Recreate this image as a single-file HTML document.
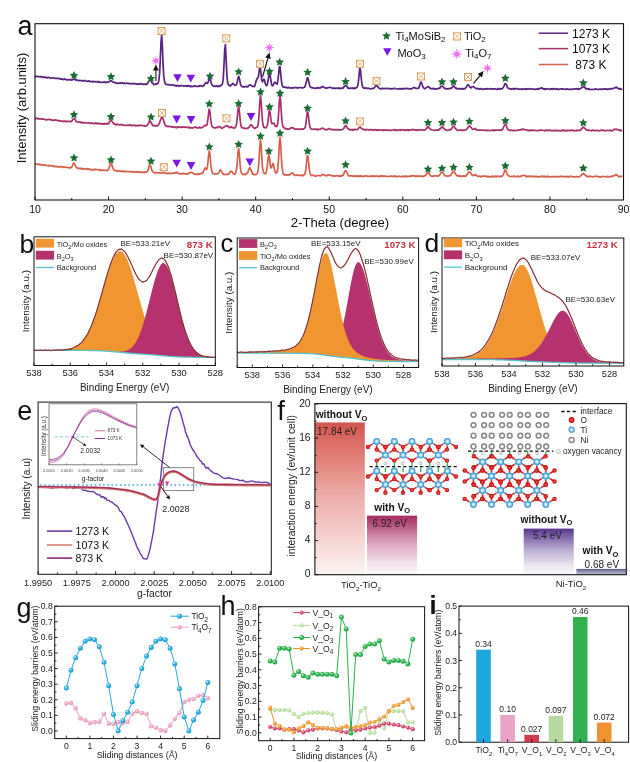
<!DOCTYPE html>
<html><head><meta charset="utf-8"><title>figure</title>
<style>html,body{margin:0;padding:0;background:#fff;} svg{display:block;filter:blur(0.35px);} text{font-family:'Liberation Sans', Arial, sans-serif;}</style>
</head><body>
<svg width="630" height="762" viewBox="0 0 630 762">
<rect width="630" height="762" fill="#fff"/>
<path d="M35.0,75.9 35.7,76.6 36.4,76.6 37.1,76.2 37.8,76.5 38.5,76.6 39.2,76.8 39.9,77.0 40.6,76.5 41.3,76.5 42.0,77.3 42.7,77.0 43.4,77.4 44.1,76.8 44.8,77.3 45.5,77.6 46.2,77.2 46.9,77.9 47.6,78.0 48.3,77.3 49.0,77.3 49.7,77.9 50.4,78.3 51.1,77.9 51.8,77.8 52.5,78.0 53.2,77.8 53.9,78.0 54.6,78.3 55.3,78.4 56.0,78.2 56.7,78.3 57.4,78.3 58.1,78.6 58.8,78.5 59.5,78.4 60.2,79.2 60.9,79.0 61.6,79.1 62.3,78.8 63.0,79.6 63.7,79.5 64.4,78.9 65.1,79.1 65.8,79.6 66.5,79.6 67.2,79.9 67.9,79.5 68.6,79.9 69.3,79.8 70.0,79.5 70.7,79.8 71.4,80.1 72.1,80.0 72.8,79.5 73.5,79.4 74.2,78.9 74.9,79.3 75.6,80.1 76.3,80.0 77.0,79.9 77.7,80.4 78.4,80.6 79.1,80.6 79.8,80.4 80.5,80.5 81.2,80.6 81.9,80.9 82.6,80.8 83.3,80.7 84.0,80.8 84.7,80.5 85.4,80.6 86.1,81.2 86.8,81.5 87.5,81.2 88.2,81.1 88.9,80.9 89.6,81.3 90.3,81.8 91.0,81.6 91.7,81.5 92.4,81.8 93.1,81.3 93.8,81.6 94.5,82.0 95.2,81.7 95.9,81.7 96.6,81.5 97.3,81.8 98.0,82.3 98.7,81.4 99.4,82.2 100.1,82.3 100.8,82.4 101.5,82.3 102.2,82.4 102.9,82.2 103.6,82.2 104.3,82.2 105.0,81.9 105.7,82.6 106.4,82.4 107.1,82.1 107.8,82.3 108.5,82.1 109.2,81.6 109.9,81.1 110.6,80.7 111.3,80.8 112.0,81.3 112.7,81.9 113.4,82.0 114.1,82.4 114.8,82.5 115.5,82.9 116.2,83.2 116.9,83.2 117.6,83.3 118.3,83.3 119.0,82.9 119.7,83.4 120.4,83.3 121.1,82.8 121.8,82.8 122.5,82.9 123.2,83.6 123.9,83.1 124.6,83.1 125.3,83.6 126.0,83.3 126.7,83.1 127.4,83.2 128.1,83.6 128.8,83.3 129.5,83.4 130.2,83.9 130.9,83.7 131.6,83.6 132.3,83.8 133.0,83.4 133.7,83.7 134.4,83.8 135.1,83.6 135.8,83.6 136.5,84.3 137.2,84.0 137.9,83.8 138.6,84.1 139.3,84.4 140.0,83.7 140.7,83.7 141.4,83.8 142.1,84.4 142.8,83.9 143.5,84.4 144.2,84.4 144.9,84.2 145.6,83.9 146.3,84.5 147.0,84.1 147.7,83.2 148.4,81.8 149.1,80.6 149.8,79.3 150.5,79.8 151.2,81.0 151.9,82.8 152.6,83.2 153.3,83.8 154.0,84.6 154.7,84.5 155.4,83.9 156.1,84.3 156.8,83.6 157.5,83.8 158.2,82.9 158.9,80.2 159.6,73.4 160.3,59.3 161.0,42.3 161.7,34.3 162.4,47.1 163.1,64.9 163.8,76.4 164.5,81.2 165.2,83.6 165.9,84.4 166.6,84.5 167.3,84.5 168.0,84.6 168.7,84.7 169.4,84.7 170.1,85.2 170.8,85.0 171.5,84.9 172.2,84.9 172.9,85.4 173.6,85.1 174.3,85.4 175.0,85.3 175.7,85.9 176.4,86.1 177.1,85.4 177.8,85.6 178.5,85.7 179.2,86.2 179.9,85.9 180.6,85.5 181.3,85.4 182.0,85.9 182.7,86.0 183.4,86.1 184.1,85.6 184.8,86.1 185.5,86.0 186.2,85.8 186.9,86.3 187.6,85.7 188.3,86.2 189.0,85.7 189.7,85.9 190.4,86.8 191.1,86.2 191.8,86.6 192.5,86.3 193.2,86.4 193.9,86.0 194.6,85.9 195.3,85.9 196.0,86.4 196.7,86.2 197.4,86.5 198.1,86.5 198.8,85.8 199.5,86.2 200.2,85.8 200.9,85.7 201.6,85.7 202.3,86.4 203.0,86.1 203.7,85.7 204.4,84.5 205.1,83.6 205.8,82.9 206.5,82.6 207.2,83.3 207.9,82.6 208.6,80.9 209.3,78.9 210.0,79.0 210.7,80.7 211.4,83.6 212.1,84.9 212.8,85.6 213.5,86.3 214.2,86.5 214.9,85.8 215.6,86.4 216.3,85.9 217.0,85.9 217.7,86.6 218.4,85.8 219.1,85.9 219.8,86.5 220.5,85.8 221.2,85.3 221.9,84.7 222.6,83.1 223.3,78.0 224.0,64.8 224.7,49.4 225.4,44.5 226.1,58.5 226.8,73.7 227.5,81.5 228.2,84.4 228.9,85.5 229.6,85.4 230.3,86.0 231.0,85.1 231.7,84.3 232.4,84.3 233.1,83.3 233.8,84.2 234.5,85.0 235.2,85.4 235.9,85.0 236.6,84.3 237.3,81.6 238.0,78.2 238.7,76.2 239.4,78.5 240.1,82.3 240.8,85.2 241.5,86.1 242.2,86.7 242.9,86.9 243.6,86.6 244.3,86.9 245.0,86.7 245.7,86.7 246.4,86.5 247.1,86.6 247.8,86.9 248.5,85.8 249.2,85.3 249.9,84.8 250.6,85.3 251.3,85.5 252.0,86.0 252.7,86.4 253.4,86.4 254.1,86.7 254.8,85.9 255.5,83.6 256.2,80.8 256.9,78.7 257.6,78.3 258.3,77.1 259.0,72.3 259.7,66.9 260.4,68.0 261.1,74.3 261.8,80.4 262.5,81.8 263.2,80.3 263.9,79.1 264.6,80.2 265.3,83.6 266.0,85.2 266.7,85.8 267.4,83.8 268.1,80.5 268.8,75.6 269.5,72.1 270.2,75.8 270.9,80.2 271.6,84.4 272.3,85.9 273.0,85.5 273.7,84.0 274.4,82.4 275.1,82.2 275.8,83.3 276.5,83.8 277.2,84.1 277.9,80.4 278.6,74.6 279.3,66.8 280.0,66.5 280.7,73.7 281.4,80.8 282.1,85.1 282.8,86.7 283.5,87.2 284.2,87.4 284.9,87.1 285.6,87.4 286.3,87.2 287.0,87.8 287.7,87.8 288.4,87.4 289.1,87.3 289.8,88.1 290.5,88.0 291.2,87.8 291.9,87.8 292.6,88.1 293.3,87.8 294.0,87.7 294.7,87.7 295.4,87.6 296.1,87.4 296.8,88.0 297.5,87.8 298.2,87.9 298.9,87.5 299.6,87.7 300.3,87.5 301.0,87.5 301.7,87.6 302.4,88.1 303.1,87.6 303.8,87.5 304.5,87.3 305.2,86.0 305.9,83.6 306.6,80.6 307.3,77.6 308.0,78.0 308.7,81.1 309.4,84.6 310.1,86.7 310.8,87.1 311.5,87.7 312.2,87.8 312.9,87.7 313.6,87.9 314.3,88.0 315.0,88.4 315.7,88.4 316.4,87.8 317.1,88.2 317.8,87.7 318.5,87.7 319.2,88.0 319.9,88.3 320.6,87.4 321.3,87.4 322.0,87.0 322.7,86.3 323.4,86.9 324.1,87.5 324.8,87.6 325.5,88.1 326.2,88.2 326.9,87.9 327.6,87.9 328.3,87.6 329.0,87.5 329.7,87.4 330.4,87.4 331.1,87.7 331.8,87.9 332.5,88.3 333.2,88.5 333.9,87.8 334.6,88.4 335.3,88.5 336.0,88.1 336.7,88.3 337.4,88.0 338.1,88.5 338.8,87.9 339.5,88.7 340.2,88.5 340.9,88.4 341.6,88.0 342.3,88.5 343.0,88.2 343.7,86.9 344.4,86.6 345.1,85.7 345.8,85.3 346.5,86.1 347.2,86.8 347.9,88.0 348.6,88.4 349.3,88.1 350.0,88.5 350.7,88.2 351.4,88.0 352.1,88.1 352.8,87.9 353.5,88.6 354.2,88.6 354.9,87.8 355.6,88.1 356.3,87.8 357.0,87.1 357.7,85.8 358.4,81.7 359.1,74.8 359.8,67.6 360.5,69.9 361.2,78.0 361.9,83.7 362.6,87.0 363.3,87.8 364.0,88.3 364.7,87.9 365.4,88.0 366.1,88.3 366.8,88.1 367.5,88.4 368.2,88.2 368.9,88.6 369.6,88.7 370.3,88.7 371.0,88.9 371.7,88.5 372.4,88.4 373.1,88.6 373.8,88.3 374.5,87.6 375.2,86.6 375.9,85.5 376.6,85.0 377.3,86.3 378.0,86.6 378.7,88.0 379.4,88.3 380.1,88.8 380.8,88.7 381.5,89.0 382.2,88.2 382.9,88.6 383.6,88.6 384.3,88.4 385.0,88.6 385.7,88.5 386.4,88.6 387.1,88.2 387.8,88.6 388.5,88.6 389.2,88.5 389.9,88.6 390.6,88.9 391.3,88.8 392.0,88.7 392.7,88.8 393.4,88.6 394.1,88.4 394.8,88.2 395.5,88.5 396.2,88.8 396.9,89.0 397.6,89.0 398.3,88.7 399.0,89.1 399.7,88.7 400.4,89.0 401.1,88.6 401.8,88.9 402.5,89.1 403.2,88.5 403.9,88.4 404.6,88.8 405.3,88.7 406.0,88.6 406.7,88.3 407.4,88.6 408.1,88.6 408.8,88.6 409.5,89.0 410.2,88.7 410.9,88.8 411.6,88.8 412.3,88.4 413.0,87.8 413.7,87.7 414.4,87.6 415.1,87.9 415.8,88.3 416.5,88.3 417.2,88.5 417.9,88.4 418.6,88.2 419.3,86.7 420.0,84.3 420.7,82.1 421.4,82.3 422.1,84.5 422.8,86.5 423.5,87.7 424.2,88.5 424.9,88.7 425.6,88.3 426.3,87.5 427.0,87.5 427.7,86.7 428.4,86.8 429.1,87.0 429.8,88.0 430.5,88.6 431.2,88.5 431.9,88.6 432.6,88.9 433.3,88.3 434.0,88.8 434.7,89.2 435.4,88.9 436.1,88.7 436.8,88.9 437.5,88.8 438.2,88.4 438.9,88.2 439.6,88.5 440.3,87.3 441.0,86.3 441.7,86.3 442.4,86.1 443.1,86.7 443.8,87.6 444.5,88.4 445.2,88.2 445.9,88.8 446.6,88.9 447.3,89.0 448.0,88.5 448.7,88.8 449.4,88.5 450.1,88.7 450.8,88.0 451.5,88.1 452.2,87.4 452.9,86.1 453.6,85.7 454.3,86.9 455.0,87.5 455.7,88.3 456.4,88.0 457.1,89.0 457.8,88.9 458.5,88.6 459.2,88.7 459.9,89.0 460.6,89.1 461.3,88.5 462.0,88.9 462.7,88.5 463.4,89.2 464.1,88.6 464.8,88.8 465.5,88.2 466.2,87.3 466.9,85.9 467.6,85.1 468.3,84.7 469.0,85.5 469.7,87.1 470.4,87.5 471.1,87.9 471.8,86.9 472.5,86.7 473.2,86.6 473.9,86.8 474.6,87.4 475.3,88.2 476.0,88.6 476.7,88.4 477.4,88.6 478.1,88.5 478.8,89.0 479.5,89.2 480.2,88.7 480.9,88.5 481.6,89.1 482.3,89.2 483.0,89.4 483.7,89.0 484.4,88.8 485.1,89.2 485.8,88.6 486.5,89.1 487.2,88.6 487.9,88.9 488.6,89.0 489.3,88.8 490.0,88.7 490.7,88.7 491.4,89.2 492.1,88.9 492.8,89.0 493.5,88.7 494.2,89.1 494.9,88.8 495.6,89.0 496.3,89.3 497.0,89.4 497.7,88.5 498.4,89.2 499.1,89.2 499.8,88.7 500.5,88.7 501.2,88.9 501.9,89.0 502.6,88.1 503.3,87.6 504.0,86.0 504.7,83.8 505.4,83.9 506.1,84.1 506.8,85.9 507.5,87.8 508.2,88.0 508.9,88.6 509.6,88.5 510.3,88.8 511.0,89.2 511.7,89.3 512.4,88.5 513.1,88.6 513.8,89.3 514.5,88.6 515.2,88.8 515.9,88.7 516.6,88.6 517.3,88.6 518.0,89.1 518.7,89.2 519.4,89.2 520.1,89.3 520.8,89.2 521.5,88.9 522.2,89.1 522.9,89.4 523.6,89.2 524.3,88.8 525.0,88.6 525.7,89.4 526.4,89.1 527.1,88.9 527.8,89.1 528.5,89.1 529.2,89.1 529.9,88.6 530.6,88.9 531.3,89.0 532.0,88.8 532.7,89.4 533.4,89.0 534.1,89.2 534.8,89.2 535.5,89.3 536.2,89.2 536.9,89.2 537.6,88.8 538.3,89.3 539.0,88.4 539.7,88.8 540.4,88.4 541.1,88.3 541.8,87.8 542.5,88.2 543.2,89.1 543.9,88.9 544.6,88.9 545.3,89.5 546.0,88.6 546.7,89.1 547.4,89.0 548.1,88.7 548.8,89.0 549.5,89.2 550.2,89.4 550.9,88.6 551.6,89.1 552.3,88.7 553.0,89.3 553.7,88.7 554.4,88.7 555.1,89.0 555.8,89.3 556.5,88.9 557.2,88.7 557.9,89.3 558.6,89.4 559.3,89.4 560.0,88.9 560.7,89.0 561.4,88.9 562.1,89.1 562.8,88.9 563.5,88.9 564.2,89.3 564.9,89.5 565.6,89.2 566.3,88.7 567.0,89.2 567.7,89.0 568.4,89.5 569.1,89.3 569.8,89.4 570.5,89.3 571.2,89.1 571.9,89.4 572.6,89.4 573.3,88.9 574.0,88.8 574.7,89.0 575.4,89.1 576.1,88.7 576.8,88.9 577.5,89.1 578.2,88.6 578.9,89.3 579.6,89.1 580.3,88.6 581.0,88.2 581.7,87.7 582.4,86.9 583.1,86.8 583.8,86.7 584.5,87.4 585.2,87.8 585.9,89.0 586.6,88.7 587.3,88.8 588.0,88.6 588.7,89.5 589.4,89.0 590.1,89.4 590.8,89.5 591.5,89.5 592.2,89.4 592.9,89.5 593.6,89.5 594.3,89.4 595.0,88.8 595.7,89.1 596.4,89.2 597.1,89.5 597.8,89.4 598.5,89.3 599.2,89.3 599.9,89.0 600.6,89.5 601.3,89.2 602.0,89.0 602.7,89.1 603.4,89.5 604.1,89.1 604.8,88.8 605.5,88.8 606.2,89.3 606.9,89.2 607.6,89.5 608.3,88.8 609.0,89.0 609.7,89.3 610.4,88.7 611.1,88.7 611.8,89.0 612.5,88.7 613.2,88.3 613.9,88.1 614.6,88.1 615.3,87.7 616.0,87.1 616.7,87.3 617.4,88.3 618.1,88.5 618.8,88.4 619.5,89.2 620.2,88.6 620.9,88.9 621.6,89.4 622.3,89.3" stroke="#5a237f" stroke-width="1.7" fill="none" stroke-linejoin="round" />
<path d="M35.0,118.7 35.7,118.8 36.4,118.0 37.1,118.1 37.8,118.9 38.5,118.9 39.2,118.9 39.9,118.6 40.6,119.0 41.3,119.1 42.0,119.1 42.7,118.8 43.4,119.1 44.1,119.2 44.8,119.5 45.5,119.8 46.2,119.9 46.9,119.6 47.6,119.6 48.3,119.5 49.0,119.3 49.7,119.4 50.4,119.8 51.1,119.8 51.8,119.9 52.5,120.4 53.2,120.2 53.9,120.3 54.6,120.0 55.3,119.9 56.0,120.2 56.7,120.1 57.4,120.5 58.1,121.0 58.8,120.8 59.5,120.4 60.2,121.1 60.9,121.1 61.6,121.1 62.3,121.3 63.0,121.2 63.7,121.3 64.4,121.0 65.1,121.6 65.8,121.6 66.5,121.0 67.2,121.5 67.9,121.6 68.6,121.4 69.3,121.5 70.0,121.4 70.7,121.8 71.4,121.1 72.1,120.8 72.8,119.4 73.5,118.9 74.2,118.7 74.9,119.2 75.6,120.4 76.3,121.6 77.0,122.0 77.7,122.0 78.4,121.9 79.1,122.0 79.8,122.5 80.5,122.0 81.2,122.8 81.9,122.3 82.6,122.9 83.3,122.4 84.0,123.0 84.7,122.9 85.4,122.7 86.1,122.8 86.8,123.0 87.5,123.0 88.2,122.8 88.9,122.7 89.6,123.0 90.3,123.5 91.0,123.2 91.7,122.8 92.4,123.5 93.1,123.5 93.8,123.7 94.5,123.1 95.2,123.6 95.9,123.0 96.6,123.6 97.3,123.3 98.0,123.3 98.7,123.9 99.4,123.3 100.1,123.7 100.8,124.0 101.5,123.5 102.2,123.5 102.9,124.2 103.6,123.8 104.3,124.1 105.0,123.5 105.7,123.8 106.4,123.7 107.1,124.1 107.8,123.4 108.5,123.8 109.2,122.2 109.9,121.5 110.6,119.8 111.3,119.9 112.0,121.5 112.7,122.3 113.4,123.3 114.1,124.3 114.8,124.2 115.5,124.0 116.2,125.0 116.9,124.3 117.6,124.2 118.3,124.5 119.0,124.8 119.7,125.0 120.4,124.5 121.1,124.7 121.8,124.5 122.5,124.9 123.2,125.2 123.9,125.2 124.6,125.4 125.3,125.3 126.0,125.4 126.7,125.3 127.4,125.2 128.1,125.0 128.8,125.4 129.5,125.1 130.2,124.9 130.9,125.3 131.6,125.7 132.3,125.1 133.0,125.5 133.7,125.4 134.4,125.5 135.1,125.2 135.8,126.0 136.5,125.4 137.2,125.7 137.9,125.6 138.6,125.2 139.3,125.7 140.0,125.4 140.7,125.3 141.4,125.3 142.1,125.5 142.8,125.4 143.5,125.9 144.2,125.8 144.9,126.2 145.6,126.2 146.3,126.1 147.0,125.2 147.7,124.7 148.4,123.3 149.1,122.0 149.8,120.8 150.5,121.3 151.2,122.8 151.9,124.0 152.6,125.2 153.3,125.8 154.0,125.5 154.7,125.6 155.4,125.9 156.1,125.7 156.8,126.1 157.5,125.5 158.2,124.9 158.9,124.1 159.6,122.6 160.3,120.5 161.0,118.6 161.7,117.1 162.4,117.1 163.1,119.1 163.8,121.0 164.5,123.7 165.2,125.2 165.9,125.9 166.6,126.1 167.3,126.4 168.0,126.6 168.7,126.2 169.4,126.6 170.1,126.8 170.8,126.5 171.5,126.5 172.2,127.1 172.9,126.8 173.6,127.0 174.3,127.4 175.0,127.2 175.7,127.1 176.4,127.8 177.1,127.3 177.8,126.9 178.5,127.4 179.2,126.8 179.9,127.0 180.6,127.5 181.3,127.4 182.0,126.8 182.7,127.2 183.4,127.2 184.1,127.3 184.8,127.1 185.5,127.4 186.2,127.0 186.9,127.2 187.6,127.3 188.3,127.9 189.0,127.2 189.7,127.9 190.4,127.6 191.1,128.0 191.8,127.8 192.5,127.7 193.2,127.9 193.9,127.5 194.6,127.2 195.3,127.2 196.0,127.2 196.7,127.9 197.4,127.7 198.1,128.0 198.8,127.8 199.5,127.2 200.2,127.7 200.9,127.8 201.6,127.7 202.3,127.4 203.0,126.9 203.7,126.5 204.4,126.1 205.1,125.2 205.8,125.6 206.5,125.4 207.2,124.1 207.9,119.3 208.6,112.8 209.3,109.0 210.0,112.3 210.7,119.0 211.4,124.2 212.1,126.2 212.8,127.1 213.5,127.6 214.2,128.0 214.9,127.8 215.6,128.0 216.3,127.3 217.0,127.4 217.7,127.7 218.4,126.6 219.1,126.7 219.8,126.7 220.5,127.1 221.2,128.1 221.9,128.3 222.6,128.0 223.3,127.4 224.0,127.2 224.7,126.6 225.4,126.4 226.1,125.9 226.8,125.6 227.5,126.1 228.2,126.4 228.9,127.2 229.6,127.7 230.3,127.4 231.0,126.7 231.7,127.3 232.4,127.7 233.1,127.5 233.8,128.2 234.5,127.7 235.2,127.6 235.9,126.3 236.6,123.9 237.3,117.6 238.0,109.6 238.7,106.1 239.4,111.7 240.1,119.0 240.8,124.7 241.5,127.3 242.2,127.4 242.9,128.0 243.6,128.1 244.3,128.1 245.0,128.4 245.7,128.7 246.4,128.5 247.1,128.2 247.8,128.5 248.5,127.6 249.2,127.2 249.9,125.9 250.6,124.9 251.3,124.9 252.0,125.3 252.7,126.9 253.4,127.5 254.1,128.1 254.8,128.5 255.5,128.1 256.2,127.4 256.9,127.4 257.6,126.5 258.3,123.3 259.0,115.3 259.7,103.9 260.4,95.2 261.1,100.8 261.8,112.3 262.5,121.3 263.2,125.9 263.9,127.4 264.6,127.2 265.3,128.0 266.0,127.8 266.7,126.6 267.4,125.0 268.1,120.2 268.8,113.3 269.5,110.2 270.2,113.0 270.9,119.6 271.6,123.2 272.3,123.7 273.0,123.2 273.7,123.0 274.4,123.9 275.1,126.2 275.8,126.4 276.5,126.5 277.2,125.9 277.9,122.5 278.6,113.9 279.3,102.2 280.0,95.4 280.7,102.2 281.4,113.7 282.1,122.2 282.8,126.4 283.5,127.3 284.2,127.8 284.9,128.7 285.6,128.3 286.3,129.0 287.0,129.1 287.7,128.8 288.4,129.1 289.1,129.1 289.8,129.0 290.5,128.1 291.2,127.7 291.9,127.7 292.6,127.9 293.3,128.2 294.0,128.3 294.7,129.1 295.4,129.5 296.1,129.1 296.8,129.2 297.5,129.1 298.2,129.2 298.9,129.5 299.6,129.0 300.3,129.3 301.0,129.1 301.7,129.2 302.4,129.4 303.1,128.6 303.8,129.1 304.5,128.2 305.2,127.1 305.9,123.8 306.6,117.6 307.3,111.8 308.0,112.7 308.7,118.1 309.4,124.3 310.1,127.2 310.8,128.6 311.5,129.2 312.2,129.4 312.9,129.3 313.6,129.1 314.3,129.1 315.0,129.3 315.7,129.2 316.4,129.2 317.1,129.9 317.8,129.1 318.5,129.7 319.2,129.3 319.9,129.3 320.6,129.1 321.3,128.5 322.0,128.5 322.7,128.1 323.4,128.5 324.1,128.8 324.8,129.6 325.5,129.8 326.2,129.4 326.9,129.5 327.6,129.6 328.3,128.9 329.0,128.6 329.7,128.8 330.4,129.0 331.1,129.6 331.8,129.5 332.5,129.5 333.2,129.9 333.9,129.4 334.6,129.9 335.3,129.8 336.0,129.6 336.7,130.0 337.4,129.5 338.1,130.0 338.8,130.1 339.5,129.7 340.2,129.8 340.9,130.0 341.6,129.8 342.3,129.6 343.0,129.3 343.7,128.5 344.4,127.1 345.1,126.2 345.8,125.3 346.5,126.5 347.2,127.8 347.9,128.5 348.6,129.2 349.3,129.2 350.0,130.1 350.7,129.6 351.4,129.7 352.1,130.1 352.8,129.5 353.5,130.2 354.2,129.4 354.9,129.3 355.6,129.6 356.3,129.5 357.0,129.7 357.7,129.3 358.4,128.6 359.1,127.6 359.8,127.2 360.5,127.1 361.2,128.2 361.9,128.5 362.6,129.0 363.3,129.7 364.0,129.4 364.7,129.6 365.4,130.2 366.1,129.5 366.8,129.6 367.5,129.6 368.2,129.7 368.9,129.9 369.6,129.7 370.3,129.8 371.0,129.7 371.7,129.7 372.4,130.1 373.1,129.8 373.8,129.9 374.5,130.2 375.2,129.6 375.9,129.7 376.6,130.3 377.3,129.9 378.0,130.3 378.7,129.7 379.4,130.0 380.1,130.3 380.8,129.9 381.5,130.3 382.2,130.1 382.9,129.9 383.6,130.5 384.3,129.9 385.0,130.0 385.7,130.2 386.4,129.9 387.1,130.4 387.8,130.1 388.5,130.1 389.2,130.1 389.9,130.5 390.6,130.5 391.3,130.4 392.0,130.0 392.7,130.0 393.4,130.1 394.1,129.7 394.8,129.7 395.5,130.5 396.2,129.8 396.9,130.5 397.6,130.3 398.3,130.5 399.0,129.7 399.7,129.9 400.4,130.4 401.1,129.7 401.8,129.8 402.5,130.0 403.2,129.8 403.9,129.8 404.6,130.3 405.3,129.8 406.0,130.5 406.7,130.3 407.4,129.7 408.1,130.5 408.8,129.9 409.5,130.1 410.2,130.2 410.9,129.8 411.6,130.0 412.3,129.5 413.0,129.4 413.7,130.0 414.4,129.9 415.1,129.8 415.8,130.1 416.5,130.4 417.2,129.8 417.9,130.1 418.6,129.8 419.3,129.8 420.0,129.8 420.7,129.9 421.4,129.7 422.1,129.8 422.8,130.0 423.5,130.1 424.2,130.2 424.9,130.0 425.6,129.4 426.3,128.5 427.0,128.0 427.7,126.7 428.4,126.7 429.1,128.0 429.8,128.7 430.5,129.0 431.2,129.6 431.9,129.8 432.6,130.0 433.3,130.0 434.0,130.0 434.7,130.4 435.4,130.4 436.1,130.2 436.8,130.1 437.5,129.8 438.2,130.2 438.9,130.1 439.6,128.9 440.3,128.6 441.0,127.8 441.7,127.2 442.4,126.6 443.1,127.8 443.8,128.3 444.5,129.0 445.2,129.8 445.9,130.1 446.6,130.1 447.3,130.3 448.0,130.3 448.7,130.0 449.4,129.6 450.1,130.0 450.8,129.6 451.5,128.9 452.2,127.7 452.9,126.3 453.6,126.2 454.3,126.6 455.0,128.1 455.7,128.9 456.4,129.2 457.1,130.3 457.8,130.5 458.5,130.5 459.2,130.1 459.9,130.0 460.6,129.9 461.3,130.5 462.0,130.4 462.7,130.0 463.4,130.5 464.1,130.2 464.8,130.0 465.5,129.8 466.2,129.7 466.9,128.9 467.6,128.1 468.3,126.6 469.0,126.3 469.7,125.8 470.4,127.1 471.1,127.5 471.8,128.5 472.5,129.2 473.2,129.2 473.9,129.0 474.6,129.1 475.3,128.4 476.0,129.4 476.7,129.8 477.4,130.2 478.1,130.1 478.8,130.2 479.5,130.1 480.2,130.2 480.9,130.1 481.6,130.0 482.3,130.3 483.0,130.0 483.7,130.3 484.4,130.4 485.1,130.2 485.8,130.0 486.5,130.4 487.2,130.7 487.9,130.1 488.6,130.4 489.3,130.5 490.0,130.7 490.7,130.5 491.4,130.2 492.1,130.1 492.8,130.6 493.5,130.2 494.2,129.9 494.9,130.7 495.6,130.1 496.3,130.2 497.0,130.2 497.7,130.1 498.4,130.5 499.1,130.1 499.8,130.2 500.5,130.1 501.2,130.4 501.9,129.4 502.6,129.4 503.3,127.9 504.0,126.2 504.7,124.9 505.4,124.1 506.1,124.9 506.8,127.1 507.5,129.0 508.2,129.7 508.9,130.0 509.6,130.4 510.3,130.6 511.0,130.0 511.7,130.1 512.4,130.7 513.1,130.7 513.8,130.1 514.5,130.5 515.2,130.7 515.9,130.4 516.6,130.5 517.3,130.4 518.0,130.1 518.7,130.0 519.4,129.8 520.1,130.2 520.8,129.5 521.5,129.7 522.2,129.2 522.9,129.1 523.6,129.7 524.3,129.4 525.0,129.8 525.7,129.9 526.4,130.0 527.1,130.1 527.8,130.4 528.5,130.7 529.2,130.0 529.9,130.8 530.6,130.6 531.3,130.0 532.0,130.6 532.7,130.3 533.4,130.4 534.1,130.1 534.8,130.4 535.5,130.5 536.2,130.7 536.9,130.5 537.6,130.6 538.3,130.7 539.0,130.2 539.7,130.0 540.4,130.4 541.1,130.1 541.8,130.1 542.5,130.3 543.2,130.5 543.9,130.6 544.6,130.6 545.3,130.9 546.0,130.1 546.7,130.5 547.4,130.1 548.1,130.6 548.8,130.4 549.5,130.1 550.2,130.3 550.9,130.6 551.6,130.4 552.3,130.9 553.0,130.3 553.7,130.3 554.4,130.9 555.1,130.6 555.8,130.1 556.5,130.7 557.2,130.4 557.9,130.9 558.6,130.6 559.3,130.7 560.0,130.8 560.7,130.5 561.4,130.9 562.1,130.0 562.8,130.3 563.5,130.8 564.2,130.0 564.9,130.6 565.6,130.9 566.3,130.7 567.0,130.8 567.7,130.1 568.4,130.5 569.1,130.6 569.8,130.4 570.5,130.4 571.2,130.7 571.9,130.2 572.6,130.1 573.3,130.5 574.0,130.9 574.7,130.8 575.4,130.6 576.1,130.3 576.8,130.8 577.5,130.0 578.2,130.2 578.9,130.6 579.6,130.6 580.3,129.9 581.0,129.8 581.7,128.4 582.4,128.1 583.1,127.1 583.8,127.4 584.5,128.1 585.2,128.7 585.9,129.6 586.6,130.1 587.3,130.1 588.0,130.5 588.7,130.0 589.4,130.5 590.1,130.5 590.8,130.4 591.5,130.8 592.2,130.1 592.9,130.4 593.6,130.4 594.3,130.4 595.0,130.9 595.7,130.6 596.4,130.5 597.1,130.4 597.8,130.4 598.5,130.9 599.2,130.8 599.9,130.6 600.6,130.2 601.3,130.6 602.0,130.2 602.7,130.4 603.4,130.1 604.1,130.7 604.8,130.9 605.5,130.6 606.2,130.6 606.9,130.3 607.6,130.4 608.3,130.5 609.0,130.4 609.7,130.3 610.4,130.2 611.1,130.7 611.8,130.8 612.5,130.6 613.2,130.2 613.9,129.4 614.6,129.3 615.3,129.4 616.0,129.4 616.7,129.2 617.4,129.5 618.1,130.0 618.8,129.9 619.5,130.5 620.2,130.3 620.9,130.8 621.6,130.4 622.3,130.6" stroke="#a8306c" stroke-width="1.7" fill="none" stroke-linejoin="round" />
<path d="M35.0,163.8 35.7,164.1 36.4,164.1 37.1,164.4 37.8,164.5 38.5,164.0 39.2,164.1 39.9,164.9 40.6,164.5 41.3,164.5 42.0,165.3 42.7,164.9 43.4,165.3 44.1,165.1 44.8,165.3 45.5,164.9 46.2,165.5 46.9,165.7 47.6,165.5 48.3,165.8 49.0,165.8 49.7,165.3 50.4,166.0 51.1,166.0 51.8,165.8 52.5,165.6 53.2,166.4 53.9,166.1 54.6,166.4 55.3,166.7 56.0,166.6 56.7,166.8 57.4,166.4 58.1,166.9 58.8,166.6 59.5,167.1 60.2,167.1 60.9,166.5 61.6,166.6 62.3,166.7 63.0,167.5 63.7,167.1 64.4,167.3 65.1,167.1 65.8,167.3 66.5,167.3 67.2,167.3 67.9,167.5 68.6,167.6 69.3,167.9 70.0,167.7 70.7,167.8 71.4,167.3 72.1,166.6 72.8,164.9 73.5,163.0 74.2,163.3 74.9,164.6 75.6,166.2 76.3,167.2 77.0,168.0 77.7,167.9 78.4,168.6 79.1,168.5 79.8,168.3 80.5,168.2 81.2,168.9 81.9,169.1 82.6,168.4 83.3,169.1 84.0,168.8 84.7,168.6 85.4,168.8 86.1,169.3 86.8,169.4 87.5,168.7 88.2,169.3 88.9,168.8 89.6,169.5 90.3,169.2 91.0,169.8 91.7,169.9 92.4,169.5 93.1,170.0 93.8,169.4 94.5,169.3 95.2,169.8 95.9,169.3 96.6,169.5 97.3,169.8 98.0,170.0 98.7,169.6 99.4,169.6 100.1,170.4 100.8,169.9 101.5,170.5 102.2,170.5 102.9,170.1 103.6,170.2 104.3,170.2 105.0,170.4 105.7,170.3 106.4,170.3 107.1,170.3 107.8,170.3 108.5,169.2 109.2,167.6 109.9,165.6 110.6,163.0 111.3,163.0 112.0,165.6 112.7,167.6 113.4,169.3 114.1,169.8 114.8,170.5 115.5,170.8 116.2,170.4 116.9,171.0 117.6,171.1 118.3,170.7 119.0,171.2 119.7,171.1 120.4,171.4 121.1,171.1 121.8,171.5 122.5,171.6 123.2,171.0 123.9,171.0 124.6,171.6 125.3,171.9 126.0,171.3 126.7,171.5 127.4,171.7 128.1,171.5 128.8,171.6 129.5,171.6 130.2,171.6 130.9,171.9 131.6,171.6 132.3,171.8 133.0,172.1 133.7,171.5 134.4,172.0 135.1,172.2 135.8,171.8 136.5,171.8 137.2,172.4 137.9,171.9 138.6,171.9 139.3,172.1 140.0,172.4 140.7,171.8 141.4,172.1 142.1,172.1 142.8,172.6 143.5,172.2 144.2,172.6 144.9,172.0 145.6,172.1 146.3,172.2 147.0,172.1 147.7,170.7 148.4,168.7 149.1,166.2 149.8,164.9 150.5,165.2 151.2,168.0 151.9,170.3 152.6,171.2 153.3,172.0 154.0,172.8 154.7,172.7 155.4,173.0 156.1,172.6 156.8,172.5 157.5,172.7 158.2,173.1 158.9,172.7 159.6,172.8 160.3,172.9 161.0,172.8 161.7,172.8 162.4,173.1 163.1,172.4 163.8,172.2 164.5,173.1 165.2,173.2 165.9,173.4 166.6,173.0 167.3,173.6 168.0,173.6 168.7,173.0 169.4,173.5 170.1,173.6 170.8,173.5 171.5,173.4 172.2,173.2 172.9,173.3 173.6,173.1 174.3,172.9 175.0,173.1 175.7,172.5 176.4,172.8 177.1,172.1 177.8,173.2 178.5,173.4 179.2,173.8 179.9,173.9 180.6,174.0 181.3,173.7 182.0,173.3 182.7,173.9 183.4,173.4 184.1,173.6 184.8,173.9 185.5,173.8 186.2,173.7 186.9,174.2 187.6,173.9 188.3,173.5 189.0,173.1 189.7,173.2 190.4,172.4 191.1,172.5 191.8,172.4 192.5,172.8 193.2,173.6 193.9,174.1 194.6,173.6 195.3,174.2 196.0,174.4 196.7,174.3 197.4,174.3 198.1,173.6 198.8,174.1 199.5,174.3 200.2,173.5 200.9,173.7 201.6,173.5 202.3,173.4 203.0,172.5 203.7,171.0 204.4,169.4 205.1,167.9 205.8,168.7 206.5,169.6 207.2,168.1 207.9,162.7 208.6,155.3 209.3,150.6 210.0,154.6 210.7,163.5 211.4,169.5 212.1,172.3 212.8,173.3 213.5,173.9 214.2,174.0 214.9,173.9 215.6,173.8 216.3,174.0 217.0,173.7 217.7,173.9 218.4,173.4 219.1,172.1 219.8,170.5 220.5,170.0 221.2,170.8 221.9,172.3 222.6,173.6 223.3,173.9 224.0,174.6 224.7,174.5 225.4,174.4 226.1,174.4 226.8,174.4 227.5,174.6 228.2,174.1 228.9,173.8 229.6,172.7 230.3,171.5 231.0,171.2 231.7,171.8 232.4,172.3 233.1,173.4 233.8,173.8 234.5,174.2 235.2,174.0 235.9,172.3 236.6,169.2 237.3,161.9 238.0,152.1 238.7,148.5 239.4,154.5 240.1,164.4 240.8,170.4 241.5,173.3 242.2,174.1 242.9,174.3 243.6,174.6 244.3,174.5 245.0,174.1 245.7,174.5 246.4,173.7 247.1,173.3 247.8,172.6 248.5,170.1 249.2,168.3 249.9,167.6 250.6,169.5 251.3,170.8 252.0,172.4 252.7,174.1 253.4,173.9 254.1,174.7 254.8,174.5 255.5,174.6 256.2,174.5 256.9,173.7 257.6,172.7 258.3,168.4 259.0,160.8 259.7,148.2 260.4,139.8 261.1,144.4 261.8,157.4 262.5,167.3 263.2,171.2 263.9,173.1 264.6,173.7 265.3,173.9 266.0,172.7 266.7,170.4 267.4,165.3 268.1,158.5 268.8,154.6 269.5,158.0 270.2,164.4 270.9,168.0 271.6,167.6 272.3,165.2 273.0,163.5 273.7,165.6 274.4,169.2 275.1,171.4 275.8,173.1 276.5,172.8 277.2,172.0 277.9,167.8 278.6,158.0 279.3,144.5 280.0,137.1 280.7,144.7 281.4,158.4 282.1,167.5 282.8,171.9 283.5,174.1 284.2,174.8 284.9,174.7 285.6,174.8 286.3,175.2 287.0,174.8 287.7,174.9 288.4,174.9 289.1,175.1 289.8,174.5 290.5,173.8 291.2,173.4 291.9,173.2 292.6,172.9 293.3,174.1 294.0,174.6 294.7,175.5 295.4,175.4 296.1,175.2 296.8,175.2 297.5,175.1 298.2,175.5 298.9,175.4 299.6,175.2 300.3,175.4 301.0,175.3 301.7,175.7 302.4,175.0 303.1,175.7 303.8,175.0 304.5,174.6 305.2,172.9 305.9,169.2 306.6,162.3 307.3,155.6 308.0,156.2 308.7,163.3 309.4,170.1 310.1,173.3 310.8,174.9 311.5,175.6 312.2,175.3 312.9,175.2 313.6,175.3 314.3,175.8 315.0,175.8 315.7,176.1 316.4,176.0 317.1,175.5 317.8,175.5 318.5,175.5 319.2,175.5 319.9,175.8 320.6,175.8 321.3,175.4 322.0,174.4 322.7,174.7 323.4,174.5 324.1,175.0 324.8,175.7 325.5,175.3 326.2,175.3 326.9,175.9 327.6,175.2 328.3,174.9 329.0,175.0 329.7,175.2 330.4,175.0 331.1,175.5 331.8,175.8 332.5,175.9 333.2,175.7 333.9,176.0 334.6,176.4 335.3,175.9 336.0,176.0 336.7,175.6 337.4,175.8 338.1,176.1 338.8,175.6 339.5,176.3 340.2,176.3 340.9,175.5 341.6,176.2 342.3,175.4 343.0,175.2 343.7,174.1 344.4,172.1 345.1,170.9 345.8,170.6 346.5,171.9 347.2,173.0 347.9,174.8 348.6,175.8 349.3,175.9 350.0,175.9 350.7,175.6 351.4,176.0 352.1,175.9 352.8,176.3 353.5,176.2 354.2,176.2 354.9,175.8 355.6,176.3 356.3,176.2 357.0,175.9 357.7,176.5 358.4,176.3 359.1,175.8 359.8,176.6 360.5,175.8 361.2,176.0 361.9,176.4 362.6,176.3 363.3,176.2 364.0,176.3 364.7,176.2 365.4,176.0 366.1,175.9 366.8,175.8 367.5,176.4 368.2,176.5 368.9,176.3 369.6,176.4 370.3,176.1 371.0,176.0 371.7,176.1 372.4,176.6 373.1,175.8 373.8,176.3 374.5,176.0 375.2,176.5 375.9,176.1 376.6,176.1 377.3,176.2 378.0,176.3 378.7,176.5 379.4,176.1 380.1,176.6 380.8,175.9 381.5,176.1 382.2,175.9 382.9,175.9 383.6,176.5 384.3,176.5 385.0,176.0 385.7,176.0 386.4,176.2 387.1,176.5 387.8,176.6 388.5,176.5 389.2,176.4 389.9,176.0 390.6,176.2 391.3,176.0 392.0,176.3 392.7,176.4 393.4,176.1 394.1,176.1 394.8,176.6 395.5,175.9 396.2,176.6 396.9,176.7 397.6,176.7 398.3,176.2 399.0,176.4 399.7,176.4 400.4,176.5 401.1,176.8 401.8,176.5 402.5,176.2 403.2,176.7 403.9,176.3 404.6,176.4 405.3,176.6 406.0,175.9 406.7,176.6 407.4,176.5 408.1,176.3 408.8,176.4 409.5,176.3 410.2,176.0 410.9,176.3 411.6,175.8 412.3,176.0 413.0,175.9 413.7,175.5 414.4,175.7 415.1,176.2 415.8,176.4 416.5,175.9 417.2,176.5 417.9,176.4 418.6,175.9 419.3,176.2 420.0,176.1 420.7,175.9 421.4,176.4 422.1,176.7 422.8,176.1 423.5,176.5 424.2,176.2 424.9,175.4 425.6,175.5 426.3,174.4 427.0,173.7 427.7,172.7 428.4,172.8 429.1,173.3 429.8,174.7 430.5,175.7 431.2,176.1 431.9,176.0 432.6,176.4 433.3,176.2 434.0,175.9 434.7,175.9 435.4,175.9 436.1,176.0 436.8,175.9 437.5,176.2 438.2,176.2 438.9,175.7 439.6,174.9 440.3,174.1 441.0,172.7 441.7,172.0 442.4,172.3 443.1,172.9 443.8,173.9 444.5,175.5 445.2,175.9 445.9,175.9 446.6,176.0 447.3,176.2 448.0,176.3 448.7,175.9 449.4,175.6 450.1,175.5 450.8,175.5 451.5,173.9 452.2,173.0 452.9,171.6 453.6,171.2 454.3,171.8 455.0,173.3 455.7,174.3 456.4,175.0 457.1,175.6 457.8,175.9 458.5,176.2 459.2,175.9 459.9,175.9 460.6,176.3 461.3,176.3 462.0,176.5 462.7,175.9 463.4,176.2 464.1,176.2 464.8,175.8 465.5,176.5 466.2,175.4 466.9,174.7 467.6,174.0 468.3,172.6 469.0,172.2 469.7,171.9 470.4,172.4 471.1,173.4 471.8,175.0 472.5,175.1 473.2,175.6 473.9,175.0 474.6,175.1 475.3,174.5 476.0,174.9 476.7,175.5 477.4,176.4 478.1,176.4 478.8,176.2 479.5,176.1 480.2,176.6 480.9,176.9 481.6,176.6 482.3,176.0 483.0,176.1 483.7,176.1 484.4,176.2 485.1,176.1 485.8,176.1 486.5,176.6 487.2,176.9 487.9,176.2 488.6,176.9 489.3,176.5 490.0,176.8 490.7,176.9 491.4,176.9 492.1,176.1 492.8,176.3 493.5,176.6 494.2,176.9 494.9,176.1 495.6,176.3 496.3,176.8 497.0,176.1 497.7,176.4 498.4,176.3 499.1,176.6 499.8,176.8 500.5,176.1 501.2,176.5 501.9,176.2 502.6,175.7 503.3,174.3 504.0,172.8 504.7,170.5 505.4,169.9 506.1,170.9 506.8,173.3 507.5,174.6 508.2,175.4 508.9,175.8 509.6,176.5 510.3,176.5 511.0,176.6 511.7,176.4 512.4,176.5 513.1,176.2 513.8,176.7 514.5,176.1 515.2,176.5 515.9,176.7 516.6,176.7 517.3,176.1 518.0,176.3 518.7,176.8 519.4,176.5 520.1,176.6 520.8,176.3 521.5,175.7 522.2,175.8 522.9,175.5 523.6,175.2 524.3,175.5 525.0,175.5 525.7,176.1 526.4,176.8 527.1,176.1 527.8,176.6 528.5,176.2 529.2,176.2 529.9,176.7 530.6,176.3 531.3,176.2 532.0,176.3 532.7,176.7 533.4,176.7 534.1,176.1 534.8,176.3 535.5,177.0 536.2,176.3 536.9,176.7 537.6,176.5 538.3,176.9 539.0,176.7 539.7,176.9 540.4,176.6 541.1,176.3 541.8,176.3 542.5,176.2 543.2,176.9 543.9,176.3 544.6,176.2 545.3,177.0 546.0,176.3 546.7,177.0 547.4,176.2 548.1,176.6 548.8,176.4 549.5,176.9 550.2,176.7 550.9,176.7 551.6,176.9 552.3,177.0 553.0,176.5 553.7,176.7 554.4,176.6 555.1,176.3 555.8,176.9 556.5,176.7 557.2,176.9 557.9,176.4 558.6,176.7 559.3,176.6 560.0,176.8 560.7,176.2 561.4,176.5 562.1,176.6 562.8,176.2 563.5,176.7 564.2,176.8 564.9,176.6 565.6,176.8 566.3,176.7 567.0,176.4 567.7,176.5 568.4,177.1 569.1,176.5 569.8,176.6 570.5,176.2 571.2,176.4 571.9,176.3 572.6,177.0 573.3,176.8 574.0,176.9 574.7,177.0 575.4,176.7 576.1,177.0 576.8,176.6 577.5,176.5 578.2,176.9 578.9,176.8 579.6,176.7 580.3,176.0 581.0,175.7 581.7,174.6 582.4,174.3 583.1,173.7 583.8,173.3 584.5,174.6 585.2,174.8 585.9,175.4 586.6,176.4 587.3,176.2 588.0,176.5 588.7,176.7 589.4,176.1 590.1,176.8 590.8,176.4 591.5,176.5 592.2,176.5 592.9,176.8 593.6,176.8 594.3,176.4 595.0,176.3 595.7,176.4 596.4,176.5 597.1,176.2 597.8,176.3 598.5,176.9 599.2,176.8 599.9,177.1 600.6,177.1 601.3,177.0 602.0,176.5 602.7,176.3 603.4,176.5 604.1,176.6 604.8,176.7 605.5,176.7 606.2,176.5 606.9,176.9 607.6,176.4 608.3,176.6 609.0,177.0 609.7,176.9 610.4,176.4 611.1,176.3 611.8,176.8 612.5,176.0 613.2,175.9 613.9,175.9 614.6,175.5 615.3,174.8 616.0,174.6 616.7,174.9 617.4,175.7 618.1,175.8 618.8,176.6 619.5,176.7 620.2,176.9 620.9,176.2 621.6,176.3 622.3,176.2" stroke="#d5604c" stroke-width="1.7" fill="none" stroke-linejoin="round" />
<rect x="35.00" y="23.70" width="588.50" height="176.30" fill="none" stroke="#111" stroke-width="1.1" />
<line x1="35.00" y1="200.00" x2="35.00" y2="196.50" stroke="#111" stroke-width="1" />
<text x="35.0" y="213.0" font-size="10.5" text-anchor="middle" fill="#111" >10</text>
<line x1="71.78" y1="200.00" x2="71.78" y2="198.00" stroke="#111" stroke-width="1" />
<line x1="108.56" y1="200.00" x2="108.56" y2="196.50" stroke="#111" stroke-width="1" />
<text x="108.6" y="213.0" font-size="10.5" text-anchor="middle" fill="#111" >20</text>
<line x1="145.34" y1="200.00" x2="145.34" y2="198.00" stroke="#111" stroke-width="1" />
<line x1="182.12" y1="200.00" x2="182.12" y2="196.50" stroke="#111" stroke-width="1" />
<text x="182.1" y="213.0" font-size="10.5" text-anchor="middle" fill="#111" >30</text>
<line x1="218.91" y1="200.00" x2="218.91" y2="198.00" stroke="#111" stroke-width="1" />
<line x1="255.69" y1="200.00" x2="255.69" y2="196.50" stroke="#111" stroke-width="1" />
<text x="255.7" y="213.0" font-size="10.5" text-anchor="middle" fill="#111" >40</text>
<line x1="292.47" y1="200.00" x2="292.47" y2="198.00" stroke="#111" stroke-width="1" />
<line x1="329.25" y1="200.00" x2="329.25" y2="196.50" stroke="#111" stroke-width="1" />
<text x="329.2" y="213.0" font-size="10.5" text-anchor="middle" fill="#111" >50</text>
<line x1="366.03" y1="200.00" x2="366.03" y2="198.00" stroke="#111" stroke-width="1" />
<line x1="402.81" y1="200.00" x2="402.81" y2="196.50" stroke="#111" stroke-width="1" />
<text x="402.8" y="213.0" font-size="10.5" text-anchor="middle" fill="#111" >60</text>
<line x1="439.59" y1="200.00" x2="439.59" y2="198.00" stroke="#111" stroke-width="1" />
<line x1="476.38" y1="200.00" x2="476.38" y2="196.50" stroke="#111" stroke-width="1" />
<text x="476.4" y="213.0" font-size="10.5" text-anchor="middle" fill="#111" >70</text>
<line x1="513.16" y1="200.00" x2="513.16" y2="198.00" stroke="#111" stroke-width="1" />
<line x1="549.94" y1="200.00" x2="549.94" y2="196.50" stroke="#111" stroke-width="1" />
<text x="549.9" y="213.0" font-size="10.5" text-anchor="middle" fill="#111" >80</text>
<line x1="586.72" y1="200.00" x2="586.72" y2="198.00" stroke="#111" stroke-width="1" />
<line x1="623.50" y1="200.00" x2="623.50" y2="196.50" stroke="#111" stroke-width="1" />
<text x="623.5" y="213.0" font-size="10.5" text-anchor="middle" fill="#111" >90</text>
<text x="340.0" y="226.5" font-size="13.1" text-anchor="middle" fill="#111" >2-Theta (degree)</text>
<text x="0.0" y="0.0" font-size="13.0" text-anchor="middle" fill="#111" transform="translate(25.8,108) rotate(-90)">Intensity (arb.units)</text>
<text x="17.5" y="35.2" font-size="27" text-anchor="start" fill="#111" >a</text>
<path d="M74.0,71.0 75.3,73.8 78.3,74.1 76.1,76.2 76.6,79.1 74.0,77.7 71.4,79.1 71.9,76.2 69.7,74.1 72.7,73.8Z" fill="#1d6b35" stroke="none" />
<path d="M111.0,72.2 112.3,75.0 115.3,75.3 113.1,77.4 113.6,80.3 111.0,78.9 108.4,80.3 108.9,77.4 106.7,75.3 109.7,75.0Z" fill="#1d6b35" stroke="none" />
<path d="M151.0,74.1 152.3,76.9 155.3,77.2 153.1,79.3 153.6,82.2 151.0,80.8 148.4,82.2 148.9,79.3 146.7,77.2 149.7,76.9Z" fill="#1d6b35" stroke="none" />
<path d="M210.0,71.7 211.3,74.5 214.3,74.8 212.1,76.9 212.6,79.8 210.0,78.4 207.4,79.8 207.9,76.9 205.7,74.8 208.7,74.5Z" fill="#1d6b35" stroke="none" />
<path d="M238.6,67.4 239.9,70.2 242.9,70.5 240.7,72.6 241.2,75.5 238.6,74.1 236.0,75.5 236.5,72.6 234.3,70.5 237.3,70.2Z" fill="#1d6b35" stroke="none" />
<path d="M269.5,66.9 270.8,69.7 273.8,70.0 271.6,72.1 272.1,75.0 269.5,73.6 266.9,75.0 267.4,72.1 265.2,70.0 268.2,69.7Z" fill="#1d6b35" stroke="none" />
<path d="M279.7,57.7 281.0,60.5 284.0,60.8 281.8,62.9 282.3,65.8 279.7,64.4 277.1,65.8 277.6,62.9 275.4,60.8 278.4,60.5Z" fill="#1d6b35" stroke="none" />
<path d="M307.6,67.9 308.9,70.7 311.9,71.0 309.7,73.1 310.2,76.0 307.6,74.6 305.0,76.0 305.5,73.1 303.3,71.0 306.3,70.7Z" fill="#1d6b35" stroke="none" />
<path d="M345.6,77.1 346.9,79.9 349.9,80.2 347.7,82.3 348.2,85.2 345.6,83.8 343.0,85.2 343.5,82.3 341.3,80.2 344.3,79.9Z" fill="#1d6b35" stroke="none" />
<path d="M442.0,77.5 443.3,80.3 446.3,80.6 444.1,82.7 444.6,85.6 442.0,84.2 439.4,85.6 439.9,82.7 437.7,80.6 440.7,80.3Z" fill="#1d6b35" stroke="none" />
<path d="M453.5,77.5 454.8,80.3 457.8,80.6 455.6,82.7 456.1,85.6 453.5,84.2 450.9,85.6 451.4,82.7 449.2,80.6 452.2,80.3Z" fill="#1d6b35" stroke="none" />
<path d="M505.3,73.8 506.6,76.6 509.6,76.9 507.4,79.0 507.9,81.9 505.3,80.5 502.7,81.9 503.2,79.0 501.0,76.9 504.0,76.6Z" fill="#1d6b35" stroke="none" />
<path d="M583.3,78.5 584.6,81.3 587.6,81.6 585.4,83.7 585.9,86.6 583.3,85.2 580.7,86.6 581.2,83.7 579.0,81.6 582.0,81.3Z" fill="#1d6b35" stroke="none" />
<path d="M173.2,74.2 181.8,74.2 177.5,82.0Z" fill="#7b17e6" stroke="none" />
<path d="M186.5,74.8 195.1,74.8 190.8,82.6Z" fill="#7b17e6" stroke="none" />
<rect x="158.10" y="27.50" width="7.00" height="7.00" fill="#fff" stroke="#d9a060" stroke-width="1.0" />
<line x1="158.10" y1="27.50" x2="165.10" y2="34.50" stroke="#d9a060" stroke-width="0.8" />
<line x1="158.10" y1="34.50" x2="165.10" y2="27.50" stroke="#d9a060" stroke-width="0.8" />
<rect x="222.80" y="34.90" width="7.00" height="7.00" fill="#fff" stroke="#d9a060" stroke-width="1.0" />
<line x1="222.80" y1="34.90" x2="229.80" y2="41.90" stroke="#d9a060" stroke-width="0.8" />
<line x1="222.80" y1="41.90" x2="229.80" y2="34.90" stroke="#d9a060" stroke-width="0.8" />
<rect x="256.50" y="60.30" width="7.00" height="7.00" fill="#fff" stroke="#d9a060" stroke-width="1.0" />
<line x1="256.50" y1="60.30" x2="263.50" y2="67.30" stroke="#d9a060" stroke-width="0.8" />
<line x1="256.50" y1="67.30" x2="263.50" y2="60.30" stroke="#d9a060" stroke-width="0.8" />
<rect x="356.50" y="60.30" width="7.00" height="7.00" fill="#fff" stroke="#d9a060" stroke-width="1.0" />
<line x1="356.50" y1="60.30" x2="363.50" y2="67.30" stroke="#d9a060" stroke-width="0.8" />
<line x1="356.50" y1="67.30" x2="363.50" y2="60.30" stroke="#d9a060" stroke-width="0.8" />
<rect x="373.00" y="77.60" width="7.00" height="7.00" fill="#fff" stroke="#d9a060" stroke-width="1.0" />
<line x1="373.00" y1="77.60" x2="380.00" y2="84.60" stroke="#d9a060" stroke-width="0.8" />
<line x1="373.00" y1="84.60" x2="380.00" y2="77.60" stroke="#d9a060" stroke-width="0.8" />
<rect x="417.50" y="73.00" width="7.00" height="7.00" fill="#fff" stroke="#d9a060" stroke-width="1.0" />
<line x1="417.50" y1="73.00" x2="424.50" y2="80.00" stroke="#d9a060" stroke-width="0.8" />
<line x1="417.50" y1="80.00" x2="424.50" y2="73.00" stroke="#d9a060" stroke-width="0.8" />
<rect x="464.50" y="73.50" width="7.00" height="7.00" fill="#fff" stroke="#d9a060" stroke-width="1.0" />
<line x1="464.50" y1="73.50" x2="471.50" y2="80.50" stroke="#d9a060" stroke-width="0.8" />
<line x1="464.50" y1="80.50" x2="471.50" y2="73.50" stroke="#d9a060" stroke-width="0.8" />
<line x1="155.90" y1="81.00" x2="155.90" y2="70.50" stroke="#111" stroke-width="1.1" />
<path d="M155.9,64.5 158.7,70.5 153.1,70.5Z" fill="#111" stroke="none" />
<circle cx="155.9" cy="60.8" r="2.3" fill="#f070f0"/>
<line x1="157.16" y1="60.80" x2="160.10" y2="60.80" stroke="#f070f0" stroke-width="1.0" />
<line x1="156.79" y1="61.69" x2="158.87" y2="63.77" stroke="#f070f0" stroke-width="1.0" />
<line x1="155.90" y1="62.06" x2="155.90" y2="65.00" stroke="#f070f0" stroke-width="1.0" />
<line x1="155.01" y1="61.69" x2="152.93" y2="63.77" stroke="#f070f0" stroke-width="1.0" />
<line x1="154.64" y1="60.80" x2="151.70" y2="60.80" stroke="#f070f0" stroke-width="1.0" />
<line x1="155.01" y1="59.91" x2="152.93" y2="57.83" stroke="#f070f0" stroke-width="1.0" />
<line x1="155.90" y1="59.54" x2="155.90" y2="56.60" stroke="#f070f0" stroke-width="1.0" />
<line x1="156.79" y1="59.91" x2="158.87" y2="57.83" stroke="#f070f0" stroke-width="1.0" />
<line x1="262.50" y1="77.00" x2="267.93" y2="58.26" stroke="#111" stroke-width="1.1" />
<path d="M269.6,52.5 270.6,59.0 265.2,57.5Z" fill="#111" stroke="none" />
<circle cx="269.5" cy="47.6" r="2.3" fill="#f070f0"/>
<line x1="270.76" y1="47.60" x2="273.70" y2="47.60" stroke="#f070f0" stroke-width="1.0" />
<line x1="270.39" y1="48.49" x2="272.47" y2="50.57" stroke="#f070f0" stroke-width="1.0" />
<line x1="269.50" y1="48.86" x2="269.50" y2="51.80" stroke="#f070f0" stroke-width="1.0" />
<line x1="268.61" y1="48.49" x2="266.53" y2="50.57" stroke="#f070f0" stroke-width="1.0" />
<line x1="268.24" y1="47.60" x2="265.30" y2="47.60" stroke="#f070f0" stroke-width="1.0" />
<line x1="268.61" y1="46.71" x2="266.53" y2="44.63" stroke="#f070f0" stroke-width="1.0" />
<line x1="269.50" y1="46.34" x2="269.50" y2="43.40" stroke="#f070f0" stroke-width="1.0" />
<line x1="270.39" y1="46.71" x2="272.47" y2="44.63" stroke="#f070f0" stroke-width="1.0" />
<line x1="473.50" y1="83.70" x2="479.79" y2="75.71" stroke="#111" stroke-width="1.1" />
<path d="M483.5,71.0 482.0,77.4 477.6,74.0Z" fill="#111" stroke="none" />
<circle cx="487.5" cy="68.3" r="2.3" fill="#f070f0"/>
<line x1="488.76" y1="68.30" x2="491.70" y2="68.30" stroke="#f070f0" stroke-width="1.0" />
<line x1="488.39" y1="69.19" x2="490.47" y2="71.27" stroke="#f070f0" stroke-width="1.0" />
<line x1="487.50" y1="69.56" x2="487.50" y2="72.50" stroke="#f070f0" stroke-width="1.0" />
<line x1="486.61" y1="69.19" x2="484.53" y2="71.27" stroke="#f070f0" stroke-width="1.0" />
<line x1="486.24" y1="68.30" x2="483.30" y2="68.30" stroke="#f070f0" stroke-width="1.0" />
<line x1="486.61" y1="67.41" x2="484.53" y2="65.33" stroke="#f070f0" stroke-width="1.0" />
<line x1="487.50" y1="67.04" x2="487.50" y2="64.10" stroke="#f070f0" stroke-width="1.0" />
<line x1="488.39" y1="67.41" x2="490.47" y2="65.33" stroke="#f070f0" stroke-width="1.0" />
<path d="M74.0,110.3 75.3,113.1 78.3,113.4 76.1,115.5 76.6,118.4 74.0,117.0 71.4,118.4 71.9,115.5 69.7,113.4 72.7,113.1Z" fill="#1d6b35" stroke="none" />
<path d="M111.0,112.2 112.3,115.0 115.3,115.3 113.1,117.4 113.6,120.3 111.0,118.9 108.4,120.3 108.9,117.4 106.7,115.3 109.7,115.0Z" fill="#1d6b35" stroke="none" />
<path d="M151.0,112.6 152.3,115.4 155.3,115.7 153.1,117.8 153.6,120.7 151.0,119.3 148.4,120.7 148.9,117.8 146.7,115.7 149.7,115.4Z" fill="#1d6b35" stroke="none" />
<path d="M209.3,99.5 210.6,102.3 213.6,102.6 211.4,104.7 211.9,107.6 209.3,106.2 206.7,107.6 207.2,104.7 205.0,102.6 208.0,102.3Z" fill="#1d6b35" stroke="none" />
<path d="M238.6,99.1 239.9,101.9 242.9,102.2 240.7,104.3 241.2,107.2 238.6,105.8 236.0,107.2 236.5,104.3 234.3,102.2 237.3,101.9Z" fill="#1d6b35" stroke="none" />
<path d="M260.5,87.5 261.8,90.3 264.8,90.6 262.6,92.7 263.1,95.6 260.5,94.2 257.9,95.6 258.4,92.7 256.2,90.6 259.2,90.3Z" fill="#1d6b35" stroke="none" />
<path d="M269.5,102.5 270.8,105.3 273.8,105.6 271.6,107.7 272.1,110.6 269.5,109.2 266.9,110.6 267.4,107.7 265.2,105.6 268.2,105.3Z" fill="#1d6b35" stroke="none" />
<path d="M280.0,88.8 281.3,91.6 284.3,91.9 282.1,94.0 282.6,96.9 280.0,95.5 277.4,96.9 277.9,94.0 275.7,91.9 278.7,91.6Z" fill="#1d6b35" stroke="none" />
<path d="M307.6,103.8 308.9,106.6 311.9,106.9 309.7,109.0 310.2,111.9 307.6,110.5 305.0,111.9 305.5,109.0 303.3,106.9 306.3,106.6Z" fill="#1d6b35" stroke="none" />
<path d="M345.6,116.5 346.9,119.3 349.9,119.6 347.7,121.7 348.2,124.6 345.6,123.2 343.0,124.6 343.5,121.7 341.3,119.6 344.3,119.3Z" fill="#1d6b35" stroke="none" />
<path d="M428.0,118.2 429.3,121.0 432.3,121.3 430.1,123.4 430.6,126.3 428.0,124.9 425.4,126.3 425.9,123.4 423.7,121.3 426.7,121.0Z" fill="#1d6b35" stroke="none" />
<path d="M442.0,118.2 443.3,121.0 446.3,121.3 444.1,123.4 444.6,126.3 442.0,124.9 439.4,126.3 439.9,123.4 437.7,121.3 440.7,121.0Z" fill="#1d6b35" stroke="none" />
<path d="M453.5,117.7 454.8,120.5 457.8,120.8 455.6,122.9 456.1,125.8 453.5,124.4 450.9,125.8 451.4,122.9 449.2,120.8 452.2,120.5Z" fill="#1d6b35" stroke="none" />
<path d="M469.4,117.0 470.7,119.8 473.7,120.1 471.5,122.2 472.0,125.1 469.4,123.7 466.8,125.1 467.3,122.2 465.1,120.1 468.1,119.8Z" fill="#1d6b35" stroke="none" />
<path d="M505.3,116.2 506.6,119.0 509.6,119.3 507.4,121.4 507.9,124.3 505.3,122.9 502.7,124.3 503.2,121.4 501.0,119.3 504.0,119.0Z" fill="#1d6b35" stroke="none" />
<path d="M583.3,118.4 584.6,121.2 587.6,121.5 585.4,123.6 585.9,126.5 583.3,125.1 580.7,126.5 581.2,123.6 579.0,121.5 582.0,121.2Z" fill="#1d6b35" stroke="none" />
<path d="M172.4,115.6 181.0,115.6 176.7,123.4Z" fill="#7b17e6" stroke="none" />
<path d="M186.7,116.1 195.3,116.1 191.0,123.9Z" fill="#7b17e6" stroke="none" />
<path d="M246.7,113.1 255.3,113.1 251.0,120.9Z" fill="#7b17e6" stroke="none" />
<rect x="158.50" y="109.40" width="7.00" height="7.00" fill="#fff" stroke="#d9a060" stroke-width="1.0" />
<line x1="158.50" y1="109.40" x2="165.50" y2="116.40" stroke="#d9a060" stroke-width="0.8" />
<line x1="158.50" y1="116.40" x2="165.50" y2="109.40" stroke="#d9a060" stroke-width="0.8" />
<rect x="223.00" y="114.80" width="7.00" height="7.00" fill="#fff" stroke="#d9a060" stroke-width="1.0" />
<line x1="223.00" y1="114.80" x2="230.00" y2="121.80" stroke="#d9a060" stroke-width="0.8" />
<line x1="223.00" y1="121.80" x2="230.00" y2="114.80" stroke="#d9a060" stroke-width="0.8" />
<rect x="356.50" y="117.90" width="7.00" height="7.00" fill="#fff" stroke="#d9a060" stroke-width="1.0" />
<line x1="356.50" y1="117.90" x2="363.50" y2="124.90" stroke="#d9a060" stroke-width="0.8" />
<line x1="356.50" y1="124.90" x2="363.50" y2="117.90" stroke="#d9a060" stroke-width="0.8" />
<path d="M74.0,153.5 75.3,156.3 78.3,156.6 76.1,158.7 76.6,161.6 74.0,160.2 71.4,161.6 71.9,158.7 69.7,156.6 72.7,156.3Z" fill="#1d6b35" stroke="none" />
<path d="M111.0,155.5 112.3,158.3 115.3,158.6 113.1,160.7 113.6,163.6 111.0,162.2 108.4,163.6 108.9,160.7 106.7,158.6 109.7,158.3Z" fill="#1d6b35" stroke="none" />
<path d="M151.0,156.7 152.3,159.5 155.3,159.8 153.1,161.9 153.6,164.8 151.0,163.4 148.4,164.8 148.9,161.9 146.7,159.8 149.7,159.5Z" fill="#1d6b35" stroke="none" />
<path d="M209.3,142.4 210.6,145.2 213.6,145.5 211.4,147.6 211.9,150.5 209.3,149.1 206.7,150.5 207.2,147.6 205.0,145.5 208.0,145.2Z" fill="#1d6b35" stroke="none" />
<path d="M238.6,140.0 239.9,142.8 242.9,143.1 240.7,145.2 241.2,148.1 238.6,146.7 236.0,148.1 236.5,145.2 234.3,143.1 237.3,142.8Z" fill="#1d6b35" stroke="none" />
<path d="M260.5,131.7 261.8,134.5 264.8,134.8 262.6,136.9 263.1,139.8 260.5,138.4 257.9,139.8 258.4,136.9 256.2,134.8 259.2,134.5Z" fill="#1d6b35" stroke="none" />
<path d="M268.8,146.7 270.1,149.5 273.1,149.8 270.9,151.9 271.4,154.8 268.8,153.4 266.2,154.8 266.7,151.9 264.5,149.8 267.5,149.5Z" fill="#1d6b35" stroke="none" />
<path d="M280.0,128.8 281.3,131.6 284.3,131.9 282.1,134.0 282.6,136.9 280.0,135.5 277.4,136.9 277.9,134.0 275.7,131.9 278.7,131.6Z" fill="#1d6b35" stroke="none" />
<path d="M307.6,146.7 308.9,149.5 311.9,149.8 309.7,151.9 310.2,154.8 307.6,153.4 305.0,154.8 305.5,151.9 303.3,149.8 306.3,149.5Z" fill="#1d6b35" stroke="none" />
<path d="M345.6,160.3 346.9,163.1 349.9,163.4 347.7,165.5 348.2,168.4 345.6,167.0 343.0,168.4 343.5,165.5 341.3,163.4 344.3,163.1Z" fill="#1d6b35" stroke="none" />
<path d="M428.0,164.7 429.3,167.5 432.3,167.8 430.1,169.9 430.6,172.8 428.0,171.4 425.4,172.8 425.9,169.9 423.7,167.8 426.7,167.5Z" fill="#1d6b35" stroke="none" />
<path d="M442.0,163.9 443.3,166.7 446.3,167.0 444.1,169.1 444.6,172.0 442.0,170.6 439.4,172.0 439.9,169.1 437.7,167.0 440.7,166.7Z" fill="#1d6b35" stroke="none" />
<path d="M453.5,162.9 454.8,165.7 457.8,166.0 455.6,168.1 456.1,171.0 453.5,169.6 450.9,171.0 451.4,168.1 449.2,166.0 452.2,165.7Z" fill="#1d6b35" stroke="none" />
<path d="M469.4,162.9 470.7,165.7 473.7,166.0 471.5,168.1 472.0,171.0 469.4,169.6 466.8,171.0 467.3,168.1 465.1,166.0 468.1,165.7Z" fill="#1d6b35" stroke="none" />
<path d="M505.3,161.5 506.6,164.3 509.6,164.6 507.4,166.7 507.9,169.6 505.3,168.2 502.7,169.6 503.2,166.7 501.0,164.6 504.0,164.3Z" fill="#1d6b35" stroke="none" />
<path d="M583.3,163.7 584.6,166.5 587.6,166.8 585.4,168.9 585.9,171.8 583.3,170.4 580.7,171.8 581.2,168.9 579.0,166.8 582.0,166.5Z" fill="#1d6b35" stroke="none" />
<path d="M172.4,159.7 181.0,159.7 176.7,167.5Z" fill="#7b17e6" stroke="none" />
<path d="M186.7,162.1 195.3,162.1 191.0,169.9Z" fill="#7b17e6" stroke="none" />
<path d="M245.5,158.5 254.1,158.5 249.8,166.3Z" fill="#7b17e6" stroke="none" />
<rect x="160.30" y="163.60" width="7.00" height="7.00" fill="#fff" stroke="#d9a060" stroke-width="1.0" />
<line x1="160.30" y1="163.60" x2="167.30" y2="170.60" stroke="#d9a060" stroke-width="0.8" />
<line x1="160.30" y1="170.60" x2="167.30" y2="163.60" stroke="#d9a060" stroke-width="0.8" />
<path d="M386.5,31.4 387.8,34.2 390.9,34.6 388.6,36.7 389.2,39.7 386.5,38.2 383.8,39.7 384.4,36.7 382.1,34.6 385.2,34.2Z" fill="#1d6b35" stroke="none" />
<text x="395.4" y="39.8" font-size="11" text-anchor="start" fill="#111" ><tspan>Ti</tspan><tspan dy="2.5" font-size="8">4</tspan><tspan dy="-2.5">MoSiB</tspan><tspan dy="2.5" font-size="8">2</tspan></text>
<rect x="453.30" y="32.80" width="7.20" height="7.20" fill="#fff" stroke="#d9a060" stroke-width="1.0" />
<line x1="453.30" y1="32.80" x2="460.50" y2="40.00" stroke="#d9a060" stroke-width="0.8" />
<line x1="453.30" y1="40.00" x2="460.50" y2="32.80" stroke="#d9a060" stroke-width="0.8" />
<text x="464.0" y="39.8" font-size="11" text-anchor="start" fill="#111" ><tspan>TiO</tspan><tspan dy="2.5" font-size="8">2</tspan></text>
<path d="M383.1,48.2 391.5,48.2 387.3,55.8Z" fill="#7b17e6" stroke="none" />
<text x="397.4" y="56.8" font-size="11" text-anchor="start" fill="#111" ><tspan>MoO</tspan><tspan dy="2.5" font-size="8">3</tspan></text>
<circle cx="456.8" cy="54.0" r="2.6" fill="#f070f0"/>
<line x1="458.24" y1="54.00" x2="461.60" y2="54.00" stroke="#f070f0" stroke-width="1.0" />
<line x1="457.82" y1="55.02" x2="460.19" y2="57.39" stroke="#f070f0" stroke-width="1.0" />
<line x1="456.80" y1="55.44" x2="456.80" y2="58.80" stroke="#f070f0" stroke-width="1.0" />
<line x1="455.78" y1="55.02" x2="453.41" y2="57.39" stroke="#f070f0" stroke-width="1.0" />
<line x1="455.36" y1="54.00" x2="452.00" y2="54.00" stroke="#f070f0" stroke-width="1.0" />
<line x1="455.78" y1="52.98" x2="453.41" y2="50.61" stroke="#f070f0" stroke-width="1.0" />
<line x1="456.80" y1="52.56" x2="456.80" y2="49.20" stroke="#f070f0" stroke-width="1.0" />
<line x1="457.82" y1="52.98" x2="460.19" y2="50.61" stroke="#f070f0" stroke-width="1.0" />
<text x="465.2" y="56.8" font-size="11" text-anchor="start" fill="#111" ><tspan>Ti</tspan><tspan dy="2.5" font-size="8">4</tspan><tspan dy="-2.5">O</tspan><tspan dy="2.5" font-size="8">7</tspan></text>
<line x1="538.70" y1="33.20" x2="568.10" y2="33.20" stroke="#5a237f" stroke-width="1.5" />
<text x="572.0" y="37.5" font-size="12" text-anchor="start" fill="#111" >1273 K</text>
<line x1="538.70" y1="48.60" x2="568.10" y2="48.60" stroke="#a8306c" stroke-width="1.5" />
<text x="572.0" y="52.9" font-size="12" text-anchor="start" fill="#111" >1073 K</text>
<line x1="538.70" y1="64.50" x2="568.10" y2="64.50" stroke="#d5604c" stroke-width="1.5" />
<text x="575.2" y="68.8" font-size="12" text-anchor="start" fill="#111" >873 K</text>
<path d="M34.0,350.3 35.0,350.3 36.0,350.3 37.0,350.3 38.0,350.3 39.0,350.3 40.0,350.3 41.0,350.3 42.0,350.3 43.0,350.3 44.0,350.3 45.0,350.3 46.0,350.3 47.0,350.3 48.0,350.3 49.0,350.3 50.0,350.3 51.0,350.3 52.0,350.3 53.0,350.3 54.0,350.2 55.0,350.2 56.0,350.2 57.0,350.2 58.0,350.2 59.0,350.1 60.0,350.1 61.0,350.0 62.0,350.0 63.0,349.9 64.0,349.8 65.0,349.7 66.0,349.6 67.0,349.5 68.0,349.3 69.0,349.1 70.0,348.9 71.0,348.6 72.0,348.3 73.0,348.0 74.0,347.6 75.0,347.1 76.0,346.6 77.0,346.0 78.0,345.3 79.0,344.6 80.0,343.7 81.0,342.8 82.0,341.8 83.0,340.6 84.0,339.3 85.0,337.9 86.0,336.4 87.0,334.7 88.0,332.9 89.0,331.0 90.0,328.9 91.0,326.6 92.0,324.2 93.0,321.6 94.0,318.9 95.0,316.1 96.0,313.1 97.0,310.0 98.0,306.9 99.0,303.6 100.0,300.2 101.0,296.7 102.0,293.3 103.0,289.8 104.0,286.3 105.0,282.8 106.0,279.4 107.0,276.0 108.0,272.8 109.0,269.7 110.0,266.8 111.0,264.0 112.0,261.5 113.0,259.1 114.0,257.1 115.0,255.3 116.0,253.8 117.0,252.7 118.0,251.8 119.0,251.3 120.0,251.1 121.0,251.3 122.0,251.8 123.0,252.6 124.0,253.8 125.0,255.3 126.0,257.0 127.0,259.1 128.0,261.5 129.0,264.0 130.0,266.8 131.0,269.8 132.0,273.0 133.0,276.3 134.0,279.7 135.0,283.3 136.0,286.8 137.0,290.5 138.0,294.1 139.0,297.7 140.0,301.3 141.0,304.8 142.0,308.3 143.0,311.6 144.0,314.9 145.0,318.0 146.0,321.1 147.0,323.9 148.0,326.7 149.0,329.3 150.0,331.7 151.0,334.0 152.0,336.1 153.0,338.1 154.0,340.0 155.0,341.7 156.0,343.3 157.0,344.7 158.0,346.0 159.0,347.2 160.0,348.3 161.0,349.3 162.0,350.2 163.0,351.0 164.0,351.8 165.0,352.4 166.0,353.0 167.0,353.5 168.0,354.0 169.0,354.4 170.0,354.8 171.0,355.1 172.0,355.4 173.0,355.6 174.0,355.9 175.0,356.0 176.0,356.2 177.0,356.4 178.0,356.5 179.0,356.6 180.0,356.7 181.0,356.8 182.0,356.9 183.0,356.9 184.0,357.0 185.0,357.0 186.0,357.1 187.0,357.1 188.0,357.1 189.0,357.2 190.0,357.2 191.0,357.2 192.0,357.2 193.0,357.2 194.0,357.3 195.0,357.3 196.0,357.3 197.0,357.3 198.0,357.3 199.0,357.3 200.0,357.3 201.0,357.3 202.0,357.3 203.0,357.3 204.0,357.3 205.0,357.3 206.0,357.3 207.0,357.3 208.0,357.3 209.0,357.3 210.0,357.3 211.0,357.3 212.0,357.3 213.0,357.3 214.0,357.3 215.0,357.3 215.3,357.3 215.3,357.3 215.0,357.3 214.0,357.3 213.0,357.3 212.0,357.3 211.0,357.3 210.0,357.3 209.0,357.3 208.0,357.3 207.0,357.3 206.0,357.3 205.0,357.3 204.0,357.3 203.0,357.3 202.0,357.3 201.0,357.3 200.0,357.3 199.0,357.3 198.0,357.3 197.0,357.3 196.0,357.3 195.0,357.3 194.0,357.3 193.0,357.3 192.0,357.2 191.0,357.2 190.0,357.2 189.0,357.2 188.0,357.2 187.0,357.2 186.0,357.2 185.0,357.1 184.0,357.1 183.0,357.1 182.0,357.0 181.0,357.0 180.0,357.0 179.0,356.9 178.0,356.9 177.0,356.8 176.0,356.8 175.0,356.7 174.0,356.6 173.0,356.6 172.0,356.5 171.0,356.4 170.0,356.4 169.0,356.3 168.0,356.2 167.0,356.1 166.0,356.0 165.0,355.9 164.0,355.8 163.0,355.8 162.0,355.7 161.0,355.6 160.0,355.5 159.0,355.4 158.0,355.3 157.0,355.2 156.0,355.1 155.0,355.0 154.0,355.0 153.0,354.9 152.0,354.8 151.0,354.7 150.0,354.7 149.0,354.6 148.0,354.5 147.0,354.4 146.0,354.4 145.0,354.3 144.0,354.2 143.0,354.2 142.0,354.1 141.0,354.0 140.0,354.0 139.0,353.9 138.0,353.8 137.0,353.8 136.0,353.7 135.0,353.6 134.0,353.5 133.0,353.5 132.0,353.4 131.0,353.3 130.0,353.2 129.0,353.1 128.0,353.0 127.0,353.0 126.0,352.9 125.0,352.8 124.0,352.7 123.0,352.6 122.0,352.5 121.0,352.4 120.0,352.3 119.0,352.2 118.0,352.1 117.0,352.0 116.0,351.9 115.0,351.8 114.0,351.8 113.0,351.7 112.0,351.6 111.0,351.5 110.0,351.4 109.0,351.3 108.0,351.3 107.0,351.2 106.0,351.1 105.0,351.1 104.0,351.0 103.0,350.9 102.0,350.9 101.0,350.8 100.0,350.8 99.0,350.7 98.0,350.7 97.0,350.7 96.0,350.6 95.0,350.6 94.0,350.6 93.0,350.5 92.0,350.5 91.0,350.5 90.0,350.5 89.0,350.4 88.0,350.4 87.0,350.4 86.0,350.4 85.0,350.4 84.0,350.4 83.0,350.4 82.0,350.4 81.0,350.3 80.0,350.3 79.0,350.3 78.0,350.3 77.0,350.3 76.0,350.3 75.0,350.3 74.0,350.3 73.0,350.3 72.0,350.3 71.0,350.3 70.0,350.3 69.0,350.3 68.0,350.3 67.0,350.3 66.0,350.3 65.0,350.3 64.0,350.3 63.0,350.3 62.0,350.3 61.0,350.3 60.0,350.3 59.0,350.3 58.0,350.3 57.0,350.3 56.0,350.3 55.0,350.3 54.0,350.3 53.0,350.3 52.0,350.3 51.0,350.3 50.0,350.3 49.0,350.3 48.0,350.3 47.0,350.3 46.0,350.3 45.0,350.3 44.0,350.3 43.0,350.3 42.0,350.3 41.0,350.3 40.0,350.3 39.0,350.3 38.0,350.3 37.0,350.3 36.0,350.3 35.0,350.3 34.0,350.3Z" fill="#f0952f" stroke="none" />
<path d="M34.0,350.3 35.0,350.3 36.0,350.3 37.0,350.3 38.0,350.3 39.0,350.3 40.0,350.3 41.0,350.3 42.0,350.3 43.0,350.3 44.0,350.3 45.0,350.3 46.0,350.3 47.0,350.3 48.0,350.3 49.0,350.3 50.0,350.3 51.0,350.3 52.0,350.3 53.0,350.3 54.0,350.3 55.0,350.3 56.0,350.3 57.0,350.3 58.0,350.3 59.0,350.3 60.0,350.3 61.0,350.3 62.0,350.3 63.0,350.3 64.0,350.3 65.0,350.3 66.0,350.3 67.0,350.3 68.0,350.3 69.0,350.3 70.0,350.3 71.0,350.3 72.0,350.3 73.0,350.3 74.0,350.3 75.0,350.3 76.0,350.3 77.0,350.3 78.0,350.3 79.0,350.3 80.0,350.3 81.0,350.3 82.0,350.4 83.0,350.4 84.0,350.4 85.0,350.4 86.0,350.4 87.0,350.4 88.0,350.4 89.0,350.4 90.0,350.5 91.0,350.5 92.0,350.5 93.0,350.5 94.0,350.6 95.0,350.6 96.0,350.6 97.0,350.7 98.0,350.7 99.0,350.7 100.0,350.8 101.0,350.8 102.0,350.9 103.0,350.9 104.0,351.0 105.0,351.1 106.0,351.1 107.0,351.2 108.0,351.2 109.0,351.3 110.0,351.4 111.0,351.4 112.0,351.5 113.0,351.6 114.0,351.6 115.0,351.7 116.0,351.7 117.0,351.8 118.0,351.8 119.0,351.8 120.0,351.8 121.0,351.7 122.0,351.6 123.0,351.5 124.0,351.4 125.0,351.1 126.0,350.9 127.0,350.5 128.0,350.0 129.0,349.5 130.0,348.9 131.0,348.1 132.0,347.2 133.0,346.1 134.0,344.9 135.0,343.5 136.0,341.9 137.0,340.1 138.0,338.1 139.0,335.9 140.0,333.5 141.0,330.8 142.0,327.9 143.0,324.8 144.0,321.5 145.0,318.0 146.0,314.3 147.0,310.5 148.0,306.5 149.0,302.5 150.0,298.5 151.0,294.4 152.0,290.4 153.0,286.5 154.0,282.7 155.0,279.2 156.0,275.9 157.0,272.8 158.0,270.2 159.0,267.9 160.0,266.0 161.0,264.6 162.0,263.6 163.0,263.1 164.0,263.2 165.0,263.7 166.0,264.8 167.0,266.3 168.0,268.2 169.0,270.6 170.0,273.4 171.0,276.5 172.0,279.9 173.0,283.6 174.0,287.5 175.0,291.5 176.0,295.6 177.0,299.8 178.0,304.0 179.0,308.1 180.0,312.2 181.0,316.2 182.0,320.0 183.0,323.6 184.0,327.1 185.0,330.3 186.0,333.3 187.0,336.1 188.0,338.7 189.0,341.0 190.0,343.2 191.0,345.1 192.0,346.8 193.0,348.3 194.0,349.7 195.0,350.8 196.0,351.9 197.0,352.8 198.0,353.5 199.0,354.2 200.0,354.7 201.0,355.2 202.0,355.6 203.0,355.9 204.0,356.2 205.0,356.4 206.0,356.6 207.0,356.7 208.0,356.9 209.0,356.9 210.0,357.0 211.0,357.1 212.0,357.1 213.0,357.2 214.0,357.2 215.0,357.2 215.3,357.2 215.3,357.3 215.0,357.3 214.0,357.3 213.0,357.3 212.0,357.3 211.0,357.3 210.0,357.3 209.0,357.3 208.0,357.3 207.0,357.3 206.0,357.3 205.0,357.3 204.0,357.3 203.0,357.3 202.0,357.3 201.0,357.3 200.0,357.3 199.0,357.3 198.0,357.3 197.0,357.3 196.0,357.3 195.0,357.3 194.0,357.3 193.0,357.3 192.0,357.2 191.0,357.2 190.0,357.2 189.0,357.2 188.0,357.2 187.0,357.2 186.0,357.2 185.0,357.1 184.0,357.1 183.0,357.1 182.0,357.0 181.0,357.0 180.0,357.0 179.0,356.9 178.0,356.9 177.0,356.8 176.0,356.8 175.0,356.7 174.0,356.6 173.0,356.6 172.0,356.5 171.0,356.4 170.0,356.4 169.0,356.3 168.0,356.2 167.0,356.1 166.0,356.0 165.0,355.9 164.0,355.8 163.0,355.8 162.0,355.7 161.0,355.6 160.0,355.5 159.0,355.4 158.0,355.3 157.0,355.2 156.0,355.1 155.0,355.0 154.0,355.0 153.0,354.9 152.0,354.8 151.0,354.7 150.0,354.7 149.0,354.6 148.0,354.5 147.0,354.4 146.0,354.4 145.0,354.3 144.0,354.2 143.0,354.2 142.0,354.1 141.0,354.0 140.0,354.0 139.0,353.9 138.0,353.8 137.0,353.8 136.0,353.7 135.0,353.6 134.0,353.5 133.0,353.5 132.0,353.4 131.0,353.3 130.0,353.2 129.0,353.1 128.0,353.0 127.0,353.0 126.0,352.9 125.0,352.8 124.0,352.7 123.0,352.6 122.0,352.5 121.0,352.4 120.0,352.3 119.0,352.2 118.0,352.1 117.0,352.0 116.0,351.9 115.0,351.8 114.0,351.8 113.0,351.7 112.0,351.6 111.0,351.5 110.0,351.4 109.0,351.3 108.0,351.3 107.0,351.2 106.0,351.1 105.0,351.1 104.0,351.0 103.0,350.9 102.0,350.9 101.0,350.8 100.0,350.8 99.0,350.7 98.0,350.7 97.0,350.7 96.0,350.6 95.0,350.6 94.0,350.6 93.0,350.5 92.0,350.5 91.0,350.5 90.0,350.5 89.0,350.4 88.0,350.4 87.0,350.4 86.0,350.4 85.0,350.4 84.0,350.4 83.0,350.4 82.0,350.4 81.0,350.3 80.0,350.3 79.0,350.3 78.0,350.3 77.0,350.3 76.0,350.3 75.0,350.3 74.0,350.3 73.0,350.3 72.0,350.3 71.0,350.3 70.0,350.3 69.0,350.3 68.0,350.3 67.0,350.3 66.0,350.3 65.0,350.3 64.0,350.3 63.0,350.3 62.0,350.3 61.0,350.3 60.0,350.3 59.0,350.3 58.0,350.3 57.0,350.3 56.0,350.3 55.0,350.3 54.0,350.3 53.0,350.3 52.0,350.3 51.0,350.3 50.0,350.3 49.0,350.3 48.0,350.3 47.0,350.3 46.0,350.3 45.0,350.3 44.0,350.3 43.0,350.3 42.0,350.3 41.0,350.3 40.0,350.3 39.0,350.3 38.0,350.3 37.0,350.3 36.0,350.3 35.0,350.3 34.0,350.3Z" fill="#b5326e" stroke="none" />
<path d="M34.0,350.3 35.0,350.3 36.0,350.3 37.0,350.3 38.0,350.3 39.0,350.3 40.0,350.3 41.0,350.3 42.0,350.3 43.0,350.3 44.0,350.3 45.0,350.3 46.0,350.3 47.0,350.3 48.0,350.3 49.0,350.3 50.0,350.3 51.0,350.3 52.0,350.3 53.0,350.3 54.0,350.3 55.0,350.3 56.0,350.3 57.0,350.3 58.0,350.3 59.0,350.3 60.0,350.3 61.0,350.3 62.0,350.3 63.0,350.3 64.0,350.3 65.0,350.3 66.0,350.3 67.0,350.3 68.0,350.3 69.0,350.3 70.0,350.3 71.0,350.3 72.0,350.3 73.0,350.3 74.0,350.3 75.0,350.3 76.0,350.3 77.0,350.3 78.0,350.3 79.0,350.3 80.0,350.3 81.0,350.3 82.0,350.4 83.0,350.4 84.0,350.4 85.0,350.4 86.0,350.4 87.0,350.4 88.0,350.4 89.0,350.4 90.0,350.5 91.0,350.5 92.0,350.5 93.0,350.5 94.0,350.6 95.0,350.6 96.0,350.6 97.0,350.7 98.0,350.7 99.0,350.7 100.0,350.8 101.0,350.8 102.0,350.9 103.0,350.9 104.0,351.0 105.0,351.1 106.0,351.1 107.0,351.2 108.0,351.3 109.0,351.3 110.0,351.4 111.0,351.5 112.0,351.6 113.0,351.7 114.0,351.8 115.0,351.8 116.0,351.9 117.0,352.0 118.0,352.1 119.0,352.2 120.0,352.3 121.0,352.4 122.0,352.5 123.0,352.6 124.0,352.7 125.0,352.8 126.0,352.9 127.0,353.0 128.0,353.0 129.0,353.1 130.0,353.2 131.0,353.3 132.0,353.4 133.0,353.5 134.0,353.5 135.0,353.6 136.0,353.7 137.0,353.8 138.0,353.8 139.0,353.9 140.0,354.0 141.0,354.0 142.0,354.1 143.0,354.2 144.0,354.2 145.0,354.3 146.0,354.4 147.0,354.4 148.0,354.5 149.0,354.6 150.0,354.7 151.0,354.7 152.0,354.8 153.0,354.9 154.0,355.0 155.0,355.0 156.0,355.1 157.0,355.2 158.0,355.3 159.0,355.4 160.0,355.5 161.0,355.6 162.0,355.7 163.0,355.8 164.0,355.8 165.0,355.9 166.0,356.0 167.0,356.1 168.0,356.2 169.0,356.3 170.0,356.4 171.0,356.4 172.0,356.5 173.0,356.6 174.0,356.6 175.0,356.7 176.0,356.8 177.0,356.8 178.0,356.9 179.0,356.9 180.0,357.0 181.0,357.0 182.0,357.0 183.0,357.1 184.0,357.1 185.0,357.1 186.0,357.2 187.0,357.2 188.0,357.2 189.0,357.2 190.0,357.2 191.0,357.2 192.0,357.2 193.0,357.3 194.0,357.3 195.0,357.3 196.0,357.3 197.0,357.3 198.0,357.3 199.0,357.3 200.0,357.3 201.0,357.3 202.0,357.3 203.0,357.3 204.0,357.3 205.0,357.3 206.0,357.3 207.0,357.3 208.0,357.3 209.0,357.3 210.0,357.3 211.0,357.3 212.0,357.3 213.0,357.3 214.0,357.3 215.0,357.3 215.3,357.3" stroke="#56c3cc" stroke-width="1.3" fill="none" stroke-linejoin="round" />
<path d="M34.0,350.3 35.0,350.3 36.0,350.3 37.0,350.3 38.0,350.3 39.0,350.3 40.0,350.3 41.0,350.3 42.0,350.3 43.0,350.3 44.0,350.3 45.0,350.3 46.0,350.3 47.0,350.3 48.0,350.3 49.0,350.3 50.0,350.3 51.0,350.3 52.0,350.3 53.0,350.3 54.0,350.2 55.0,350.2 56.0,350.2 57.0,350.2 58.0,350.2 59.0,350.1 60.0,350.1 61.0,350.0 62.0,350.0 63.0,349.9 64.0,349.8 65.0,349.7 66.0,349.6 67.0,349.5 68.0,349.3 69.0,349.1 70.0,348.9 71.0,348.6 72.0,348.3 73.0,348.0 74.0,347.6 75.0,347.1 76.0,346.6 77.0,346.0 78.0,345.3 79.0,344.6 80.0,343.7 81.0,342.8 82.0,341.8 83.0,340.6 84.0,339.3 85.0,337.9 86.0,336.4 87.0,334.7 88.0,332.9 89.0,330.9 90.0,328.8 91.0,326.5 92.0,324.1 93.0,321.5 94.0,318.8 95.0,315.9 96.0,312.9 97.0,309.8 98.0,306.6 99.0,303.2 100.0,299.8 101.0,296.3 102.0,292.8 103.0,289.2 104.0,285.6 105.0,282.1 106.0,278.6 107.0,275.2 108.0,271.9 109.0,268.7 110.0,265.7 111.0,262.8 112.0,260.2 113.0,257.8 114.0,255.7 115.0,253.8 116.0,252.2 117.0,251.0 118.0,250.0 119.0,249.4 120.0,249.1 121.0,249.1 122.0,249.4 123.0,250.1 124.0,251.0 125.0,252.2 126.0,253.6 127.0,255.3 128.0,257.2 129.0,259.2 130.0,261.3 131.0,263.5 132.0,265.8 133.0,268.0 134.0,270.2 135.0,272.3 136.0,274.3 137.0,276.1 138.0,277.7 139.0,279.1 140.0,280.3 141.0,281.1 142.0,281.7 143.0,281.9 144.0,281.8 145.0,281.5 146.0,280.8 147.0,279.8 148.0,278.5 149.0,277.1 150.0,275.4 151.0,273.6 152.0,271.7 153.0,269.7 154.0,267.7 155.0,265.8 156.0,264.0 157.0,262.3 158.0,260.9 159.0,259.7 160.0,258.8 161.0,258.3 162.0,258.2 163.0,258.4 164.0,259.1 165.0,260.2 166.0,261.7 167.0,263.7 168.0,266.0 169.0,268.7 170.0,271.8 171.0,275.2 172.0,278.8 173.0,282.7 174.0,286.7 175.0,290.8 176.0,295.1 177.0,299.4 178.0,303.6 179.0,307.8 180.0,312.0 181.0,316.0 182.0,319.8 183.0,323.5 184.0,327.0 185.0,330.2 186.0,333.3 187.0,336.1 188.0,338.7 189.0,341.0 190.0,343.1 191.0,345.1 192.0,346.8 193.0,348.3 194.0,349.7 195.0,350.8 196.0,351.9 197.0,352.8 198.0,353.5 199.0,354.2 200.0,354.7 201.0,355.2 202.0,355.6 203.0,355.9 204.0,356.2 205.0,356.4 206.0,356.6 207.0,356.7 208.0,356.9 209.0,356.9 210.0,357.0 211.0,357.1 212.0,357.1 213.0,357.2 214.0,357.2 215.0,357.2 215.3,357.2" stroke="#cf3a3a" stroke-width="1.1" fill="none" stroke-linejoin="round" />
<path d="M34.0,350.2 35.0,350.4 36.0,350.8 37.0,350.3 38.0,350.3 39.0,350.4 40.0,349.9 41.0,350.3 42.0,350.5 43.0,350.6 44.0,349.8 45.0,350.1 46.0,349.8 47.0,350.7 48.0,350.5 49.0,349.7 50.0,350.9 51.0,350.8 52.0,350.4 53.0,350.4 54.0,349.8 55.0,349.6 56.0,350.2 57.0,349.7 58.0,349.8 59.0,349.8 60.0,349.5 61.0,350.0 62.0,349.9 63.0,350.3 64.0,349.8 65.0,349.9 66.0,349.6 67.0,349.6 68.0,349.2 69.0,348.8 70.0,349.5 71.0,349.2 72.0,348.7 73.0,348.2 74.0,347.3 75.0,346.8 76.0,346.3 77.0,345.5 78.0,345.7 79.0,344.5 80.0,344.2 81.0,342.7 82.0,342.3 83.0,341.0 84.0,338.7 85.0,337.6 86.0,336.9 87.0,334.7 88.0,333.4 89.0,330.8 90.0,328.3 91.0,326.7 92.0,324.4 93.0,321.2 94.0,318.3 95.0,315.7 96.0,313.5 97.0,310.1 98.0,306.1 99.0,302.9 100.0,299.3 101.0,295.8 102.0,293.1 103.0,288.8 104.0,285.7 105.0,282.0 106.0,278.2 107.0,275.5 108.0,271.4 109.0,268.9 110.0,265.2 111.0,262.8 112.0,259.9 113.0,257.5 114.0,256.2 115.0,254.2 116.0,252.0 117.0,251.4 118.0,249.7 119.0,249.3 120.0,249.5 121.0,249.3 122.0,249.0 123.0,250.7 124.0,250.7 125.0,251.9 126.0,254.0 127.0,255.1 128.0,256.9 129.0,258.7 130.0,260.8 131.0,263.6 132.0,265.4 133.0,268.1 134.0,270.0 135.0,272.3 136.0,274.8 137.0,276.1 138.0,277.8 139.0,279.6 140.0,279.9 141.0,280.7 142.0,282.2 143.0,282.3 144.0,281.5 145.0,281.1 146.0,281.0 147.0,280.3 148.0,278.2 149.0,277.6 150.0,275.9 151.0,273.7 152.0,271.6 153.0,269.2 154.0,267.1 155.0,266.3 156.0,263.6 157.0,262.5 158.0,260.6 159.0,260.1 160.0,258.9 161.0,258.1 162.0,257.8 163.0,258.7 164.0,258.6 165.0,259.9 166.0,261.8 167.0,264.1 168.0,266.2 169.0,268.5 170.0,272.3 171.0,274.8 172.0,278.2 173.0,282.4 174.0,286.6 175.0,290.3 176.0,294.7 177.0,299.2 178.0,303.7 179.0,307.4 180.0,311.8 181.0,316.4 182.0,320.4 183.0,323.7 184.0,327.2 185.0,330.3 186.0,332.8 187.0,335.5 188.0,338.1 189.0,341.5 190.0,343.4 191.0,345.6 192.0,346.2 193.0,348.5 194.0,349.6 195.0,351.1 196.0,351.6 197.0,353.4 198.0,353.0 199.0,354.2 200.0,355.0 201.0,355.7 202.0,355.9 203.0,356.2 204.0,356.5 205.0,356.9 206.0,356.4 207.0,357.0 208.0,357.3 209.0,357.4 210.0,356.9 211.0,357.4 212.0,357.6 213.0,357.3 214.0,357.4 215.0,357.1 215.3,357.3" stroke="#333" stroke-width="0.6" fill="none" stroke-linejoin="round" />
<rect x="34.00" y="236.80" width="181.30" height="128.70" fill="none" stroke="#111" stroke-width="1.0" />
<line x1="215.30" y1="365.50" x2="215.30" y2="362.50" stroke="#111" stroke-width="0.9" />
<text x="215.3" y="376.0" font-size="9.3" text-anchor="middle" fill="#222" >528</text>
<line x1="197.17" y1="365.50" x2="197.17" y2="363.70" stroke="#111" stroke-width="0.9" />
<line x1="179.04" y1="365.50" x2="179.04" y2="362.50" stroke="#111" stroke-width="0.9" />
<text x="179.0" y="376.0" font-size="9.3" text-anchor="middle" fill="#222" >530</text>
<line x1="160.91" y1="365.50" x2="160.91" y2="363.70" stroke="#111" stroke-width="0.9" />
<line x1="142.78" y1="365.50" x2="142.78" y2="362.50" stroke="#111" stroke-width="0.9" />
<text x="142.8" y="376.0" font-size="9.3" text-anchor="middle" fill="#222" >532</text>
<line x1="124.65" y1="365.50" x2="124.65" y2="363.70" stroke="#111" stroke-width="0.9" />
<line x1="106.52" y1="365.50" x2="106.52" y2="362.50" stroke="#111" stroke-width="0.9" />
<text x="106.5" y="376.0" font-size="9.3" text-anchor="middle" fill="#222" >534</text>
<line x1="88.39" y1="365.50" x2="88.39" y2="363.70" stroke="#111" stroke-width="0.9" />
<line x1="70.26" y1="365.50" x2="70.26" y2="362.50" stroke="#111" stroke-width="0.9" />
<text x="70.3" y="376.0" font-size="9.3" text-anchor="middle" fill="#222" >536</text>
<line x1="52.13" y1="365.50" x2="52.13" y2="363.70" stroke="#111" stroke-width="0.9" />
<line x1="34.00" y1="365.50" x2="34.00" y2="362.50" stroke="#111" stroke-width="0.9" />
<text x="34.0" y="376.0" font-size="9.3" text-anchor="middle" fill="#222" >538</text>
<text x="124.7" y="391.0" font-size="10" text-anchor="middle" fill="#222" >Binding Energy (eV)</text>
<text x="0.0" y="0.0" font-size="9.8" text-anchor="middle" fill="#222" transform="translate(28.5,301.1) rotate(-90)">Intensity (a.u.)</text>
<text x="19.5" y="252.5" font-size="26.5" text-anchor="start" fill="#111" >b</text>
<text x="120.5" y="245.9" font-size="8.0" text-anchor="start" fill="#222" >BE=533.21eV</text>
<text x="163.6" y="258.4" font-size="8.0" text-anchor="start" fill="#222" >BE=530.87eV</text>
<text x="212.7" y="248.0" font-size="9.7" text-anchor="end" font-weight="bold" fill="#c8323c" >873 K</text>
<rect x="35.80" y="238.80" width="18.30" height="8.80" fill="#f0952f" stroke="none" stroke-width="1" />
<text x="56.7" y="246.6" font-size="7.4" text-anchor="start" fill="#222" ><tspan>TiO</tspan><tspan dy="2.5" font-size="5.6">2</tspan><tspan dy="-2.5">/Mo oxides</tspan></text>
<rect x="35.80" y="250.80" width="18.30" height="8.80" fill="#b5326e" stroke="none" stroke-width="1" />
<text x="56.7" y="258.6" font-size="7.4" text-anchor="start" fill="#222" ><tspan>B</tspan><tspan dy="2.5" font-size="5.6">2</tspan><tspan dy="-2.5">O</tspan><tspan dy="2.5" font-size="5.6">3</tspan></text>
<line x1="36.00" y1="267.50" x2="54.00" y2="267.50" stroke="#56c3cc" stroke-width="1.3" />
<text x="56.7" y="270.0" font-size="7.4" text-anchor="start" fill="#222" >Background</text>
<path d="M237.2,353.0 238.2,353.0 239.2,353.0 240.2,353.0 241.2,353.0 242.2,353.0 243.2,353.0 244.2,353.0 245.2,353.0 246.2,353.0 247.2,353.0 248.2,353.0 249.2,353.0 250.2,353.0 251.2,353.0 252.2,353.0 253.2,353.0 254.2,353.0 255.2,353.0 256.2,353.0 257.2,353.0 258.2,353.0 259.2,353.0 260.2,353.0 261.2,353.0 262.2,353.0 263.2,353.0 264.2,353.0 265.2,353.0 266.2,353.0 267.2,353.0 268.2,353.0 269.2,353.0 270.2,353.0 271.2,353.0 272.2,353.0 273.2,353.0 274.2,353.0 275.2,353.0 276.2,353.0 277.2,353.0 278.2,353.0 279.2,353.0 280.2,353.0 281.2,353.0 282.2,353.0 283.2,353.0 284.2,353.0 285.2,352.9 286.2,352.9 287.2,352.9 288.2,352.9 289.2,352.9 290.2,352.9 291.2,352.9 292.2,352.9 293.2,352.9 294.2,352.9 295.2,352.9 296.2,352.9 297.2,352.9 298.2,352.9 299.2,352.9 300.2,352.9 301.2,352.9 302.2,352.9 303.2,352.9 304.2,353.0 305.2,353.0 306.2,353.0 307.2,353.0 308.2,353.0 309.2,353.1 310.2,353.1 311.2,353.1 312.2,353.2 313.2,353.2 314.2,353.3 315.2,353.3 316.2,353.4 317.2,353.4 318.2,353.5 319.2,353.5 320.2,353.6 321.2,353.6 322.2,353.7 323.2,353.7 324.2,353.7 325.2,353.6 326.2,353.5 327.2,353.4 328.2,353.2 329.2,352.9 330.2,352.4 331.2,351.9 332.2,351.1 333.2,350.2 334.2,349.0 335.2,347.6 336.2,345.9 337.2,343.9 338.2,341.6 339.2,338.8 340.2,335.7 341.2,332.2 342.2,328.3 343.2,324.0 344.2,319.3 345.2,314.3 346.2,309.1 347.2,303.7 348.2,298.1 349.2,292.6 350.2,287.2 351.2,282.0 352.2,277.1 353.2,272.7 354.2,269.0 355.2,266.0 356.2,263.7 357.2,262.4 358.2,262.1 359.2,262.5 360.2,263.5 361.2,265.1 362.2,267.2 363.2,269.8 364.2,272.8 365.2,276.2 366.2,279.9 367.2,283.9 368.2,288.1 369.2,292.4 370.2,296.9 371.2,301.3 372.2,305.8 373.2,310.2 374.2,314.5 375.2,318.6 376.2,322.6 377.2,326.4 378.2,329.9 379.2,333.3 380.2,336.4 381.2,339.2 382.2,341.8 383.2,344.2 384.2,346.3 385.2,348.3 386.2,350.0 387.2,351.5 388.2,352.8 389.2,354.0 390.2,355.0 391.2,355.9 392.2,356.6 393.2,357.3 394.2,357.8 395.2,358.3 396.2,358.7 397.2,359.0 398.2,359.3 399.2,359.6 400.2,359.8 401.2,359.9 402.2,360.1 403.2,360.2 404.2,360.3 405.2,360.4 406.2,360.4 407.2,360.5 408.2,360.6 409.2,360.6 410.2,360.7 411.2,360.7 412.2,360.7 413.2,360.8 414.2,360.8 415.2,360.8 416.2,360.8 417.2,360.9 418.2,360.9 418.6,360.9 418.6,361.5 418.2,361.5 417.2,361.5 416.2,361.5 415.2,361.5 414.2,361.5 413.2,361.5 412.2,361.5 411.2,361.5 410.2,361.5 409.2,361.5 408.2,361.5 407.2,361.5 406.2,361.5 405.2,361.5 404.2,361.5 403.2,361.5 402.2,361.5 401.2,361.5 400.2,361.5 399.2,361.5 398.2,361.4 397.2,361.4 396.2,361.4 395.2,361.4 394.2,361.4 393.2,361.4 392.2,361.4 391.2,361.4 390.2,361.4 389.2,361.4 388.2,361.4 387.2,361.4 386.2,361.3 385.2,361.3 384.2,361.3 383.2,361.3 382.2,361.2 381.2,361.2 380.2,361.2 379.2,361.1 378.2,361.1 377.2,361.1 376.2,361.0 375.2,360.9 374.2,360.9 373.2,360.8 372.2,360.7 371.2,360.6 370.2,360.6 369.2,360.5 368.2,360.4 367.2,360.3 366.2,360.1 365.2,360.0 364.2,359.9 363.2,359.8 362.2,359.7 361.2,359.5 360.2,359.4 359.2,359.2 358.2,359.1 357.2,359.0 356.2,358.8 355.2,358.7 354.2,358.5 353.2,358.4 352.2,358.3 351.2,358.2 350.2,358.0 349.2,357.9 348.2,357.8 347.2,357.7 346.2,357.6 345.2,357.5 344.2,357.4 343.2,357.3 342.2,357.2 341.2,357.1 340.2,357.1 339.2,357.0 338.2,356.9 337.2,356.8 336.2,356.7 335.2,356.5 334.2,356.4 333.2,356.3 332.2,356.2 331.2,356.1 330.2,355.9 329.2,355.8 328.2,355.7 327.2,355.5 326.2,355.4 325.2,355.2 324.2,355.1 323.2,354.9 322.2,354.8 321.2,354.7 320.2,354.6 319.2,354.4 318.2,354.3 317.2,354.2 316.2,354.1 315.2,354.0 314.2,353.9 313.2,353.9 312.2,353.8 311.2,353.7 310.2,353.7 309.2,353.6 308.2,353.6 307.2,353.5 306.2,353.5 305.2,353.4 304.2,353.4 303.2,353.4 302.2,353.4 301.2,353.3 300.2,353.3 299.2,353.3 298.2,353.3 297.2,353.3 296.2,353.3 295.2,353.3 294.2,353.3 293.2,353.3 292.2,353.2 291.2,353.2 290.2,353.2 289.2,353.2 288.2,353.2 287.2,353.2 286.2,353.2 285.2,353.2 284.2,353.2 283.2,353.2 282.2,353.2 281.2,353.2 280.2,353.2 279.2,353.2 278.2,353.2 277.2,353.2 276.2,353.2 275.2,353.2 274.2,353.2 273.2,353.2 272.2,353.2 271.2,353.2 270.2,353.2 269.2,353.2 268.2,353.1 267.2,353.1 266.2,353.1 265.2,353.1 264.2,353.1 263.2,353.1 262.2,353.1 261.2,353.1 260.2,353.1 259.2,353.1 258.2,353.1 257.2,353.1 256.2,353.1 255.2,353.1 254.2,353.1 253.2,353.1 252.2,353.1 251.2,353.1 250.2,353.1 249.2,353.1 248.2,353.1 247.2,353.1 246.2,353.1 245.2,353.1 244.2,353.1 243.2,353.1 242.2,353.1 241.2,353.1 240.2,353.1 239.2,353.1 238.2,353.1 237.2,353.1Z" fill="#b5326e" stroke="none" />
<path d="M237.2,352.4 238.2,352.4 239.2,352.4 240.2,352.4 241.2,352.4 242.2,352.4 243.2,352.3 244.2,352.3 245.2,352.3 246.2,352.3 247.2,352.3 248.2,352.3 249.2,352.2 250.2,352.2 251.2,352.2 252.2,352.2 253.2,352.1 254.2,352.1 255.2,352.1 256.2,352.1 257.2,352.0 258.2,352.0 259.2,352.0 260.2,351.9 261.2,351.9 262.2,351.9 263.2,351.8 264.2,351.8 265.2,351.8 266.2,351.7 267.2,351.7 268.2,351.6 269.2,351.6 270.2,351.5 271.2,351.5 272.2,351.4 273.2,351.3 274.2,351.3 275.2,351.2 276.2,351.1 277.2,351.1 278.2,351.0 279.2,350.9 280.2,350.8 281.2,350.7 282.2,350.6 283.2,350.5 284.2,350.3 285.2,350.2 286.2,350.0 287.2,349.8 288.2,349.6 289.2,349.4 290.2,349.1 291.2,348.8 292.2,348.4 293.2,347.9 294.2,347.4 295.2,346.8 296.2,346.1 297.2,345.2 298.2,344.2 299.2,343.1 300.2,341.7 301.2,340.2 302.2,338.4 303.2,336.4 304.2,334.1 305.2,331.5 306.2,328.6 307.2,325.4 308.2,321.9 309.2,318.1 310.2,314.0 311.2,309.6 312.2,305.0 313.2,300.1 314.2,295.1 315.2,290.0 316.2,284.8 317.2,279.7 318.2,274.7 319.2,270.0 320.2,265.6 321.2,261.7 322.2,258.4 323.2,255.7 324.2,253.9 325.2,253.0 326.2,252.9 327.2,253.8 328.2,255.6 329.2,258.1 330.2,261.5 331.2,265.4 332.2,269.9 333.2,274.7 334.2,279.8 335.2,285.1 336.2,290.5 337.2,295.8 338.2,301.1 339.2,306.2 340.2,311.1 341.2,315.7 342.2,320.1 343.2,324.2 344.2,328.0 345.2,331.4 346.2,334.5 347.2,337.4 348.2,339.9 349.2,342.2 350.2,344.2 351.2,346.0 352.2,347.5 353.2,348.9 354.2,350.1 355.2,351.1 356.2,352.1 357.2,352.9 358.2,353.6 359.2,354.2 360.2,354.7 361.2,355.2 362.2,355.7 363.2,356.1 364.2,356.4 365.2,356.8 366.2,357.1 367.2,357.3 368.2,357.6 369.2,357.8 370.2,358.0 371.2,358.2 372.2,358.4 373.2,358.6 374.2,358.7 375.2,358.9 376.2,359.0 377.2,359.1 378.2,359.3 379.2,359.4 380.2,359.5 381.2,359.6 382.2,359.6 383.2,359.7 384.2,359.8 385.2,359.9 386.2,359.9 387.2,360.0 388.2,360.0 389.2,360.1 390.2,360.2 391.2,360.2 392.2,360.2 393.2,360.3 394.2,360.3 395.2,360.4 396.2,360.4 397.2,360.4 398.2,360.5 399.2,360.5 400.2,360.5 401.2,360.5 402.2,360.6 403.2,360.6 404.2,360.6 405.2,360.6 406.2,360.7 407.2,360.7 408.2,360.7 409.2,360.7 410.2,360.7 411.2,360.8 412.2,360.8 413.2,360.8 414.2,360.8 415.2,360.8 416.2,360.9 417.2,360.9 418.2,360.9 418.6,360.9 418.6,361.5 418.2,361.5 417.2,361.5 416.2,361.5 415.2,361.5 414.2,361.5 413.2,361.5 412.2,361.5 411.2,361.5 410.2,361.5 409.2,361.5 408.2,361.5 407.2,361.5 406.2,361.5 405.2,361.5 404.2,361.5 403.2,361.5 402.2,361.5 401.2,361.5 400.2,361.5 399.2,361.5 398.2,361.4 397.2,361.4 396.2,361.4 395.2,361.4 394.2,361.4 393.2,361.4 392.2,361.4 391.2,361.4 390.2,361.4 389.2,361.4 388.2,361.4 387.2,361.4 386.2,361.3 385.2,361.3 384.2,361.3 383.2,361.3 382.2,361.2 381.2,361.2 380.2,361.2 379.2,361.1 378.2,361.1 377.2,361.1 376.2,361.0 375.2,360.9 374.2,360.9 373.2,360.8 372.2,360.7 371.2,360.6 370.2,360.6 369.2,360.5 368.2,360.4 367.2,360.3 366.2,360.1 365.2,360.0 364.2,359.9 363.2,359.8 362.2,359.7 361.2,359.5 360.2,359.4 359.2,359.2 358.2,359.1 357.2,359.0 356.2,358.8 355.2,358.7 354.2,358.5 353.2,358.4 352.2,358.3 351.2,358.2 350.2,358.0 349.2,357.9 348.2,357.8 347.2,357.7 346.2,357.6 345.2,357.5 344.2,357.4 343.2,357.3 342.2,357.2 341.2,357.1 340.2,357.1 339.2,357.0 338.2,356.9 337.2,356.8 336.2,356.7 335.2,356.5 334.2,356.4 333.2,356.3 332.2,356.2 331.2,356.1 330.2,355.9 329.2,355.8 328.2,355.7 327.2,355.5 326.2,355.4 325.2,355.2 324.2,355.1 323.2,354.9 322.2,354.8 321.2,354.7 320.2,354.6 319.2,354.4 318.2,354.3 317.2,354.2 316.2,354.1 315.2,354.0 314.2,353.9 313.2,353.9 312.2,353.8 311.2,353.7 310.2,353.7 309.2,353.6 308.2,353.6 307.2,353.5 306.2,353.5 305.2,353.4 304.2,353.4 303.2,353.4 302.2,353.4 301.2,353.3 300.2,353.3 299.2,353.3 298.2,353.3 297.2,353.3 296.2,353.3 295.2,353.3 294.2,353.3 293.2,353.3 292.2,353.2 291.2,353.2 290.2,353.2 289.2,353.2 288.2,353.2 287.2,353.2 286.2,353.2 285.2,353.2 284.2,353.2 283.2,353.2 282.2,353.2 281.2,353.2 280.2,353.2 279.2,353.2 278.2,353.2 277.2,353.2 276.2,353.2 275.2,353.2 274.2,353.2 273.2,353.2 272.2,353.2 271.2,353.2 270.2,353.2 269.2,353.2 268.2,353.1 267.2,353.1 266.2,353.1 265.2,353.1 264.2,353.1 263.2,353.1 262.2,353.1 261.2,353.1 260.2,353.1 259.2,353.1 258.2,353.1 257.2,353.1 256.2,353.1 255.2,353.1 254.2,353.1 253.2,353.1 252.2,353.1 251.2,353.1 250.2,353.1 249.2,353.1 248.2,353.1 247.2,353.1 246.2,353.1 245.2,353.1 244.2,353.1 243.2,353.1 242.2,353.1 241.2,353.1 240.2,353.1 239.2,353.1 238.2,353.1 237.2,353.1Z" fill="#f0952f" stroke="none" />
<path d="M237.2,353.1 238.2,353.1 239.2,353.1 240.2,353.1 241.2,353.1 242.2,353.1 243.2,353.1 244.2,353.1 245.2,353.1 246.2,353.1 247.2,353.1 248.2,353.1 249.2,353.1 250.2,353.1 251.2,353.1 252.2,353.1 253.2,353.1 254.2,353.1 255.2,353.1 256.2,353.1 257.2,353.1 258.2,353.1 259.2,353.1 260.2,353.1 261.2,353.1 262.2,353.1 263.2,353.1 264.2,353.1 265.2,353.1 266.2,353.1 267.2,353.1 268.2,353.1 269.2,353.2 270.2,353.2 271.2,353.2 272.2,353.2 273.2,353.2 274.2,353.2 275.2,353.2 276.2,353.2 277.2,353.2 278.2,353.2 279.2,353.2 280.2,353.2 281.2,353.2 282.2,353.2 283.2,353.2 284.2,353.2 285.2,353.2 286.2,353.2 287.2,353.2 288.2,353.2 289.2,353.2 290.2,353.2 291.2,353.2 292.2,353.2 293.2,353.3 294.2,353.3 295.2,353.3 296.2,353.3 297.2,353.3 298.2,353.3 299.2,353.3 300.2,353.3 301.2,353.3 302.2,353.4 303.2,353.4 304.2,353.4 305.2,353.4 306.2,353.5 307.2,353.5 308.2,353.6 309.2,353.6 310.2,353.7 311.2,353.7 312.2,353.8 313.2,353.9 314.2,353.9 315.2,354.0 316.2,354.1 317.2,354.2 318.2,354.3 319.2,354.4 320.2,354.6 321.2,354.7 322.2,354.8 323.2,354.9 324.2,355.1 325.2,355.2 326.2,355.4 327.2,355.5 328.2,355.7 329.2,355.8 330.2,355.9 331.2,356.1 332.2,356.2 333.2,356.3 334.2,356.4 335.2,356.5 336.2,356.7 337.2,356.8 338.2,356.9 339.2,357.0 340.2,357.1 341.2,357.1 342.2,357.2 343.2,357.3 344.2,357.4 345.2,357.5 346.2,357.6 347.2,357.7 348.2,357.8 349.2,357.9 350.2,358.0 351.2,358.2 352.2,358.3 353.2,358.4 354.2,358.5 355.2,358.7 356.2,358.8 357.2,359.0 358.2,359.1 359.2,359.2 360.2,359.4 361.2,359.5 362.2,359.7 363.2,359.8 364.2,359.9 365.2,360.0 366.2,360.1 367.2,360.3 368.2,360.4 369.2,360.5 370.2,360.6 371.2,360.6 372.2,360.7 373.2,360.8 374.2,360.9 375.2,360.9 376.2,361.0 377.2,361.1 378.2,361.1 379.2,361.1 380.2,361.2 381.2,361.2 382.2,361.2 383.2,361.3 384.2,361.3 385.2,361.3 386.2,361.3 387.2,361.4 388.2,361.4 389.2,361.4 390.2,361.4 391.2,361.4 392.2,361.4 393.2,361.4 394.2,361.4 395.2,361.4 396.2,361.4 397.2,361.4 398.2,361.4 399.2,361.5 400.2,361.5 401.2,361.5 402.2,361.5 403.2,361.5 404.2,361.5 405.2,361.5 406.2,361.5 407.2,361.5 408.2,361.5 409.2,361.5 410.2,361.5 411.2,361.5 412.2,361.5 413.2,361.5 414.2,361.5 415.2,361.5 416.2,361.5 417.2,361.5 418.2,361.5 418.6,361.5" stroke="#56c3cc" stroke-width="1.3" fill="none" stroke-linejoin="round" />
<path d="M237.2,352.3 238.2,352.3 239.2,352.3 240.2,352.3 241.2,352.3 242.2,352.3 243.2,352.2 244.2,352.2 245.2,352.2 246.2,352.2 247.2,352.2 248.2,352.1 249.2,352.1 250.2,352.1 251.2,352.1 252.2,352.0 253.2,352.0 254.2,352.0 255.2,352.0 256.2,351.9 257.2,351.9 258.2,351.9 259.2,351.8 260.2,351.8 261.2,351.8 262.2,351.7 263.2,351.7 264.2,351.6 265.2,351.6 266.2,351.5 267.2,351.5 268.2,351.4 269.2,351.4 270.2,351.3 271.2,351.3 272.2,351.2 273.2,351.1 274.2,351.1 275.2,351.0 276.2,350.9 277.2,350.8 278.2,350.8 279.2,350.7 280.2,350.6 281.2,350.4 282.2,350.3 283.2,350.2 284.2,350.0 285.2,349.9 286.2,349.7 287.2,349.5 288.2,349.3 289.2,349.0 290.2,348.7 291.2,348.3 292.2,347.9 293.2,347.5 294.2,346.9 295.2,346.2 296.2,345.5 297.2,344.6 298.2,343.6 299.2,342.4 300.2,341.0 301.2,339.4 302.2,337.5 303.2,335.4 304.2,333.1 305.2,330.4 306.2,327.5 307.2,324.2 308.2,320.6 309.2,316.7 310.2,312.5 311.2,307.9 312.2,303.2 313.2,298.2 314.2,293.0 315.2,287.8 316.2,282.5 317.2,277.2 318.2,272.0 319.2,267.1 320.2,262.5 321.2,258.3 322.2,254.6 323.2,251.6 324.2,249.3 325.2,247.8 326.2,247.0 327.2,247.0 328.2,247.7 329.2,249.0 330.2,250.8 331.2,252.9 332.2,255.2 333.2,257.6 334.2,259.9 335.2,262.0 336.2,263.9 337.2,265.4 338.2,266.6 339.2,267.3 340.2,267.7 341.2,267.7 342.2,267.3 343.2,266.5 344.2,265.5 345.2,264.1 346.2,262.6 347.2,260.9 348.2,259.0 349.2,257.1 350.2,255.2 351.2,253.4 352.2,251.7 353.2,250.3 354.2,249.3 355.2,248.7 356.2,248.7 357.2,249.3 358.2,250.6 359.2,252.5 360.2,254.7 361.2,257.3 362.2,260.3 363.2,263.5 364.2,267.2 365.2,271.1 366.2,275.2 367.2,279.5 368.2,284.0 369.2,288.7 370.2,293.3 371.2,298.0 372.2,302.7 373.2,307.2 374.2,311.7 375.2,316.0 376.2,320.1 377.2,324.0 378.2,327.7 379.2,331.1 380.2,334.3 381.2,337.2 382.2,339.9 383.2,342.4 384.2,344.6 385.2,346.6 386.2,348.4 387.2,350.0 388.2,351.4 389.2,352.6 390.2,353.7 391.2,354.6 392.2,355.4 393.2,356.1 394.2,356.7 395.2,357.2 396.2,357.6 397.2,358.0 398.2,358.3 399.2,358.6 400.2,358.8 401.2,359.0 402.2,359.2 403.2,359.3 404.2,359.4 405.2,359.5 406.2,359.6 407.2,359.7 408.2,359.8 409.2,359.9 410.2,359.9 411.2,360.0 412.2,360.0 413.2,360.1 414.2,360.1 415.2,360.2 416.2,360.2 417.2,360.2 418.2,360.3 418.6,360.3" stroke="#cf3a3a" stroke-width="1.1" fill="none" stroke-linejoin="round" />
<path d="M237.2,352.3 238.2,352.5 239.2,352.5 240.2,351.9 241.2,351.7 242.2,352.1 243.2,352.0 244.2,352.6 245.2,352.4 246.2,352.3 247.2,352.2 248.2,352.3 249.2,351.7 250.2,352.0 251.2,351.7 252.2,352.5 253.2,351.5 254.2,352.4 255.2,351.4 256.2,352.2 257.2,351.7 258.2,351.7 259.2,352.2 260.2,351.2 261.2,351.2 262.2,352.2 263.2,351.7 264.2,351.1 265.2,352.2 266.2,352.1 267.2,351.0 268.2,351.4 269.2,351.0 270.2,351.1 271.2,351.4 272.2,350.8 273.2,351.4 274.2,350.5 275.2,350.6 276.2,351.3 277.2,350.7 278.2,350.7 279.2,350.8 280.2,350.5 281.2,350.3 282.2,349.8 283.2,350.5 284.2,350.6 285.2,350.4 286.2,349.9 287.2,349.3 288.2,349.1 289.2,349.2 290.2,348.9 291.2,347.9 292.2,347.6 293.2,347.3 294.2,346.9 295.2,346.6 296.2,345.5 297.2,344.0 298.2,343.9 299.2,342.3 300.2,341.0 301.2,339.0 302.2,337.4 303.2,335.3 304.2,333.4 305.2,329.9 306.2,327.5 307.2,323.8 308.2,320.8 309.2,316.1 310.2,312.2 311.2,307.8 312.2,303.4 313.2,297.7 314.2,293.0 315.2,287.4 316.2,282.2 317.2,277.1 318.2,272.6 319.2,267.1 320.2,263.0 321.2,257.9 322.2,255.1 323.2,251.5 324.2,248.9 325.2,248.1 326.2,247.5 327.2,246.4 328.2,247.4 329.2,249.3 330.2,250.6 331.2,252.6 332.2,254.6 333.2,257.0 334.2,260.0 335.2,262.6 336.2,264.5 337.2,265.4 338.2,266.0 339.2,267.1 340.2,268.0 341.2,268.1 342.2,267.4 343.2,266.2 344.2,265.5 345.2,264.1 346.2,262.7 347.2,260.6 348.2,259.5 349.2,257.6 350.2,254.8 351.2,253.1 352.2,252.1 353.2,250.0 354.2,249.8 355.2,248.7 356.2,248.9 357.2,249.6 358.2,250.3 359.2,252.3 360.2,254.4 361.2,257.5 362.2,260.5 363.2,263.1 364.2,267.6 365.2,271.0 366.2,274.9 367.2,279.5 368.2,284.6 369.2,288.7 370.2,293.5 371.2,298.5 372.2,303.2 373.2,307.5 374.2,311.6 375.2,316.1 376.2,320.5 377.2,324.3 378.2,327.7 379.2,330.9 380.2,334.1 381.2,337.5 382.2,340.0 383.2,341.8 384.2,344.9 385.2,347.1 386.2,348.8 387.2,350.5 388.2,351.9 389.2,352.6 390.2,354.0 391.2,354.4 392.2,354.9 393.2,355.9 394.2,356.4 395.2,357.7 396.2,357.8 397.2,358.0 398.2,358.4 399.2,358.1 400.2,358.8 401.2,359.2 402.2,359.0 403.2,359.0 404.2,359.3 405.2,359.3 406.2,359.9 407.2,359.3 408.2,359.3 409.2,359.6 410.2,360.2 411.2,360.3 412.2,360.2 413.2,360.6 414.2,360.0 415.2,359.6 416.2,360.2 417.2,360.2 418.2,359.9 418.6,360.5" stroke="#333" stroke-width="0.6" fill="none" stroke-linejoin="round" />
<rect x="237.20" y="238.00" width="181.40" height="129.50" fill="none" stroke="#111" stroke-width="1.0" />
<line x1="418.64" y1="367.50" x2="418.64" y2="365.70" stroke="#111" stroke-width="0.9" />
<line x1="403.52" y1="367.50" x2="403.52" y2="364.50" stroke="#111" stroke-width="0.9" />
<text x="403.5" y="378.0" font-size="9.3" text-anchor="middle" fill="#222" >528</text>
<line x1="388.40" y1="367.50" x2="388.40" y2="365.70" stroke="#111" stroke-width="0.9" />
<line x1="373.28" y1="367.50" x2="373.28" y2="364.50" stroke="#111" stroke-width="0.9" />
<text x="373.3" y="378.0" font-size="9.3" text-anchor="middle" fill="#222" >530</text>
<line x1="358.16" y1="367.50" x2="358.16" y2="365.70" stroke="#111" stroke-width="0.9" />
<line x1="343.04" y1="367.50" x2="343.04" y2="364.50" stroke="#111" stroke-width="0.9" />
<text x="343.0" y="378.0" font-size="9.3" text-anchor="middle" fill="#222" >532</text>
<line x1="327.92" y1="367.50" x2="327.92" y2="365.70" stroke="#111" stroke-width="0.9" />
<line x1="312.80" y1="367.50" x2="312.80" y2="364.50" stroke="#111" stroke-width="0.9" />
<text x="312.8" y="378.0" font-size="9.3" text-anchor="middle" fill="#222" >534</text>
<line x1="297.68" y1="367.50" x2="297.68" y2="365.70" stroke="#111" stroke-width="0.9" />
<line x1="282.56" y1="367.50" x2="282.56" y2="364.50" stroke="#111" stroke-width="0.9" />
<text x="282.6" y="378.0" font-size="9.3" text-anchor="middle" fill="#222" >536</text>
<line x1="267.44" y1="367.50" x2="267.44" y2="365.70" stroke="#111" stroke-width="0.9" />
<line x1="252.32" y1="367.50" x2="252.32" y2="364.50" stroke="#111" stroke-width="0.9" />
<text x="252.3" y="378.0" font-size="9.3" text-anchor="middle" fill="#222" >538</text>
<line x1="237.20" y1="367.50" x2="237.20" y2="365.70" stroke="#111" stroke-width="0.9" />
<text x="327.9" y="393.0" font-size="10" text-anchor="middle" fill="#222" >Binding Energy (eV)</text>
<text x="0.0" y="0.0" font-size="9.8" text-anchor="middle" fill="#222" transform="translate(231.7,302.8) rotate(-90)">Intensity (a.u.)</text>
<text x="220.5" y="251.8" font-size="25.5" text-anchor="start" fill="#111" >c</text>
<text x="311.0" y="245.9" font-size="8.0" text-anchor="start" fill="#222" >BE=533.15eV</text>
<text x="364.2" y="263.9" font-size="8.0" text-anchor="start" fill="#222" >BE=530.99eV</text>
<text x="415.5" y="248.0" font-size="9.7" text-anchor="end" font-weight="bold" fill="#c8323c" >1073 K</text>
<rect x="239.00" y="239.10" width="18.30" height="8.80" fill="#b5326e" stroke="none" stroke-width="1" />
<text x="259.9" y="246.9" font-size="7.4" text-anchor="start" fill="#222" ><tspan>B</tspan><tspan dy="2.5" font-size="5.6">2</tspan><tspan dy="-2.5">O</tspan><tspan dy="2.5" font-size="5.6">3</tspan></text>
<rect x="239.00" y="251.10" width="18.30" height="8.80" fill="#f0952f" stroke="none" stroke-width="1" />
<text x="259.9" y="258.9" font-size="7.4" text-anchor="start" fill="#222" ><tspan>TiO</tspan><tspan dy="2.5" font-size="5.6">2</tspan><tspan dy="-2.5">/Mo oxides</tspan></text>
<line x1="239.20" y1="267.80" x2="257.20" y2="267.80" stroke="#56c3cc" stroke-width="1.3" />
<text x="259.9" y="270.3" font-size="7.4" text-anchor="start" fill="#222" >Background</text>
<path d="M442.0,358.9 443.0,358.8 444.0,358.8 445.0,358.8 446.0,358.8 447.0,358.8 448.0,358.7 449.0,358.7 450.0,358.7 451.0,358.7 452.0,358.6 453.0,358.6 454.0,358.6 455.0,358.5 456.0,358.5 457.0,358.4 458.0,358.4 459.0,358.3 460.0,358.3 461.0,358.2 462.0,358.1 463.0,358.0 464.0,357.9 465.0,357.7 466.0,357.6 467.0,357.4 468.0,357.2 469.0,357.0 470.0,356.8 471.0,356.5 472.0,356.2 473.0,355.8 474.0,355.4 475.0,355.0 476.0,354.5 477.0,353.9 478.0,353.3 479.0,352.6 480.0,351.8 481.0,351.0 482.0,350.1 483.0,349.0 484.0,347.9 485.0,346.7 486.0,345.4 487.0,343.9 488.0,342.4 489.0,340.7 490.0,338.9 491.0,337.0 492.0,335.0 493.0,332.8 494.0,330.5 495.0,328.1 496.0,325.6 497.0,323.0 498.0,320.3 499.0,317.4 500.0,314.5 501.0,311.6 502.0,308.6 503.0,305.5 504.0,302.4 505.0,299.3 506.0,296.2 507.0,293.1 508.0,290.1 509.0,287.2 510.0,284.3 511.0,281.6 512.0,278.9 513.0,276.5 514.0,274.2 515.0,272.2 516.0,270.3 517.0,268.7 518.0,267.4 519.0,266.3 520.0,265.6 521.0,265.1 522.0,264.9 523.0,265.1 524.0,265.6 525.0,266.5 526.0,267.9 527.0,269.6 528.0,271.6 529.0,273.9 530.0,276.6 531.0,279.4 532.0,282.5 533.0,285.8 534.0,289.2 535.0,292.8 536.0,296.4 537.0,300.1 538.0,303.7 539.0,307.4 540.0,311.0 541.0,314.6 542.0,318.1 543.0,321.4 544.0,324.7 545.0,327.8 546.0,330.7 547.0,333.5 548.0,336.2 549.0,338.7 550.0,341.0 551.0,343.1 552.0,345.1 553.0,346.9 554.0,348.6 555.0,350.1 556.0,351.5 557.0,352.8 558.0,353.9 559.0,354.9 560.0,355.8 561.0,356.6 562.0,357.3 563.0,358.0 564.0,358.5 565.0,359.0 566.0,359.5 567.0,359.9 568.0,360.2 569.0,360.5 570.0,360.8 571.0,361.0 572.0,361.2 573.0,361.3 574.0,361.5 575.0,361.6 576.0,361.7 577.0,361.8 578.0,361.9 579.0,362.0 580.0,362.1 581.0,362.1 582.0,362.2 583.0,362.2 584.0,362.3 585.0,362.3 586.0,362.4 587.0,362.4 588.0,362.4 589.0,362.5 590.0,362.5 591.0,362.5 592.0,362.5 593.0,362.6 594.0,362.6 595.0,362.6 596.0,362.6 597.0,362.6 598.0,362.6 599.0,362.7 600.0,362.7 601.0,362.7 602.0,362.7 603.0,362.7 604.0,362.7 605.0,362.7 606.0,362.7 607.0,362.8 608.0,362.8 609.0,362.8 610.0,362.8 611.0,362.8 612.0,362.8 613.0,362.8 614.0,362.8 615.0,362.8 616.0,362.8 617.0,362.8 618.0,362.9 619.0,362.9 620.0,362.9 621.0,362.9 622.0,362.9 623.0,362.9 623.8,362.9 623.8,363.2 623.0,363.2 622.0,363.2 621.0,363.2 620.0,363.2 619.0,363.2 618.0,363.2 617.0,363.2 616.0,363.2 615.0,363.2 614.0,363.2 613.0,363.2 612.0,363.2 611.0,363.2 610.0,363.2 609.0,363.2 608.0,363.2 607.0,363.2 606.0,363.2 605.0,363.2 604.0,363.2 603.0,363.2 602.0,363.2 601.0,363.2 600.0,363.2 599.0,363.2 598.0,363.2 597.0,363.2 596.0,363.2 595.0,363.2 594.0,363.2 593.0,363.2 592.0,363.2 591.0,363.2 590.0,363.2 589.0,363.2 588.0,363.2 587.0,363.1 586.0,363.1 585.0,363.1 584.0,363.1 583.0,363.1 582.0,363.1 581.0,363.1 580.0,363.1 579.0,363.1 578.0,363.0 577.0,363.0 576.0,363.0 575.0,363.0 574.0,363.0 573.0,362.9 572.0,362.9 571.0,362.9 570.0,362.9 569.0,362.8 568.0,362.8 567.0,362.8 566.0,362.7 565.0,362.7 564.0,362.7 563.0,362.6 562.0,362.6 561.0,362.6 560.0,362.5 559.0,362.5 558.0,362.5 557.0,362.4 556.0,362.4 555.0,362.4 554.0,362.3 553.0,362.3 552.0,362.3 551.0,362.2 550.0,362.2 549.0,362.2 548.0,362.1 547.0,362.1 546.0,362.1 545.0,362.0 544.0,362.0 543.0,362.0 542.0,361.9 541.0,361.9 540.0,361.8 539.0,361.8 538.0,361.8 537.0,361.7 536.0,361.7 535.0,361.6 534.0,361.6 533.0,361.5 532.0,361.5 531.0,361.4 530.0,361.4 529.0,361.3 528.0,361.3 527.0,361.2 526.0,361.1 525.0,361.1 524.0,361.0 523.0,361.0 522.0,360.9 521.0,360.8 520.0,360.8 519.0,360.7 518.0,360.7 517.0,360.6 516.0,360.5 515.0,360.5 514.0,360.4 513.0,360.4 512.0,360.3 511.0,360.3 510.0,360.2 509.0,360.2 508.0,360.1 507.0,360.1 506.0,360.1 505.0,360.0 504.0,360.0 503.0,359.9 502.0,359.9 501.0,359.9 500.0,359.9 499.0,359.8 498.0,359.8 497.0,359.8 496.0,359.8 495.0,359.7 494.0,359.7 493.0,359.7 492.0,359.7 491.0,359.7 490.0,359.7 489.0,359.6 488.0,359.6 487.0,359.6 486.0,359.6 485.0,359.6 484.0,359.6 483.0,359.6 482.0,359.6 481.0,359.6 480.0,359.6 479.0,359.6 478.0,359.6 477.0,359.6 476.0,359.5 475.0,359.5 474.0,359.5 473.0,359.5 472.0,359.5 471.0,359.5 470.0,359.5 469.0,359.5 468.0,359.5 467.0,359.5 466.0,359.5 465.0,359.5 464.0,359.5 463.0,359.5 462.0,359.5 461.0,359.5 460.0,359.5 459.0,359.5 458.0,359.5 457.0,359.5 456.0,359.5 455.0,359.5 454.0,359.5 453.0,359.5 452.0,359.5 451.0,359.5 450.0,359.5 449.0,359.5 448.0,359.5 447.0,359.5 446.0,359.5 445.0,359.5 444.0,359.5 443.0,359.5 442.0,359.5Z" fill="#f0952f" stroke="none" />
<path d="M442.0,359.0 443.0,359.0 444.0,359.0 445.0,359.0 446.0,359.0 447.0,359.0 448.0,359.0 449.0,359.0 450.0,359.0 451.0,359.0 452.0,359.0 453.0,359.0 454.0,359.0 455.0,358.9 456.0,358.9 457.0,358.9 458.0,358.9 459.0,358.9 460.0,358.9 461.0,358.9 462.0,358.9 463.0,358.9 464.0,358.8 465.0,358.8 466.0,358.8 467.0,358.8 468.0,358.8 469.0,358.8 470.0,358.8 471.0,358.8 472.0,358.7 473.0,358.7 474.0,358.7 475.0,358.7 476.0,358.7 477.0,358.7 478.0,358.7 479.0,358.6 480.0,358.6 481.0,358.6 482.0,358.6 483.0,358.6 484.0,358.5 485.0,358.5 486.0,358.5 487.0,358.5 488.0,358.5 489.0,358.5 490.0,358.4 491.0,358.4 492.0,358.4 493.0,358.4 494.0,358.4 495.0,358.3 496.0,358.3 497.0,358.3 498.0,358.3 499.0,358.3 500.0,358.3 501.0,358.2 502.0,358.2 503.0,358.2 504.0,358.2 505.0,358.1 506.0,358.1 507.0,358.1 508.0,358.1 509.0,358.0 510.0,358.0 511.0,358.0 512.0,357.9 513.0,357.9 514.0,357.8 515.0,357.7 516.0,357.7 517.0,357.6 518.0,357.5 519.0,357.4 520.0,357.2 521.0,357.1 522.0,356.9 523.0,356.7 524.0,356.5 525.0,356.2 526.0,355.9 527.0,355.6 528.0,355.2 529.0,354.7 530.0,354.2 531.0,353.7 532.0,353.1 533.0,352.4 534.0,351.6 535.0,350.8 536.0,349.8 537.0,348.8 538.0,347.7 539.0,346.5 540.0,345.3 541.0,343.9 542.0,342.4 543.0,340.9 544.0,339.2 545.0,337.5 546.0,335.7 547.0,333.8 548.0,331.9 549.0,330.0 550.0,328.0 551.0,326.0 552.0,324.0 553.0,322.0 554.0,320.1 555.0,318.3 556.0,316.6 557.0,315.1 558.0,313.7 559.0,312.6 560.0,311.7 561.0,311.1 562.0,310.7 563.0,310.7 564.0,310.9 565.0,311.5 566.0,312.4 567.0,313.5 568.0,314.9 569.0,316.6 570.0,318.5 571.0,320.5 572.0,322.7 573.0,325.0 574.0,327.3 575.0,329.7 576.0,332.1 577.0,334.5 578.0,336.8 579.0,339.1 580.0,341.3 581.0,343.4 582.0,345.4 583.0,347.2 584.0,349.0 585.0,350.6 586.0,352.1 587.0,353.4 588.0,354.6 589.0,355.7 590.0,356.7 591.0,357.5 592.0,358.3 593.0,359.0 594.0,359.5 595.0,360.0 596.0,360.5 597.0,360.8 598.0,361.2 599.0,361.4 600.0,361.7 601.0,361.8 602.0,362.0 603.0,362.1 604.0,362.3 605.0,362.3 606.0,362.4 607.0,362.5 608.0,362.5 609.0,362.6 610.0,362.6 611.0,362.7 612.0,362.7 613.0,362.7 614.0,362.7 615.0,362.8 616.0,362.8 617.0,362.8 618.0,362.8 619.0,362.8 620.0,362.8 621.0,362.9 622.0,362.9 623.0,362.9 623.8,362.9 623.8,363.2 623.0,363.2 622.0,363.2 621.0,363.2 620.0,363.2 619.0,363.2 618.0,363.2 617.0,363.2 616.0,363.2 615.0,363.2 614.0,363.2 613.0,363.2 612.0,363.2 611.0,363.2 610.0,363.2 609.0,363.2 608.0,363.2 607.0,363.2 606.0,363.2 605.0,363.2 604.0,363.2 603.0,363.2 602.0,363.2 601.0,363.2 600.0,363.2 599.0,363.2 598.0,363.2 597.0,363.2 596.0,363.2 595.0,363.2 594.0,363.2 593.0,363.2 592.0,363.2 591.0,363.2 590.0,363.2 589.0,363.2 588.0,363.2 587.0,363.1 586.0,363.1 585.0,363.1 584.0,363.1 583.0,363.1 582.0,363.1 581.0,363.1 580.0,363.1 579.0,363.1 578.0,363.0 577.0,363.0 576.0,363.0 575.0,363.0 574.0,363.0 573.0,362.9 572.0,362.9 571.0,362.9 570.0,362.9 569.0,362.8 568.0,362.8 567.0,362.8 566.0,362.7 565.0,362.7 564.0,362.7 563.0,362.6 562.0,362.6 561.0,362.6 560.0,362.5 559.0,362.5 558.0,362.5 557.0,362.4 556.0,362.4 555.0,362.4 554.0,362.3 553.0,362.3 552.0,362.3 551.0,362.2 550.0,362.2 549.0,362.2 548.0,362.1 547.0,362.1 546.0,362.1 545.0,362.0 544.0,362.0 543.0,362.0 542.0,361.9 541.0,361.9 540.0,361.8 539.0,361.8 538.0,361.8 537.0,361.7 536.0,361.7 535.0,361.6 534.0,361.6 533.0,361.5 532.0,361.5 531.0,361.4 530.0,361.4 529.0,361.3 528.0,361.3 527.0,361.2 526.0,361.1 525.0,361.1 524.0,361.0 523.0,361.0 522.0,360.9 521.0,360.8 520.0,360.8 519.0,360.7 518.0,360.7 517.0,360.6 516.0,360.5 515.0,360.5 514.0,360.4 513.0,360.4 512.0,360.3 511.0,360.3 510.0,360.2 509.0,360.2 508.0,360.1 507.0,360.1 506.0,360.1 505.0,360.0 504.0,360.0 503.0,359.9 502.0,359.9 501.0,359.9 500.0,359.9 499.0,359.8 498.0,359.8 497.0,359.8 496.0,359.8 495.0,359.7 494.0,359.7 493.0,359.7 492.0,359.7 491.0,359.7 490.0,359.7 489.0,359.6 488.0,359.6 487.0,359.6 486.0,359.6 485.0,359.6 484.0,359.6 483.0,359.6 482.0,359.6 481.0,359.6 480.0,359.6 479.0,359.6 478.0,359.6 477.0,359.6 476.0,359.5 475.0,359.5 474.0,359.5 473.0,359.5 472.0,359.5 471.0,359.5 470.0,359.5 469.0,359.5 468.0,359.5 467.0,359.5 466.0,359.5 465.0,359.5 464.0,359.5 463.0,359.5 462.0,359.5 461.0,359.5 460.0,359.5 459.0,359.5 458.0,359.5 457.0,359.5 456.0,359.5 455.0,359.5 454.0,359.5 453.0,359.5 452.0,359.5 451.0,359.5 450.0,359.5 449.0,359.5 448.0,359.5 447.0,359.5 446.0,359.5 445.0,359.5 444.0,359.5 443.0,359.5 442.0,359.5Z" fill="#b5326e" stroke="none" />
<path d="M442.0,359.5 443.0,359.5 444.0,359.5 445.0,359.5 446.0,359.5 447.0,359.5 448.0,359.5 449.0,359.5 450.0,359.5 451.0,359.5 452.0,359.5 453.0,359.5 454.0,359.5 455.0,359.5 456.0,359.5 457.0,359.5 458.0,359.5 459.0,359.5 460.0,359.5 461.0,359.5 462.0,359.5 463.0,359.5 464.0,359.5 465.0,359.5 466.0,359.5 467.0,359.5 468.0,359.5 469.0,359.5 470.0,359.5 471.0,359.5 472.0,359.5 473.0,359.5 474.0,359.5 475.0,359.5 476.0,359.5 477.0,359.6 478.0,359.6 479.0,359.6 480.0,359.6 481.0,359.6 482.0,359.6 483.0,359.6 484.0,359.6 485.0,359.6 486.0,359.6 487.0,359.6 488.0,359.6 489.0,359.6 490.0,359.7 491.0,359.7 492.0,359.7 493.0,359.7 494.0,359.7 495.0,359.7 496.0,359.8 497.0,359.8 498.0,359.8 499.0,359.8 500.0,359.9 501.0,359.9 502.0,359.9 503.0,359.9 504.0,360.0 505.0,360.0 506.0,360.1 507.0,360.1 508.0,360.1 509.0,360.2 510.0,360.2 511.0,360.3 512.0,360.3 513.0,360.4 514.0,360.4 515.0,360.5 516.0,360.5 517.0,360.6 518.0,360.7 519.0,360.7 520.0,360.8 521.0,360.8 522.0,360.9 523.0,361.0 524.0,361.0 525.0,361.1 526.0,361.1 527.0,361.2 528.0,361.3 529.0,361.3 530.0,361.4 531.0,361.4 532.0,361.5 533.0,361.5 534.0,361.6 535.0,361.6 536.0,361.7 537.0,361.7 538.0,361.8 539.0,361.8 540.0,361.8 541.0,361.9 542.0,361.9 543.0,362.0 544.0,362.0 545.0,362.0 546.0,362.1 547.0,362.1 548.0,362.1 549.0,362.2 550.0,362.2 551.0,362.2 552.0,362.3 553.0,362.3 554.0,362.3 555.0,362.4 556.0,362.4 557.0,362.4 558.0,362.5 559.0,362.5 560.0,362.5 561.0,362.6 562.0,362.6 563.0,362.6 564.0,362.7 565.0,362.7 566.0,362.7 567.0,362.8 568.0,362.8 569.0,362.8 570.0,362.9 571.0,362.9 572.0,362.9 573.0,362.9 574.0,363.0 575.0,363.0 576.0,363.0 577.0,363.0 578.0,363.0 579.0,363.1 580.0,363.1 581.0,363.1 582.0,363.1 583.0,363.1 584.0,363.1 585.0,363.1 586.0,363.1 587.0,363.1 588.0,363.2 589.0,363.2 590.0,363.2 591.0,363.2 592.0,363.2 593.0,363.2 594.0,363.2 595.0,363.2 596.0,363.2 597.0,363.2 598.0,363.2 599.0,363.2 600.0,363.2 601.0,363.2 602.0,363.2 603.0,363.2 604.0,363.2 605.0,363.2 606.0,363.2 607.0,363.2 608.0,363.2 609.0,363.2 610.0,363.2 611.0,363.2 612.0,363.2 613.0,363.2 614.0,363.2 615.0,363.2 616.0,363.2 617.0,363.2 618.0,363.2 619.0,363.2 620.0,363.2 621.0,363.2 622.0,363.2 623.0,363.2 623.8,363.2" stroke="#56c3cc" stroke-width="1.3" fill="none" stroke-linejoin="round" />
<path d="M442.0,358.4 443.0,358.4 444.0,358.4 445.0,358.3 446.0,358.3 447.0,358.3 448.0,358.2 449.0,358.2 450.0,358.2 451.0,358.1 452.0,358.1 453.0,358.1 454.0,358.0 455.0,358.0 456.0,357.9 457.0,357.8 458.0,357.8 459.0,357.7 460.0,357.6 461.0,357.5 462.0,357.4 463.0,357.3 464.0,357.2 465.0,357.0 466.0,356.8 467.0,356.7 468.0,356.4 469.0,356.2 470.0,355.9 471.0,355.6 472.0,355.3 473.0,354.9 474.0,354.5 475.0,354.0 476.0,353.5 477.0,352.9 478.0,352.2 479.0,351.5 480.0,350.7 481.0,349.8 482.0,348.8 483.0,347.8 484.0,346.6 485.0,345.3 486.0,343.9 487.0,342.4 488.0,340.8 489.0,339.1 490.0,337.2 491.0,335.2 492.0,333.1 493.0,330.9 494.0,328.5 495.0,326.0 496.0,323.4 497.0,320.7 498.0,317.9 499.0,315.0 500.0,312.0 501.0,308.9 502.0,305.8 503.0,302.6 504.0,299.4 505.0,296.1 506.0,292.9 507.0,289.7 508.0,286.5 509.0,283.4 510.0,280.4 511.0,277.5 512.0,274.7 513.0,272.1 514.0,269.7 515.0,267.4 516.0,265.3 517.0,263.5 518.0,262.0 519.0,260.6 520.0,259.6 521.0,258.8 522.0,258.3 523.0,258.1 524.0,258.3 525.0,258.8 526.0,259.7 527.0,260.9 528.0,262.3 529.0,264.0 530.0,265.9 531.0,267.9 532.0,270.1 533.0,272.3 534.0,274.5 535.0,276.6 536.0,278.7 537.0,280.7 538.0,282.5 539.0,284.2 540.0,285.6 541.0,286.9 542.0,288.0 543.0,289.0 544.0,289.7 545.0,290.4 546.0,291.0 547.0,291.5 548.0,291.9 549.0,292.3 550.0,292.8 551.0,293.2 552.0,293.7 553.0,294.2 554.0,294.7 555.0,295.2 556.0,295.8 557.0,296.4 558.0,297.1 559.0,297.8 560.0,298.6 561.0,299.6 562.0,300.6 563.0,301.7 564.0,303.1 565.0,304.5 566.0,306.2 567.0,308.0 568.0,310.0 569.0,312.2 570.0,314.5 571.0,316.8 572.0,319.3 573.0,321.8 574.0,324.4 575.0,327.0 576.0,329.6 577.0,332.1 578.0,334.6 579.0,337.0 580.0,339.3 581.0,341.5 582.0,343.6 583.0,345.6 584.0,347.4 585.0,349.1 586.0,350.6 587.0,352.1 588.0,353.3 589.0,354.5 590.0,355.5 591.0,356.4 592.0,357.3 593.0,358.0 594.0,358.6 595.0,359.1 596.0,359.6 597.0,360.0 598.0,360.4 599.0,360.7 600.0,360.9 601.0,361.2 602.0,361.3 603.0,361.5 604.0,361.6 605.0,361.8 606.0,361.9 607.0,362.0 608.0,362.0 609.0,362.1 610.0,362.2 611.0,362.2 612.0,362.2 613.0,362.3 614.0,362.3 615.0,362.4 616.0,362.4 617.0,362.4 618.0,362.4 619.0,362.5 620.0,362.5 621.0,362.5 622.0,362.5 623.0,362.6 623.8,362.6" stroke="#cf3a3a" stroke-width="1.1" fill="none" stroke-linejoin="round" />
<path d="M442.0,358.1 443.0,358.6 444.0,358.6 445.0,358.7 446.0,357.9 447.0,357.9 448.0,357.8 449.0,357.9 450.0,358.5 451.0,357.7 452.0,358.1 453.0,357.7 454.0,357.8 455.0,357.9 456.0,358.3 457.0,358.0 458.0,357.2 459.0,357.4 460.0,357.2 461.0,358.0 462.0,357.8 463.0,357.7 464.0,357.6 465.0,357.3 466.0,357.4 467.0,357.0 468.0,356.2 469.0,356.6 470.0,355.9 471.0,355.9 472.0,355.4 473.0,354.8 474.0,354.3 475.0,353.9 476.0,353.3 477.0,352.4 478.0,352.6 479.0,351.9 480.0,351.3 481.0,350.0 482.0,348.9 483.0,348.1 484.0,346.1 485.0,345.5 486.0,343.9 487.0,342.0 488.0,340.5 489.0,339.1 490.0,336.9 491.0,335.2 492.0,333.2 493.0,330.8 494.0,328.1 495.0,326.0 496.0,323.1 497.0,320.4 498.0,317.5 499.0,314.8 500.0,311.5 501.0,309.1 502.0,306.3 503.0,302.4 504.0,299.6 505.0,296.6 506.0,292.3 507.0,289.3 508.0,286.9 509.0,283.8 510.0,280.6 511.0,277.1 512.0,274.6 513.0,272.5 514.0,270.1 515.0,267.8 516.0,265.0 517.0,264.0 518.0,261.8 519.0,260.9 520.0,259.2 521.0,259.4 522.0,258.4 523.0,258.4 524.0,257.9 525.0,259.0 526.0,259.8 527.0,261.0 528.0,262.1 529.0,264.3 530.0,265.7 531.0,267.7 532.0,269.7 533.0,272.5 534.0,274.0 535.0,276.3 536.0,278.2 537.0,280.9 538.0,282.6 539.0,284.2 540.0,285.1 541.0,286.9 542.0,287.8 543.0,288.5 544.0,289.1 545.0,291.0 546.0,290.5 547.0,291.2 548.0,291.6 549.0,292.5 550.0,292.3 551.0,293.2 552.0,293.5 553.0,294.6 554.0,294.1 555.0,295.0 556.0,295.8 557.0,297.0 558.0,297.1 559.0,297.8 560.0,298.8 561.0,299.3 562.0,300.0 563.0,301.7 564.0,303.6 565.0,304.8 566.0,305.9 567.0,308.3 568.0,310.5 569.0,311.9 570.0,314.6 571.0,316.7 572.0,319.0 573.0,321.6 574.0,324.1 575.0,326.8 576.0,329.0 577.0,332.0 578.0,334.1 579.0,337.3 580.0,339.4 581.0,340.9 582.0,343.9 583.0,345.2 584.0,347.4 585.0,349.2 586.0,350.4 587.0,351.8 588.0,353.3 589.0,354.1 590.0,356.0 591.0,356.0 592.0,357.6 593.0,357.6 594.0,358.4 595.0,359.0 596.0,359.1 597.0,359.6 598.0,360.2 599.0,360.6 600.0,361.4 601.0,361.7 602.0,360.8 603.0,361.5 604.0,361.2 605.0,362.1 606.0,361.6 607.0,362.4 608.0,362.1 609.0,361.6 610.0,361.6 611.0,361.9 612.0,362.7 613.0,361.9 614.0,362.3 615.0,362.2 616.0,362.2 617.0,362.8 618.0,362.1 619.0,362.7 620.0,362.7 621.0,363.0 622.0,362.6 623.0,363.1 623.8,362.5" stroke="#333" stroke-width="0.6" fill="none" stroke-linejoin="round" />
<rect x="442.00" y="238.00" width="181.80" height="128.00" fill="none" stroke="#111" stroke-width="1.0" />
<line x1="609.50" y1="366.00" x2="609.50" y2="363.00" stroke="#111" stroke-width="0.9" />
<text x="609.5" y="376.5" font-size="9.3" text-anchor="middle" fill="#222" >528</text>
<line x1="592.75" y1="366.00" x2="592.75" y2="364.20" stroke="#111" stroke-width="0.9" />
<line x1="576.00" y1="366.00" x2="576.00" y2="363.00" stroke="#111" stroke-width="0.9" />
<text x="576.0" y="376.5" font-size="9.3" text-anchor="middle" fill="#222" >530</text>
<line x1="559.25" y1="366.00" x2="559.25" y2="364.20" stroke="#111" stroke-width="0.9" />
<line x1="542.50" y1="366.00" x2="542.50" y2="363.00" stroke="#111" stroke-width="0.9" />
<text x="542.5" y="376.5" font-size="9.3" text-anchor="middle" fill="#222" >532</text>
<line x1="525.75" y1="366.00" x2="525.75" y2="364.20" stroke="#111" stroke-width="0.9" />
<line x1="509.00" y1="366.00" x2="509.00" y2="363.00" stroke="#111" stroke-width="0.9" />
<text x="509.0" y="376.5" font-size="9.3" text-anchor="middle" fill="#222" >534</text>
<line x1="492.25" y1="366.00" x2="492.25" y2="364.20" stroke="#111" stroke-width="0.9" />
<line x1="475.50" y1="366.00" x2="475.50" y2="363.00" stroke="#111" stroke-width="0.9" />
<text x="475.5" y="376.5" font-size="9.3" text-anchor="middle" fill="#222" >536</text>
<line x1="458.75" y1="366.00" x2="458.75" y2="364.20" stroke="#111" stroke-width="0.9" />
<line x1="442.00" y1="366.00" x2="442.00" y2="363.00" stroke="#111" stroke-width="0.9" />
<text x="442.0" y="376.5" font-size="9.3" text-anchor="middle" fill="#222" >538</text>
<text x="532.9" y="391.5" font-size="10" text-anchor="middle" fill="#222" >Binding Energy (eV)</text>
<text x="0.0" y="0.0" font-size="9.8" text-anchor="middle" fill="#222" transform="translate(436.5,302.0) rotate(-90)">Intensity (a.u.)</text>
<text x="424.5" y="251.8" font-size="26.5" text-anchor="start" fill="#111" >d</text>
<text x="530.7" y="259.6" font-size="8.0" text-anchor="start" fill="#222" >BE=533.07eV</text>
<text x="565.4" y="301.8" font-size="8.0" text-anchor="start" fill="#222" >BE=530.63eV</text>
<text x="617.8" y="248.0" font-size="9.7" text-anchor="end" font-weight="bold" fill="#c8323c" >1273 K</text>
<rect x="443.80" y="238.40" width="18.30" height="8.80" fill="#f0952f" stroke="none" stroke-width="1" />
<text x="464.7" y="246.2" font-size="8.0" text-anchor="start" fill="#222" ><tspan>TiO</tspan><tspan dy="2.5" font-size="5.6">2</tspan><tspan dy="-2.5">/Mo oxides</tspan></text>
<rect x="443.80" y="250.40" width="18.30" height="8.80" fill="#b5326e" stroke="none" stroke-width="1" />
<text x="464.7" y="258.2" font-size="8.0" text-anchor="start" fill="#222" ><tspan>B</tspan><tspan dy="2.5" font-size="5.6">2</tspan><tspan dy="-2.5">O</tspan><tspan dy="2.5" font-size="5.6">3</tspan></text>
<line x1="444.00" y1="267.10" x2="462.00" y2="267.10" stroke="#56c3cc" stroke-width="1.3" />
<text x="464.7" y="269.6" font-size="8.0" text-anchor="start" fill="#222" >Background</text>
<line x1="40.1" y1="485.0" x2="270.3" y2="485.0" stroke="#3aa8df" stroke-width="1.6" stroke-dasharray="1.6 2.6"/>
<path d="M38.5,486.2 40.1,487.4 42.2,487.3 44.8,487.1 47.5,486.6 50.0,487.9 52.3,488.1 54.7,487.5 57.0,487.6 59.5,487.1 62.0,486.7 64.7,487.6 67.6,488.1 70.4,487.0 73.3,488.6 76.0,487.6 78.5,487.9 80.9,487.8 83.3,490.4 85.6,490.3 88.0,491.3 90.5,491.6 93.1,491.5 95.7,493.3 98.0,494.8 100.0,494.9 101.5,497.4 102.6,496.6 103.5,496.6 104.5,498.6 105.7,497.8 107.2,500.4 108.9,500.4 110.7,501.7 112.5,502.5 114.3,504.3 116.1,505.3 117.9,506.9 119.7,510.8 121.4,511.9 122.9,514.6 124.2,516.2 125.4,519.1 126.5,521.3 127.5,523.5 128.6,526.0 129.7,528.5 130.9,531.5 132.0,533.9 133.2,537.2 134.3,540.3 135.4,542.5 136.6,546.0 137.8,548.7 138.9,550.7 140.0,552.8 141.1,554.7 142.2,556.4 143.2,558.4 144.2,558.8 145.1,558.9 145.9,559.0 146.6,559.1 147.2,558.5 147.9,556.5 148.6,554.3 149.4,551.4 150.3,548.0 151.1,543.4 152.0,539.2 152.9,534.4 153.8,529.2 154.6,522.9 155.5,516.8 156.3,511.0 157.1,506.1 157.8,500.7 158.4,496.4 158.9,491.8 159.4,487.2 160.0,482.5 160.6,478.2 161.1,473.1 161.7,467.4 162.2,462.5 162.9,457.3 163.6,452.3 164.4,447.0 165.3,441.2 166.2,436.7 167.0,431.9 167.8,426.9 168.7,422.6 169.5,418.0 170.4,414.1 171.2,411.1 172.0,409.9 172.8,408.2 173.6,407.6 174.3,408.1 175.0,407.9 175.6,407.3 176.2,407.4 176.8,406.6 177.4,407.1 178.0,407.8 178.7,409.0 179.3,410.2 180.0,411.8 180.8,414.1 181.5,416.9 182.3,419.5 183.0,422.2 183.8,425.0 184.7,427.9 185.5,432.0 186.3,433.7 187.2,436.7 188.1,437.7 189.0,440.5 190.0,444.2 191.1,446.5 192.3,448.9 193.5,450.5 194.7,452.3 196.0,454.7 197.3,457.2 198.5,458.0 199.8,460.3 201.2,461.4 202.5,464.1 203.8,463.8 205.1,466.5 206.4,468.2 207.9,467.3 209.5,469.7 211.3,471.1 213.3,472.8 215.4,473.5 217.6,474.0 220.0,475.5 222.6,477.7 225.4,478.6 228.4,477.8 231.4,478.5 234.3,479.1 237.1,479.4 240.0,480.6 242.8,480.2 245.7,482.0 248.6,481.7 251.8,480.9 255.2,482.1 258.6,481.9 261.7,482.6 264.3,482.3 266.3,482.4 267.9,482.7 269.1,483.4 270.1,484.3 270.8,484.1" stroke="#6a3aa2" stroke-width="1.4" fill="none" stroke-linejoin="round" />
<path d="M38.5,487.0 41.9,487.0 46.7,487.1 52.4,487.1 58.4,487.2 64.5,487.2 70.0,487.3 75.3,487.4 80.7,487.5 86.0,487.6 91.2,487.7 95.9,487.9 100.0,488.0 103.4,488.1 106.2,488.3 108.5,488.4 110.7,488.6 112.8,488.8 115.0,489.0 117.3,489.2 119.6,489.5 121.8,489.7 124.1,490.0 126.3,490.4 128.6,490.8 131.0,491.3 133.6,491.9 136.2,492.5 138.6,493.2 140.9,493.9 142.9,494.5 144.5,495.1 145.9,495.7 147.0,496.4 148.1,497.0 149.0,497.5 150.0,498.0 151.0,498.4 151.9,498.9 152.8,499.3 153.6,499.6 154.3,499.8 155.0,499.8 155.6,499.7 156.1,499.6 156.5,499.4 156.8,499.0 157.2,498.3 157.6,497.5 158.0,496.3 158.4,494.8 158.8,493.1 159.2,491.4 159.6,489.6 160.0,488.0 160.5,486.5 161.0,485.0 161.5,483.4 162.0,482.0 162.5,480.7 163.0,479.5 163.5,478.5 164.0,477.6 164.4,476.8 164.9,476.1 165.4,475.4 166.0,474.8 166.6,474.2 167.2,473.7 167.9,473.2 168.6,472.8 169.3,472.5 170.0,472.2 170.7,472.0 171.4,471.8 172.2,471.7 172.9,471.6 173.6,471.6 174.3,471.6 174.9,471.7 175.5,471.8 176.1,472.0 176.7,472.2 177.3,472.5 178.0,472.8 178.7,473.2 179.4,473.6 180.2,474.0 181.0,474.5 181.9,475.1 182.9,475.7 184.1,476.4 185.4,477.2 186.7,478.1 188.2,479.0 189.8,479.8 191.4,480.5 193.1,481.1 194.8,481.7 196.6,482.2 198.5,482.7 200.6,483.1 202.9,483.5 205.0,483.8 206.9,484.1 209.0,484.3 211.6,484.5 215.1,484.7 220.0,484.8 227.1,484.9 236.3,485.0 246.5,485.1 256.4,485.1 264.9,485.2 270.8,485.2" stroke="#d88070" stroke-width="2.6" fill="none" stroke-linejoin="round" />
<path d="M38.5,486.6 41.9,486.6 46.7,486.7 52.4,486.7 58.4,486.8 64.5,486.8 70.0,486.9 75.3,487.0 80.7,487.1 86.0,487.2 91.2,487.3 95.9,487.5 100.0,487.6 103.4,487.7 106.2,487.9 108.5,488.0 110.7,488.2 112.8,488.4 115.0,488.6 117.3,488.8 119.6,489.1 121.8,489.3 124.1,489.6 126.3,490.0 128.6,490.4 131.0,490.9 133.6,491.5 136.2,492.1 138.6,492.8 140.9,493.5 142.9,494.1 144.5,494.7 145.9,495.3 147.0,496.0 148.1,496.6 149.0,497.1 150.0,497.6 151.0,498.0 151.9,498.5 152.8,498.9 153.6,499.2 154.3,499.4 155.0,499.4 155.6,499.3 156.1,499.2 156.5,499.0 156.8,498.6 157.2,497.9 157.6,497.1 158.0,495.9 158.4,494.4 158.8,492.7 159.2,491.0 159.6,489.2 160.0,487.6 160.5,486.1 161.0,484.6 161.5,483.1 162.0,481.6 162.5,480.3 163.0,479.1 163.5,478.1 164.0,477.2 164.4,476.4 164.9,475.7 165.4,475.0 166.0,474.4 166.6,473.8 167.2,473.3 167.9,472.8 168.6,472.4 169.3,472.1 170.0,471.8 170.7,471.6 171.4,471.4 172.2,471.3 172.9,471.2 173.6,471.2 174.3,471.2 174.9,471.3 175.5,471.4 176.1,471.6 176.7,471.8 177.3,472.1 178.0,472.4 178.7,472.8 179.4,473.2 180.2,473.6 181.0,474.1 181.9,474.7 182.9,475.3 184.1,476.0 185.4,476.8 186.7,477.7 188.2,478.6 189.8,479.4 191.4,480.1 193.1,480.7 194.8,481.3 196.6,481.8 198.5,482.3 200.6,482.7 202.9,483.1 205.0,483.4 206.9,483.7 209.0,483.9 211.6,484.1 215.1,484.3 220.0,484.4 227.1,484.5 236.3,484.6 246.5,484.7 256.4,484.7 264.9,484.8 270.8,484.8" stroke="#a62a62" stroke-width="1.3" fill="none" stroke-linejoin="round" />
<path d="M157.2,483.2 161.6,483.2 159.4,487.0Z" fill="#e0309a" stroke="none" />
<path d="M164.9,481.6 169.3,481.6 167.1,485.4Z" fill="#e0309a" stroke="none" />
<rect x="163.40" y="467.70" width="30.30" height="22.90" fill="none" stroke="#777" stroke-width="0.9" />
<line x1="169.50" y1="467.40" x2="143.15" y2="446.77" stroke="#111" stroke-width="0.9" />
<path d="M140.0,444.3 144.4,445.2 141.9,448.3Z" fill="#111" stroke="none" />
<line x1="161.00" y1="487.00" x2="167.66" y2="496.25" stroke="#111" stroke-width="0.9" />
<path d="M170.0,499.5 166.0,497.4 169.3,495.1Z" fill="#111" stroke="none" />
<text x="162.3" y="512.0" font-size="8.9" text-anchor="start" fill="#222" >2.0028</text>
<rect x="38.10" y="402.10" width="233.20" height="172.20" fill="none" stroke="#111" stroke-width="1.0" />
<line x1="38.10" y1="574.30" x2="38.10" y2="571.10" stroke="#111" stroke-width="0.9" />
<text x="38.1" y="585.8" font-size="9.2" text-anchor="middle" fill="#222" >1.9950</text>
<line x1="57.45" y1="574.30" x2="57.45" y2="572.50" stroke="#111" stroke-width="0.9" />
<line x1="76.80" y1="574.30" x2="76.80" y2="571.10" stroke="#111" stroke-width="0.9" />
<text x="76.8" y="585.8" font-size="9.2" text-anchor="middle" fill="#222" >1.9975</text>
<line x1="96.15" y1="574.30" x2="96.15" y2="572.50" stroke="#111" stroke-width="0.9" />
<line x1="115.50" y1="574.30" x2="115.50" y2="571.10" stroke="#111" stroke-width="0.9" />
<text x="115.5" y="585.8" font-size="9.2" text-anchor="middle" fill="#222" >2.0000</text>
<line x1="134.85" y1="574.30" x2="134.85" y2="572.50" stroke="#111" stroke-width="0.9" />
<line x1="154.20" y1="574.30" x2="154.20" y2="571.10" stroke="#111" stroke-width="0.9" />
<text x="154.2" y="585.8" font-size="9.2" text-anchor="middle" fill="#222" >2.0025</text>
<line x1="173.55" y1="574.30" x2="173.55" y2="572.50" stroke="#111" stroke-width="0.9" />
<line x1="192.90" y1="574.30" x2="192.90" y2="571.10" stroke="#111" stroke-width="0.9" />
<text x="192.9" y="585.8" font-size="9.2" text-anchor="middle" fill="#222" >2.0050</text>
<line x1="212.25" y1="574.30" x2="212.25" y2="572.50" stroke="#111" stroke-width="0.9" />
<line x1="231.60" y1="574.30" x2="231.60" y2="571.10" stroke="#111" stroke-width="0.9" />
<text x="231.6" y="585.8" font-size="9.2" text-anchor="middle" fill="#222" >2.0075</text>
<line x1="250.95" y1="574.30" x2="250.95" y2="572.50" stroke="#111" stroke-width="0.9" />
<line x1="270.30" y1="574.30" x2="270.30" y2="571.10" stroke="#111" stroke-width="0.9" />
<text x="270.3" y="585.8" font-size="9.2" text-anchor="middle" fill="#222" >2.0100</text>
<text x="154.5" y="597.0" font-size="10.3" text-anchor="middle" fill="#222" >g-factor</text>
<text x="0.0" y="0.0" font-size="10.2" text-anchor="middle" fill="#222" transform="translate(30.4,488.6) rotate(-90)">Intensity (a.u)</text>
<text x="17.3" y="420.0" font-size="27" text-anchor="start" fill="#111" >e</text>
<line x1="46.90" y1="531.10" x2="72.30" y2="531.10" stroke="#6a3aa2" stroke-width="1.6" />
<text x="75.5" y="535.0" font-size="10.6" text-anchor="start" fill="#111" >1273 K</text>
<line x1="46.90" y1="545.00" x2="72.30" y2="545.00" stroke="#d88070" stroke-width="1.6" />
<text x="75.5" y="548.9" font-size="10.6" text-anchor="start" fill="#111" >1073 K</text>
<line x1="46.90" y1="558.10" x2="72.30" y2="558.10" stroke="#8a2a6a" stroke-width="1.6" />
<text x="75.5" y="562.0" font-size="10.6" text-anchor="start" fill="#111" >873 K</text>
<rect x="49.00" y="403.80" width="87.80" height="61.00" fill="#fff" stroke="#666" stroke-width="0.8" />
<path d="M49.2,462.7 49.9,462.6 51.0,462.5 52.2,462.4 53.5,462.2 54.8,461.9 56.0,461.5 57.1,461.0 58.2,460.4 59.2,459.6 60.3,458.7 61.3,457.7 62.3,456.6 63.2,455.4 64.1,454.1 65.0,452.7 65.8,451.2 66.6,449.7 67.5,448.1 68.4,446.4 69.2,444.7 70.0,442.9 70.9,441.0 71.8,439.0 72.8,436.9 73.9,434.6 75.1,432.0 76.4,429.3 77.7,426.7 78.9,424.1 80.1,421.9 81.2,419.9 82.3,418.1 83.4,416.5 84.4,414.9 85.5,413.6 86.6,412.3 87.8,411.3 88.9,410.5 90.1,409.9 91.3,409.4 92.6,409.0 93.9,408.8 95.2,408.8 96.6,408.9 98.0,409.1 99.5,409.5 101.1,410.1 102.8,410.8 104.7,411.6 106.8,412.7 109.0,413.9 111.2,415.2 113.5,416.5 115.7,417.7 117.9,418.8 120.2,420.0 122.5,421.1 124.7,422.2 126.8,423.2 128.7,424.0 130.4,424.7 132.0,425.2 133.5,425.7 134.7,426.0 135.8,426.3 136.6,426.5" stroke="#d585bd" stroke-width="0.8" fill="none" stroke-linejoin="round" />
<path d="M49.2,461.2 49.9,461.1 51.0,461.0 52.2,460.9 53.5,460.7 54.8,460.4 56.0,460.0 57.1,459.5 58.2,458.9 59.2,458.2 60.3,457.4 61.3,456.5 62.3,455.5 63.2,454.4 64.1,453.2 65.0,451.9 65.8,450.5 66.6,449.0 67.5,447.5 68.4,445.9 69.2,444.3 70.0,442.6 70.9,440.8 71.8,438.9 72.8,436.9 73.9,434.7 75.1,432.2 76.4,429.7 77.7,427.2 78.9,424.8 80.1,422.7 81.2,420.8 82.3,419.1 83.4,417.6 84.4,416.2 85.5,414.9 86.6,413.8 87.8,412.8 88.9,412.0 90.1,411.3 91.3,410.8 92.6,410.4 93.9,410.2 95.2,410.1 96.6,410.2 98.0,410.5 99.5,410.8 101.1,411.4 102.8,412.0 104.7,412.8 106.8,413.9 109.0,415.1 111.2,416.3 113.5,417.6 115.7,418.7 117.9,419.8 120.2,420.9 122.5,422.0 124.7,423.1 126.8,424.0 128.7,424.8 130.4,425.4 132.0,426.0 133.5,426.4 134.7,426.7 135.8,427.0 136.6,427.2" stroke="#b03a88" stroke-width="0.8" fill="none" stroke-linejoin="round" />
<path d="M49.2,459.7 49.9,459.6 51.0,459.5 52.2,459.4 53.5,459.2 54.8,458.9 56.0,458.5 57.1,458.0 58.2,457.4 59.2,456.7 60.3,456.0 61.3,455.3 62.3,454.4 63.2,453.4 64.1,452.3 65.0,451.0 65.8,449.7 66.6,448.4 67.5,446.9 68.4,445.4 69.2,443.9 70.0,442.3 70.9,440.6 71.8,438.8 72.8,436.9 73.9,434.8 75.1,432.5 76.4,430.1 77.7,427.7 78.9,425.5 80.1,423.5 81.2,421.8 82.3,420.2 83.4,418.7 84.4,417.4 85.5,416.3 86.6,415.3 87.8,414.3 88.9,413.5 90.1,412.8 91.3,412.2 92.6,411.8 93.9,411.6 95.2,411.5 96.6,411.6 98.0,411.8 99.5,412.1 101.1,412.6 102.8,413.2 104.7,414.1 106.8,415.1 109.0,416.2 111.2,417.4 113.5,418.6 115.7,419.7 117.9,420.8 120.2,421.9 122.5,422.9 124.7,423.9 126.8,424.8 128.7,425.6 130.4,426.2 132.0,426.7 133.5,427.1 134.7,427.4 135.8,427.7 136.6,427.9" stroke="#7a3a9a" stroke-width="0.8" fill="none" stroke-linejoin="round" />
<line x1="55" y1="436.9" x2="90" y2="436.9" stroke="#59b8d8" stroke-width="0.9" stroke-dasharray="2.2 1.2 0.6 1.2"/>
<circle cx="72.8" cy="436.9" r="1.2" fill="#d02a8a"/>
<line x1="72.80" y1="436.90" x2="83.81" y2="444.32" stroke="#111" stroke-width="0.7" />
<path d="M86.3,446.0 83.0,445.6 84.7,443.1Z" fill="#111" stroke="none" />
<text x="80.3" y="453.4" font-size="6.6" text-anchor="start" fill="#222" >2.0032</text>
<line x1="94.70" y1="430.80" x2="105.20" y2="430.80" stroke="#c870a8" stroke-width="1.0" />
<text x="107.6" y="432.4" font-size="4.6" text-anchor="start" fill="#333" >873 K</text>
<line x1="94.70" y1="438.50" x2="105.20" y2="438.50" stroke="#7a3a9a" stroke-width="1.0" />
<text x="107.6" y="440.1" font-size="4.6" text-anchor="start" fill="#333" >1073 K</text>
<line x1="49.00" y1="464.80" x2="49.00" y2="463.30" stroke="#333" stroke-width="0.5" />
<text x="49.0" y="472.3" font-size="3.9" text-anchor="middle" fill="#444" >2.0025</text>
<line x1="66.56" y1="464.80" x2="66.56" y2="463.30" stroke="#333" stroke-width="0.5" />
<text x="66.6" y="472.3" font-size="3.9" text-anchor="middle" fill="#444" >2.0030</text>
<line x1="84.12" y1="464.80" x2="84.12" y2="463.30" stroke="#333" stroke-width="0.5" />
<text x="84.1" y="472.3" font-size="3.9" text-anchor="middle" fill="#444" >2.0035</text>
<line x1="101.68" y1="464.80" x2="101.68" y2="463.30" stroke="#333" stroke-width="0.5" />
<text x="101.7" y="472.3" font-size="3.9" text-anchor="middle" fill="#444" >2.0040</text>
<line x1="119.24" y1="464.80" x2="119.24" y2="463.30" stroke="#333" stroke-width="0.5" />
<text x="119.2" y="472.3" font-size="3.9" text-anchor="middle" fill="#444" >2.0045</text>
<line x1="136.80" y1="464.80" x2="136.80" y2="463.30" stroke="#333" stroke-width="0.5" />
<text x="136.8" y="472.3" font-size="3.9" text-anchor="middle" fill="#444" >2.0050</text>
<text x="93.0" y="481.0" font-size="6.7" text-anchor="middle" fill="#222" >g-factor</text>
<text x="0.0" y="0.0" font-size="6.3" text-anchor="middle" fill="#333" transform="translate(46.0,436) rotate(-90)">Intensity (a.u.)</text>
<defs>
<linearGradient id="gb1" x1="0" y1="0" x2="0" y2="1"><stop offset="0" stop-color="#d5554f"/><stop offset="0.45" stop-color="#eba7a2"/><stop offset="1" stop-color="#fdf5f5"/></linearGradient>
<linearGradient id="gb2" x1="0" y1="0" x2="0" y2="1"><stop offset="0" stop-color="#a52a66"/><stop offset="0.15" stop-color="#b8527e"/><stop offset="0.45" stop-color="#d9a2bc"/><stop offset="0.8" stop-color="#f2e2ea"/><stop offset="1" stop-color="#fcf8fa"/></linearGradient>
<linearGradient id="gb3" x1="0" y1="0" x2="0" y2="1"><stop offset="0" stop-color="#58308e"/><stop offset="0.12" stop-color="#7458a2"/><stop offset="0.45" stop-color="#b8acd0"/><stop offset="0.8" stop-color="#eae6f0"/><stop offset="1" stop-color="#fafafc"/></linearGradient>
<radialGradient id="gTi" cx="0.5" cy="0.5" r="0.5"><stop offset="0" stop-color="#ffffff"/><stop offset="0.3" stop-color="#c8f0ff"/><stop offset="0.6" stop-color="#72c0e8"/><stop offset="1" stop-color="#3a86bf"/></radialGradient>
<radialGradient id="gO" cx="0.5" cy="0.5" r="0.5"><stop offset="0" stop-color="#f06060"/><stop offset="0.6" stop-color="#d82020"/><stop offset="1" stop-color="#b81010"/></radialGradient>
</defs>
<rect x="314.90" y="422.44" width="49.90" height="152.26" fill="url(#gb1)" stroke="none" stroke-width="1" />
<rect x="367.00" y="515.64" width="50.10" height="59.06" fill="url(#gb2)" stroke="none" stroke-width="1" />
<rect x="523.70" y="528.61" width="50.00" height="46.09" fill="url(#gb3)" stroke="none" stroke-width="1" />
<linearGradient id="gb4" x1="0" y1="0" x2="0" y2="1"><stop offset="0" stop-color="#55558a"/><stop offset="0.35" stop-color="#8686a8"/><stop offset="1" stop-color="#c4c4d8"/></linearGradient>
<rect x="576.40" y="568.90" width="49.50" height="5.80" fill="url(#gb4)" stroke="none" stroke-width="1" />
<text x="315.7" y="417.9" font-size="10.2" text-anchor="start" font-weight="bold" fill="#111" >without V<tspan dy="2.6" font-size="7.5">O</tspan></text>
<text x="317.0" y="435.0" font-size="10.0" text-anchor="start" fill="#222" >17.84 eV</text>
<text x="374.3" y="510.5" font-size="10.2" text-anchor="start" font-weight="bold" fill="#111" >with V<tspan dy="2.6" font-size="7.5">O</tspan></text>
<text x="372.4" y="526.7" font-size="10.0" text-anchor="start" fill="#222" >6.92 eV</text>
<text x="520.6" y="522.7" font-size="10.2" text-anchor="start" font-weight="bold" fill="#111" >without V<tspan dy="2.6" font-size="7.5">O</tspan></text>
<text x="533.0" y="539.2" font-size="10.0" text-anchor="start" fill="#222" >5.4 eV</text>
<text x="582.5" y="554.0" font-size="10.2" text-anchor="start" font-weight="bold" fill="#111" >with V<tspan dy="2.6" font-size="7.5">O</tspan></text>
<text x="584.6" y="568.1" font-size="10.0" text-anchor="start" fill="#222" >0.68 eV</text>
<text x="341.0" y="588.2" font-size="9.5" text-anchor="start" fill="#222" ><tspan>TiO</tspan><tspan dy="3.0" font-size="6.2">2</tspan><tspan dy="-3.0">-TiO</tspan><tspan dy="3.0" font-size="6.2">2</tspan></text>
<text x="555.7" y="586.8" font-size="9.5" text-anchor="start" fill="#222" ><tspan>Ni-TiO</tspan><tspan dy="3.0" font-size="6.2">2</tspan></text>
<rect x="314.90" y="403.60" width="311.40" height="171.10" fill="none" stroke="#111" stroke-width="1.1" />
<line x1="314.90" y1="574.70" x2="318.10" y2="574.70" stroke="#111" stroke-width="0.9" />
<text x="310.6" y="577.3" font-size="10.3" text-anchor="end" fill="#222" >0</text>
<line x1="314.90" y1="557.63" x2="316.70" y2="557.63" stroke="#111" stroke-width="0.9" />
<line x1="314.90" y1="540.56" x2="318.10" y2="540.56" stroke="#111" stroke-width="0.9" />
<text x="310.6" y="543.2" font-size="10.3" text-anchor="end" fill="#222" >4</text>
<line x1="314.90" y1="523.49" x2="316.70" y2="523.49" stroke="#111" stroke-width="0.9" />
<line x1="314.90" y1="506.42" x2="318.10" y2="506.42" stroke="#111" stroke-width="0.9" />
<text x="310.6" y="509.0" font-size="10.3" text-anchor="end" fill="#222" >8</text>
<line x1="314.90" y1="489.35" x2="316.70" y2="489.35" stroke="#111" stroke-width="0.9" />
<line x1="314.90" y1="472.28" x2="318.10" y2="472.28" stroke="#111" stroke-width="0.9" />
<text x="310.6" y="474.9" font-size="10.3" text-anchor="end" fill="#222" >12</text>
<line x1="314.90" y1="455.21" x2="316.70" y2="455.21" stroke="#111" stroke-width="0.9" />
<line x1="314.90" y1="438.14" x2="318.10" y2="438.14" stroke="#111" stroke-width="0.9" />
<text x="310.6" y="440.7" font-size="10.3" text-anchor="end" fill="#222" >16</text>
<line x1="314.90" y1="421.07" x2="316.70" y2="421.07" stroke="#111" stroke-width="0.9" />
<line x1="314.90" y1="404.00" x2="318.10" y2="404.00" stroke="#111" stroke-width="0.9" />
<text x="310.6" y="406.6" font-size="10.3" text-anchor="end" fill="#222" >20</text>
<text x="0.0" y="0.0" font-size="10.4" text-anchor="middle" fill="#222" transform="translate(294.5,485.8) rotate(-90)">interaction energy (ev/unit cell)</text>
<text x="277.3" y="419.8" font-size="27.5" text-anchor="start" fill="#111" >f</text>
<line x1="376.70" y1="441.40" x2="376.70" y2="445.50" stroke="#5aa5d5" stroke-width="1.7" />
<line x1="376.70" y1="445.50" x2="376.70" y2="449.60" stroke="#d42a2a" stroke-width="1.7" />
<line x1="376.70" y1="441.40" x2="381.05" y2="444.15" stroke="#5aa5d5" stroke-width="1.7" />
<line x1="381.05" y1="444.15" x2="385.40" y2="446.90" stroke="#d42a2a" stroke-width="1.7" />
<line x1="376.70" y1="441.40" x2="372.35" y2="444.15" stroke="#5aa5d5" stroke-width="1.7" />
<line x1="372.35" y1="444.15" x2="368.00" y2="446.90" stroke="#d42a2a" stroke-width="1.7" />
<line x1="394.35" y1="441.40" x2="394.35" y2="445.50" stroke="#5aa5d5" stroke-width="1.7" />
<line x1="394.35" y1="445.50" x2="394.35" y2="449.60" stroke="#d42a2a" stroke-width="1.7" />
<line x1="394.35" y1="441.40" x2="398.70" y2="444.15" stroke="#5aa5d5" stroke-width="1.7" />
<line x1="398.70" y1="444.15" x2="403.05" y2="446.90" stroke="#d42a2a" stroke-width="1.7" />
<line x1="394.35" y1="441.40" x2="390.00" y2="444.15" stroke="#5aa5d5" stroke-width="1.7" />
<line x1="390.00" y1="444.15" x2="385.65" y2="446.90" stroke="#d42a2a" stroke-width="1.7" />
<line x1="412.00" y1="441.40" x2="412.00" y2="445.50" stroke="#5aa5d5" stroke-width="1.7" />
<line x1="412.00" y1="445.50" x2="412.00" y2="449.60" stroke="#d42a2a" stroke-width="1.7" />
<line x1="412.00" y1="441.40" x2="416.35" y2="444.15" stroke="#5aa5d5" stroke-width="1.7" />
<line x1="416.35" y1="444.15" x2="420.70" y2="446.90" stroke="#d42a2a" stroke-width="1.7" />
<line x1="412.00" y1="441.40" x2="407.65" y2="444.15" stroke="#5aa5d5" stroke-width="1.7" />
<line x1="407.65" y1="444.15" x2="403.30" y2="446.90" stroke="#d42a2a" stroke-width="1.7" />
<line x1="429.65" y1="441.40" x2="429.65" y2="445.50" stroke="#5aa5d5" stroke-width="1.7" />
<line x1="429.65" y1="445.50" x2="429.65" y2="449.60" stroke="#d42a2a" stroke-width="1.7" />
<line x1="429.65" y1="441.40" x2="434.00" y2="444.15" stroke="#5aa5d5" stroke-width="1.7" />
<line x1="434.00" y1="444.15" x2="438.35" y2="446.90" stroke="#d42a2a" stroke-width="1.7" />
<line x1="429.65" y1="441.40" x2="425.30" y2="444.15" stroke="#5aa5d5" stroke-width="1.7" />
<line x1="425.30" y1="444.15" x2="420.95" y2="446.90" stroke="#d42a2a" stroke-width="1.7" />
<line x1="447.30" y1="441.40" x2="447.30" y2="445.50" stroke="#5aa5d5" stroke-width="1.7" />
<line x1="447.30" y1="445.50" x2="447.30" y2="449.60" stroke="#d42a2a" stroke-width="1.7" />
<line x1="447.30" y1="441.40" x2="451.65" y2="444.15" stroke="#5aa5d5" stroke-width="1.7" />
<line x1="451.65" y1="444.15" x2="456.00" y2="446.90" stroke="#d42a2a" stroke-width="1.7" />
<line x1="447.30" y1="441.40" x2="442.95" y2="444.15" stroke="#5aa5d5" stroke-width="1.7" />
<line x1="442.95" y1="444.15" x2="438.60" y2="446.90" stroke="#d42a2a" stroke-width="1.7" />
<line x1="385.40" y1="455.10" x2="389.75" y2="457.85" stroke="#5aa5d5" stroke-width="1.7" />
<line x1="389.75" y1="457.85" x2="394.10" y2="460.60" stroke="#d42a2a" stroke-width="1.7" />
<line x1="385.40" y1="455.10" x2="381.05" y2="457.85" stroke="#5aa5d5" stroke-width="1.7" />
<line x1="381.05" y1="457.85" x2="376.70" y2="460.60" stroke="#d42a2a" stroke-width="1.7" />
<line x1="385.40" y1="455.10" x2="385.40" y2="451.00" stroke="#5aa5d5" stroke-width="1.7" />
<line x1="385.40" y1="451.00" x2="385.40" y2="446.90" stroke="#d42a2a" stroke-width="1.7" />
<line x1="385.40" y1="455.10" x2="389.75" y2="452.35" stroke="#5aa5d5" stroke-width="1.7" />
<line x1="389.75" y1="452.35" x2="394.10" y2="449.60" stroke="#d42a2a" stroke-width="1.7" />
<line x1="385.40" y1="455.10" x2="381.05" y2="452.35" stroke="#5aa5d5" stroke-width="1.7" />
<line x1="381.05" y1="452.35" x2="376.70" y2="449.60" stroke="#d42a2a" stroke-width="1.7" />
<line x1="403.05" y1="455.10" x2="407.40" y2="457.85" stroke="#5aa5d5" stroke-width="1.7" />
<line x1="407.40" y1="457.85" x2="411.75" y2="460.60" stroke="#d42a2a" stroke-width="1.7" />
<line x1="403.05" y1="455.10" x2="398.70" y2="457.85" stroke="#5aa5d5" stroke-width="1.7" />
<line x1="398.70" y1="457.85" x2="394.35" y2="460.60" stroke="#d42a2a" stroke-width="1.7" />
<line x1="403.05" y1="455.10" x2="403.05" y2="451.00" stroke="#5aa5d5" stroke-width="1.7" />
<line x1="403.05" y1="451.00" x2="403.05" y2="446.90" stroke="#d42a2a" stroke-width="1.7" />
<line x1="403.05" y1="455.10" x2="407.40" y2="452.35" stroke="#5aa5d5" stroke-width="1.7" />
<line x1="407.40" y1="452.35" x2="411.75" y2="449.60" stroke="#d42a2a" stroke-width="1.7" />
<line x1="403.05" y1="455.10" x2="398.70" y2="452.35" stroke="#5aa5d5" stroke-width="1.7" />
<line x1="398.70" y1="452.35" x2="394.35" y2="449.60" stroke="#d42a2a" stroke-width="1.7" />
<line x1="420.70" y1="455.10" x2="425.05" y2="457.85" stroke="#5aa5d5" stroke-width="1.7" />
<line x1="425.05" y1="457.85" x2="429.40" y2="460.60" stroke="#d42a2a" stroke-width="1.7" />
<line x1="420.70" y1="455.10" x2="416.35" y2="457.85" stroke="#5aa5d5" stroke-width="1.7" />
<line x1="416.35" y1="457.85" x2="412.00" y2="460.60" stroke="#d42a2a" stroke-width="1.7" />
<line x1="420.70" y1="455.10" x2="420.70" y2="451.00" stroke="#5aa5d5" stroke-width="1.7" />
<line x1="420.70" y1="451.00" x2="420.70" y2="446.90" stroke="#d42a2a" stroke-width="1.7" />
<line x1="420.70" y1="455.10" x2="425.05" y2="452.35" stroke="#5aa5d5" stroke-width="1.7" />
<line x1="425.05" y1="452.35" x2="429.40" y2="449.60" stroke="#d42a2a" stroke-width="1.7" />
<line x1="420.70" y1="455.10" x2="416.35" y2="452.35" stroke="#5aa5d5" stroke-width="1.7" />
<line x1="416.35" y1="452.35" x2="412.00" y2="449.60" stroke="#d42a2a" stroke-width="1.7" />
<line x1="438.35" y1="455.10" x2="442.70" y2="457.85" stroke="#5aa5d5" stroke-width="1.7" />
<line x1="442.70" y1="457.85" x2="447.05" y2="460.60" stroke="#d42a2a" stroke-width="1.7" />
<line x1="438.35" y1="455.10" x2="434.00" y2="457.85" stroke="#5aa5d5" stroke-width="1.7" />
<line x1="434.00" y1="457.85" x2="429.65" y2="460.60" stroke="#d42a2a" stroke-width="1.7" />
<line x1="438.35" y1="455.10" x2="438.35" y2="451.00" stroke="#5aa5d5" stroke-width="1.7" />
<line x1="438.35" y1="451.00" x2="438.35" y2="446.90" stroke="#d42a2a" stroke-width="1.7" />
<line x1="438.35" y1="455.10" x2="442.70" y2="452.35" stroke="#5aa5d5" stroke-width="1.7" />
<line x1="442.70" y1="452.35" x2="447.05" y2="449.60" stroke="#d42a2a" stroke-width="1.7" />
<line x1="438.35" y1="455.10" x2="434.00" y2="452.35" stroke="#5aa5d5" stroke-width="1.7" />
<line x1="434.00" y1="452.35" x2="429.65" y2="449.60" stroke="#d42a2a" stroke-width="1.7" />
<line x1="376.70" y1="471.00" x2="376.70" y2="475.10" stroke="#5aa5d5" stroke-width="1.7" />
<line x1="376.70" y1="475.10" x2="376.70" y2="479.20" stroke="#d42a2a" stroke-width="1.7" />
<line x1="376.70" y1="471.00" x2="381.05" y2="473.75" stroke="#5aa5d5" stroke-width="1.7" />
<line x1="381.05" y1="473.75" x2="385.40" y2="476.50" stroke="#d42a2a" stroke-width="1.7" />
<line x1="376.70" y1="471.00" x2="372.35" y2="473.75" stroke="#5aa5d5" stroke-width="1.7" />
<line x1="372.35" y1="473.75" x2="368.00" y2="476.50" stroke="#d42a2a" stroke-width="1.7" />
<line x1="394.35" y1="471.00" x2="394.35" y2="475.10" stroke="#5aa5d5" stroke-width="1.7" />
<line x1="394.35" y1="475.10" x2="394.35" y2="479.20" stroke="#d42a2a" stroke-width="1.7" />
<line x1="394.35" y1="471.00" x2="398.70" y2="473.75" stroke="#5aa5d5" stroke-width="1.7" />
<line x1="398.70" y1="473.75" x2="403.05" y2="476.50" stroke="#d42a2a" stroke-width="1.7" />
<line x1="394.35" y1="471.00" x2="390.00" y2="473.75" stroke="#5aa5d5" stroke-width="1.7" />
<line x1="390.00" y1="473.75" x2="385.65" y2="476.50" stroke="#d42a2a" stroke-width="1.7" />
<line x1="412.00" y1="471.00" x2="412.00" y2="475.10" stroke="#5aa5d5" stroke-width="1.7" />
<line x1="412.00" y1="475.10" x2="412.00" y2="479.20" stroke="#d42a2a" stroke-width="1.7" />
<line x1="412.00" y1="471.00" x2="416.35" y2="473.75" stroke="#5aa5d5" stroke-width="1.7" />
<line x1="416.35" y1="473.75" x2="420.70" y2="476.50" stroke="#d42a2a" stroke-width="1.7" />
<line x1="412.00" y1="471.00" x2="407.65" y2="473.75" stroke="#5aa5d5" stroke-width="1.7" />
<line x1="407.65" y1="473.75" x2="403.30" y2="476.50" stroke="#d42a2a" stroke-width="1.7" />
<line x1="429.65" y1="471.00" x2="429.65" y2="475.10" stroke="#5aa5d5" stroke-width="1.7" />
<line x1="429.65" y1="475.10" x2="429.65" y2="479.20" stroke="#d42a2a" stroke-width="1.7" />
<line x1="429.65" y1="471.00" x2="434.00" y2="473.75" stroke="#5aa5d5" stroke-width="1.7" />
<line x1="434.00" y1="473.75" x2="438.35" y2="476.50" stroke="#d42a2a" stroke-width="1.7" />
<line x1="429.65" y1="471.00" x2="425.30" y2="473.75" stroke="#5aa5d5" stroke-width="1.7" />
<line x1="425.30" y1="473.75" x2="420.95" y2="476.50" stroke="#d42a2a" stroke-width="1.7" />
<line x1="447.30" y1="471.00" x2="447.30" y2="475.10" stroke="#5aa5d5" stroke-width="1.7" />
<line x1="447.30" y1="475.10" x2="447.30" y2="479.20" stroke="#d42a2a" stroke-width="1.7" />
<line x1="447.30" y1="471.00" x2="451.65" y2="473.75" stroke="#5aa5d5" stroke-width="1.7" />
<line x1="451.65" y1="473.75" x2="456.00" y2="476.50" stroke="#d42a2a" stroke-width="1.7" />
<line x1="447.30" y1="471.00" x2="442.95" y2="473.75" stroke="#5aa5d5" stroke-width="1.7" />
<line x1="442.95" y1="473.75" x2="438.60" y2="476.50" stroke="#d42a2a" stroke-width="1.7" />
<line x1="385.40" y1="484.60" x2="385.40" y2="488.70" stroke="#5aa5d5" stroke-width="1.7" />
<line x1="385.40" y1="488.70" x2="385.40" y2="492.80" stroke="#d42a2a" stroke-width="1.7" />
<line x1="385.40" y1="484.60" x2="389.75" y2="487.35" stroke="#5aa5d5" stroke-width="1.7" />
<line x1="389.75" y1="487.35" x2="394.10" y2="490.10" stroke="#d42a2a" stroke-width="1.7" />
<line x1="385.40" y1="484.60" x2="381.05" y2="487.35" stroke="#5aa5d5" stroke-width="1.7" />
<line x1="381.05" y1="487.35" x2="376.70" y2="490.10" stroke="#d42a2a" stroke-width="1.7" />
<line x1="385.40" y1="484.60" x2="385.40" y2="480.50" stroke="#5aa5d5" stroke-width="1.7" />
<line x1="385.40" y1="480.50" x2="385.40" y2="476.40" stroke="#d42a2a" stroke-width="1.7" />
<line x1="385.40" y1="484.60" x2="389.75" y2="481.85" stroke="#5aa5d5" stroke-width="1.7" />
<line x1="389.75" y1="481.85" x2="394.10" y2="479.10" stroke="#d42a2a" stroke-width="1.7" />
<line x1="385.40" y1="484.60" x2="381.05" y2="481.85" stroke="#5aa5d5" stroke-width="1.7" />
<line x1="381.05" y1="481.85" x2="376.70" y2="479.10" stroke="#d42a2a" stroke-width="1.7" />
<line x1="403.05" y1="484.60" x2="403.05" y2="488.70" stroke="#5aa5d5" stroke-width="1.7" />
<line x1="403.05" y1="488.70" x2="403.05" y2="492.80" stroke="#d42a2a" stroke-width="1.7" />
<line x1="403.05" y1="484.60" x2="407.40" y2="487.35" stroke="#5aa5d5" stroke-width="1.7" />
<line x1="407.40" y1="487.35" x2="411.75" y2="490.10" stroke="#d42a2a" stroke-width="1.7" />
<line x1="403.05" y1="484.60" x2="398.70" y2="487.35" stroke="#5aa5d5" stroke-width="1.7" />
<line x1="398.70" y1="487.35" x2="394.35" y2="490.10" stroke="#d42a2a" stroke-width="1.7" />
<line x1="403.05" y1="484.60" x2="403.05" y2="480.50" stroke="#5aa5d5" stroke-width="1.7" />
<line x1="403.05" y1="480.50" x2="403.05" y2="476.40" stroke="#d42a2a" stroke-width="1.7" />
<line x1="403.05" y1="484.60" x2="407.40" y2="481.85" stroke="#5aa5d5" stroke-width="1.7" />
<line x1="407.40" y1="481.85" x2="411.75" y2="479.10" stroke="#d42a2a" stroke-width="1.7" />
<line x1="403.05" y1="484.60" x2="398.70" y2="481.85" stroke="#5aa5d5" stroke-width="1.7" />
<line x1="398.70" y1="481.85" x2="394.35" y2="479.10" stroke="#d42a2a" stroke-width="1.7" />
<line x1="420.70" y1="484.60" x2="420.70" y2="488.70" stroke="#5aa5d5" stroke-width="1.7" />
<line x1="420.70" y1="488.70" x2="420.70" y2="492.80" stroke="#d42a2a" stroke-width="1.7" />
<line x1="420.70" y1="484.60" x2="425.05" y2="487.35" stroke="#5aa5d5" stroke-width="1.7" />
<line x1="425.05" y1="487.35" x2="429.40" y2="490.10" stroke="#d42a2a" stroke-width="1.7" />
<line x1="420.70" y1="484.60" x2="416.35" y2="487.35" stroke="#5aa5d5" stroke-width="1.7" />
<line x1="416.35" y1="487.35" x2="412.00" y2="490.10" stroke="#d42a2a" stroke-width="1.7" />
<line x1="420.70" y1="484.60" x2="420.70" y2="480.50" stroke="#5aa5d5" stroke-width="1.7" />
<line x1="420.70" y1="480.50" x2="420.70" y2="476.40" stroke="#d42a2a" stroke-width="1.7" />
<line x1="420.70" y1="484.60" x2="425.05" y2="481.85" stroke="#5aa5d5" stroke-width="1.7" />
<line x1="425.05" y1="481.85" x2="429.40" y2="479.10" stroke="#d42a2a" stroke-width="1.7" />
<line x1="420.70" y1="484.60" x2="416.35" y2="481.85" stroke="#5aa5d5" stroke-width="1.7" />
<line x1="416.35" y1="481.85" x2="412.00" y2="479.10" stroke="#d42a2a" stroke-width="1.7" />
<line x1="438.35" y1="484.60" x2="438.35" y2="488.70" stroke="#5aa5d5" stroke-width="1.7" />
<line x1="438.35" y1="488.70" x2="438.35" y2="492.80" stroke="#d42a2a" stroke-width="1.7" />
<line x1="438.35" y1="484.60" x2="442.70" y2="487.35" stroke="#5aa5d5" stroke-width="1.7" />
<line x1="442.70" y1="487.35" x2="447.05" y2="490.10" stroke="#d42a2a" stroke-width="1.7" />
<line x1="438.35" y1="484.60" x2="434.00" y2="487.35" stroke="#5aa5d5" stroke-width="1.7" />
<line x1="434.00" y1="487.35" x2="429.65" y2="490.10" stroke="#d42a2a" stroke-width="1.7" />
<line x1="438.35" y1="484.60" x2="438.35" y2="480.50" stroke="#5aa5d5" stroke-width="1.7" />
<line x1="438.35" y1="480.50" x2="438.35" y2="476.40" stroke="#d42a2a" stroke-width="1.7" />
<line x1="438.35" y1="484.60" x2="442.70" y2="481.85" stroke="#5aa5d5" stroke-width="1.7" />
<line x1="442.70" y1="481.85" x2="447.05" y2="479.10" stroke="#d42a2a" stroke-width="1.7" />
<line x1="438.35" y1="484.60" x2="434.00" y2="481.85" stroke="#5aa5d5" stroke-width="1.7" />
<line x1="434.00" y1="481.85" x2="429.65" y2="479.10" stroke="#d42a2a" stroke-width="1.7" />
<line x1="376.70" y1="462.80" x2="376.70" y2="467.00" stroke="#2bb052" stroke-width="1.3" />
<line x1="394.35" y1="462.80" x2="394.35" y2="467.00" stroke="#2bb052" stroke-width="1.3" />
<line x1="412.00" y1="462.80" x2="412.00" y2="467.00" stroke="#2bb052" stroke-width="1.3" />
<line x1="429.65" y1="462.80" x2="429.65" y2="467.00" stroke="#2bb052" stroke-width="1.3" />
<line x1="447.30" y1="462.80" x2="447.30" y2="467.00" stroke="#2bb052" stroke-width="1.3" />
<line x1="385.40" y1="467.50" x2="385.40" y2="472.00" stroke="#2bb052" stroke-width="1.3" />
<line x1="403.05" y1="467.50" x2="403.05" y2="472.00" stroke="#2bb052" stroke-width="1.3" />
<line x1="420.70" y1="467.50" x2="420.70" y2="472.00" stroke="#2bb052" stroke-width="1.3" />
<line x1="438.35" y1="467.50" x2="438.35" y2="472.00" stroke="#2bb052" stroke-width="1.3" />
<circle cx="376.7" cy="449.6" r="2.2" fill="url(#gO)"/>
<circle cx="385.4" cy="446.9" r="2.2" fill="url(#gO)"/>
<circle cx="368.0" cy="446.9" r="2.2" fill="url(#gO)"/>
<circle cx="394.3" cy="449.6" r="2.2" fill="url(#gO)"/>
<circle cx="403.0" cy="446.9" r="2.2" fill="url(#gO)"/>
<circle cx="385.6" cy="446.9" r="2.2" fill="url(#gO)"/>
<circle cx="412.0" cy="449.6" r="2.2" fill="url(#gO)"/>
<circle cx="420.7" cy="446.9" r="2.2" fill="url(#gO)"/>
<circle cx="429.6" cy="449.6" r="2.2" fill="url(#gO)"/>
<circle cx="438.3" cy="446.9" r="2.2" fill="url(#gO)"/>
<circle cx="447.0" cy="449.6" r="2.2" fill="url(#gO)"/>
<circle cx="456.0" cy="446.9" r="2.2" fill="url(#gO)"/>
<circle cx="438.6" cy="446.9" r="2.2" fill="url(#gO)"/>
<circle cx="394.3" cy="460.6" r="2.2" fill="url(#gO)"/>
<circle cx="376.7" cy="460.6" r="2.2" fill="url(#gO)"/>
<circle cx="412.0" cy="460.6" r="2.2" fill="url(#gO)"/>
<circle cx="429.4" cy="460.6" r="2.2" fill="url(#gO)"/>
<circle cx="429.4" cy="449.6" r="2.2" fill="url(#gO)"/>
<circle cx="447.0" cy="460.6" r="2.2" fill="url(#gO)"/>
<circle cx="429.6" cy="460.6" r="2.2" fill="url(#gO)"/>
<circle cx="376.7" cy="479.1" r="2.2" fill="url(#gO)"/>
<circle cx="385.4" cy="476.4" r="2.2" fill="url(#gO)"/>
<circle cx="368.0" cy="476.5" r="2.2" fill="url(#gO)"/>
<circle cx="394.3" cy="479.1" r="2.2" fill="url(#gO)"/>
<circle cx="403.0" cy="476.4" r="2.2" fill="url(#gO)"/>
<circle cx="385.6" cy="476.5" r="2.2" fill="url(#gO)"/>
<circle cx="412.0" cy="479.1" r="2.2" fill="url(#gO)"/>
<circle cx="420.7" cy="476.4" r="2.2" fill="url(#gO)"/>
<circle cx="429.6" cy="479.1" r="2.2" fill="url(#gO)"/>
<circle cx="438.3" cy="476.4" r="2.2" fill="url(#gO)"/>
<circle cx="447.0" cy="479.1" r="2.2" fill="url(#gO)"/>
<circle cx="456.0" cy="476.5" r="2.2" fill="url(#gO)"/>
<circle cx="438.6" cy="476.5" r="2.2" fill="url(#gO)"/>
<circle cx="385.4" cy="492.8" r="2.2" fill="url(#gO)"/>
<circle cx="394.3" cy="490.1" r="2.2" fill="url(#gO)"/>
<circle cx="376.7" cy="490.1" r="2.2" fill="url(#gO)"/>
<circle cx="403.0" cy="492.8" r="2.2" fill="url(#gO)"/>
<circle cx="412.0" cy="490.1" r="2.2" fill="url(#gO)"/>
<circle cx="420.7" cy="492.8" r="2.2" fill="url(#gO)"/>
<circle cx="429.4" cy="490.1" r="2.2" fill="url(#gO)"/>
<circle cx="429.4" cy="479.1" r="2.2" fill="url(#gO)"/>
<circle cx="438.3" cy="492.8" r="2.2" fill="url(#gO)"/>
<circle cx="447.0" cy="490.1" r="2.2" fill="url(#gO)"/>
<circle cx="429.6" cy="490.1" r="2.2" fill="url(#gO)"/>
<circle cx="385.4" cy="463.3" r="1.4" fill="#fff" stroke="#9a9a9a" stroke-width="0.7"/>
<circle cx="403.0" cy="463.3" r="1.4" fill="#fff" stroke="#9a9a9a" stroke-width="0.7"/>
<circle cx="420.7" cy="463.3" r="1.4" fill="#fff" stroke="#9a9a9a" stroke-width="0.7"/>
<circle cx="438.3" cy="463.3" r="1.4" fill="#fff" stroke="#9a9a9a" stroke-width="0.7"/>
<circle cx="376.7" cy="441.4" r="3.4" fill="url(#gTi)"/>
<circle cx="394.3" cy="441.4" r="3.4" fill="url(#gTi)"/>
<circle cx="412.0" cy="441.4" r="3.4" fill="url(#gTi)"/>
<circle cx="429.6" cy="441.4" r="3.4" fill="url(#gTi)"/>
<circle cx="447.3" cy="441.4" r="3.4" fill="url(#gTi)"/>
<circle cx="385.4" cy="455.1" r="3.4" fill="url(#gTi)"/>
<circle cx="403.0" cy="455.1" r="3.4" fill="url(#gTi)"/>
<circle cx="420.7" cy="455.1" r="3.4" fill="url(#gTi)"/>
<circle cx="438.3" cy="455.1" r="3.4" fill="url(#gTi)"/>
<circle cx="376.7" cy="471.0" r="3.4" fill="url(#gTi)"/>
<circle cx="394.3" cy="471.0" r="3.4" fill="url(#gTi)"/>
<circle cx="412.0" cy="471.0" r="3.4" fill="url(#gTi)"/>
<circle cx="429.6" cy="471.0" r="3.4" fill="url(#gTi)"/>
<circle cx="447.3" cy="471.0" r="3.4" fill="url(#gTi)"/>
<circle cx="385.4" cy="484.6" r="3.4" fill="url(#gTi)"/>
<circle cx="403.0" cy="484.6" r="3.4" fill="url(#gTi)"/>
<circle cx="420.7" cy="484.6" r="3.4" fill="url(#gTi)"/>
<circle cx="438.3" cy="484.6" r="3.4" fill="url(#gTi)"/>
<line x1="369.6" y1="466.6" x2="457" y2="466.6" stroke="#111" stroke-width="1.3" stroke-dasharray="3.2 2.4"/>
<line x1="482.60" y1="461.80" x2="482.60" y2="465.90" stroke="#5aa5d5" stroke-width="1.7" />
<line x1="482.60" y1="465.90" x2="482.60" y2="470.00" stroke="#d42a2a" stroke-width="1.7" />
<line x1="482.60" y1="461.80" x2="486.95" y2="464.55" stroke="#5aa5d5" stroke-width="1.7" />
<line x1="486.95" y1="464.55" x2="491.30" y2="467.30" stroke="#d42a2a" stroke-width="1.7" />
<line x1="482.60" y1="461.80" x2="478.25" y2="464.55" stroke="#5aa5d5" stroke-width="1.7" />
<line x1="478.25" y1="464.55" x2="473.90" y2="467.30" stroke="#d42a2a" stroke-width="1.7" />
<line x1="482.60" y1="461.80" x2="486.95" y2="459.05" stroke="#5aa5d5" stroke-width="1.7" />
<line x1="486.95" y1="459.05" x2="491.30" y2="456.30" stroke="#d42a2a" stroke-width="1.7" />
<line x1="482.60" y1="461.80" x2="478.25" y2="459.05" stroke="#5aa5d5" stroke-width="1.7" />
<line x1="478.25" y1="459.05" x2="473.90" y2="456.30" stroke="#d42a2a" stroke-width="1.7" />
<line x1="500.70" y1="461.80" x2="500.70" y2="465.90" stroke="#5aa5d5" stroke-width="1.7" />
<line x1="500.70" y1="465.90" x2="500.70" y2="470.00" stroke="#d42a2a" stroke-width="1.7" />
<line x1="500.70" y1="461.80" x2="505.05" y2="464.55" stroke="#5aa5d5" stroke-width="1.7" />
<line x1="505.05" y1="464.55" x2="509.40" y2="467.30" stroke="#d42a2a" stroke-width="1.7" />
<line x1="500.70" y1="461.80" x2="496.35" y2="464.55" stroke="#5aa5d5" stroke-width="1.7" />
<line x1="496.35" y1="464.55" x2="492.00" y2="467.30" stroke="#d42a2a" stroke-width="1.7" />
<line x1="500.70" y1="461.80" x2="505.05" y2="459.05" stroke="#5aa5d5" stroke-width="1.7" />
<line x1="505.05" y1="459.05" x2="509.40" y2="456.30" stroke="#d42a2a" stroke-width="1.7" />
<line x1="500.70" y1="461.80" x2="496.35" y2="459.05" stroke="#5aa5d5" stroke-width="1.7" />
<line x1="496.35" y1="459.05" x2="492.00" y2="456.30" stroke="#d42a2a" stroke-width="1.7" />
<line x1="518.80" y1="461.80" x2="518.80" y2="465.90" stroke="#5aa5d5" stroke-width="1.7" />
<line x1="518.80" y1="465.90" x2="518.80" y2="470.00" stroke="#d42a2a" stroke-width="1.7" />
<line x1="518.80" y1="461.80" x2="523.15" y2="464.55" stroke="#5aa5d5" stroke-width="1.7" />
<line x1="523.15" y1="464.55" x2="527.50" y2="467.30" stroke="#d42a2a" stroke-width="1.7" />
<line x1="518.80" y1="461.80" x2="514.45" y2="464.55" stroke="#5aa5d5" stroke-width="1.7" />
<line x1="514.45" y1="464.55" x2="510.10" y2="467.30" stroke="#d42a2a" stroke-width="1.7" />
<line x1="518.80" y1="461.80" x2="523.15" y2="459.05" stroke="#5aa5d5" stroke-width="1.7" />
<line x1="523.15" y1="459.05" x2="527.50" y2="456.30" stroke="#d42a2a" stroke-width="1.7" />
<line x1="518.80" y1="461.80" x2="514.45" y2="459.05" stroke="#5aa5d5" stroke-width="1.7" />
<line x1="514.45" y1="459.05" x2="510.10" y2="456.30" stroke="#d42a2a" stroke-width="1.7" />
<line x1="536.90" y1="461.80" x2="536.90" y2="465.90" stroke="#5aa5d5" stroke-width="1.7" />
<line x1="536.90" y1="465.90" x2="536.90" y2="470.00" stroke="#d42a2a" stroke-width="1.7" />
<line x1="536.90" y1="461.80" x2="541.25" y2="464.55" stroke="#5aa5d5" stroke-width="1.7" />
<line x1="541.25" y1="464.55" x2="545.60" y2="467.30" stroke="#d42a2a" stroke-width="1.7" />
<line x1="536.90" y1="461.80" x2="532.55" y2="464.55" stroke="#5aa5d5" stroke-width="1.7" />
<line x1="532.55" y1="464.55" x2="528.20" y2="467.30" stroke="#d42a2a" stroke-width="1.7" />
<line x1="536.90" y1="461.80" x2="541.25" y2="459.05" stroke="#5aa5d5" stroke-width="1.7" />
<line x1="541.25" y1="459.05" x2="545.60" y2="456.30" stroke="#d42a2a" stroke-width="1.7" />
<line x1="536.90" y1="461.80" x2="532.55" y2="459.05" stroke="#5aa5d5" stroke-width="1.7" />
<line x1="532.55" y1="459.05" x2="528.20" y2="456.30" stroke="#d42a2a" stroke-width="1.7" />
<line x1="473.40" y1="476.00" x2="473.40" y2="480.10" stroke="#5aa5d5" stroke-width="1.7" />
<line x1="473.40" y1="480.10" x2="473.40" y2="484.20" stroke="#d42a2a" stroke-width="1.7" />
<line x1="473.40" y1="476.00" x2="477.75" y2="478.75" stroke="#5aa5d5" stroke-width="1.7" />
<line x1="477.75" y1="478.75" x2="482.10" y2="481.50" stroke="#d42a2a" stroke-width="1.7" />
<line x1="473.40" y1="476.00" x2="469.05" y2="478.75" stroke="#5aa5d5" stroke-width="1.7" />
<line x1="469.05" y1="478.75" x2="464.70" y2="481.50" stroke="#d42a2a" stroke-width="1.7" />
<line x1="473.40" y1="476.00" x2="473.40" y2="471.90" stroke="#5aa5d5" stroke-width="1.7" />
<line x1="473.40" y1="471.90" x2="473.40" y2="467.80" stroke="#d42a2a" stroke-width="1.7" />
<line x1="473.40" y1="476.00" x2="477.75" y2="473.25" stroke="#5aa5d5" stroke-width="1.7" />
<line x1="477.75" y1="473.25" x2="482.10" y2="470.50" stroke="#d42a2a" stroke-width="1.7" />
<line x1="473.40" y1="476.00" x2="469.05" y2="473.25" stroke="#5aa5d5" stroke-width="1.7" />
<line x1="469.05" y1="473.25" x2="464.70" y2="470.50" stroke="#d42a2a" stroke-width="1.7" />
<line x1="491.50" y1="476.00" x2="491.50" y2="480.10" stroke="#5aa5d5" stroke-width="1.7" />
<line x1="491.50" y1="480.10" x2="491.50" y2="484.20" stroke="#d42a2a" stroke-width="1.7" />
<line x1="491.50" y1="476.00" x2="495.85" y2="478.75" stroke="#5aa5d5" stroke-width="1.7" />
<line x1="495.85" y1="478.75" x2="500.20" y2="481.50" stroke="#d42a2a" stroke-width="1.7" />
<line x1="491.50" y1="476.00" x2="487.15" y2="478.75" stroke="#5aa5d5" stroke-width="1.7" />
<line x1="487.15" y1="478.75" x2="482.80" y2="481.50" stroke="#d42a2a" stroke-width="1.7" />
<line x1="491.50" y1="476.00" x2="491.50" y2="471.90" stroke="#5aa5d5" stroke-width="1.7" />
<line x1="491.50" y1="471.90" x2="491.50" y2="467.80" stroke="#d42a2a" stroke-width="1.7" />
<line x1="491.50" y1="476.00" x2="495.85" y2="473.25" stroke="#5aa5d5" stroke-width="1.7" />
<line x1="495.85" y1="473.25" x2="500.20" y2="470.50" stroke="#d42a2a" stroke-width="1.7" />
<line x1="491.50" y1="476.00" x2="487.15" y2="473.25" stroke="#5aa5d5" stroke-width="1.7" />
<line x1="487.15" y1="473.25" x2="482.80" y2="470.50" stroke="#d42a2a" stroke-width="1.7" />
<line x1="509.60" y1="476.00" x2="509.60" y2="480.10" stroke="#5aa5d5" stroke-width="1.7" />
<line x1="509.60" y1="480.10" x2="509.60" y2="484.20" stroke="#d42a2a" stroke-width="1.7" />
<line x1="509.60" y1="476.00" x2="513.95" y2="478.75" stroke="#5aa5d5" stroke-width="1.7" />
<line x1="513.95" y1="478.75" x2="518.30" y2="481.50" stroke="#d42a2a" stroke-width="1.7" />
<line x1="509.60" y1="476.00" x2="505.25" y2="478.75" stroke="#5aa5d5" stroke-width="1.7" />
<line x1="505.25" y1="478.75" x2="500.90" y2="481.50" stroke="#d42a2a" stroke-width="1.7" />
<line x1="509.60" y1="476.00" x2="509.60" y2="471.90" stroke="#5aa5d5" stroke-width="1.7" />
<line x1="509.60" y1="471.90" x2="509.60" y2="467.80" stroke="#d42a2a" stroke-width="1.7" />
<line x1="509.60" y1="476.00" x2="513.95" y2="473.25" stroke="#5aa5d5" stroke-width="1.7" />
<line x1="513.95" y1="473.25" x2="518.30" y2="470.50" stroke="#d42a2a" stroke-width="1.7" />
<line x1="509.60" y1="476.00" x2="505.25" y2="473.25" stroke="#5aa5d5" stroke-width="1.7" />
<line x1="505.25" y1="473.25" x2="500.90" y2="470.50" stroke="#d42a2a" stroke-width="1.7" />
<line x1="527.70" y1="476.00" x2="527.70" y2="480.10" stroke="#5aa5d5" stroke-width="1.7" />
<line x1="527.70" y1="480.10" x2="527.70" y2="484.20" stroke="#d42a2a" stroke-width="1.7" />
<line x1="527.70" y1="476.00" x2="532.05" y2="478.75" stroke="#5aa5d5" stroke-width="1.7" />
<line x1="532.05" y1="478.75" x2="536.40" y2="481.50" stroke="#d42a2a" stroke-width="1.7" />
<line x1="527.70" y1="476.00" x2="523.35" y2="478.75" stroke="#5aa5d5" stroke-width="1.7" />
<line x1="523.35" y1="478.75" x2="519.00" y2="481.50" stroke="#d42a2a" stroke-width="1.7" />
<line x1="527.70" y1="476.00" x2="527.70" y2="471.90" stroke="#5aa5d5" stroke-width="1.7" />
<line x1="527.70" y1="471.90" x2="527.70" y2="467.80" stroke="#d42a2a" stroke-width="1.7" />
<line x1="527.70" y1="476.00" x2="532.05" y2="473.25" stroke="#5aa5d5" stroke-width="1.7" />
<line x1="532.05" y1="473.25" x2="536.40" y2="470.50" stroke="#d42a2a" stroke-width="1.7" />
<line x1="527.70" y1="476.00" x2="523.35" y2="473.25" stroke="#5aa5d5" stroke-width="1.7" />
<line x1="523.35" y1="473.25" x2="519.00" y2="470.50" stroke="#d42a2a" stroke-width="1.7" />
<line x1="545.80" y1="476.00" x2="545.80" y2="480.10" stroke="#5aa5d5" stroke-width="1.7" />
<line x1="545.80" y1="480.10" x2="545.80" y2="484.20" stroke="#d42a2a" stroke-width="1.7" />
<line x1="545.80" y1="476.00" x2="550.15" y2="478.75" stroke="#5aa5d5" stroke-width="1.7" />
<line x1="550.15" y1="478.75" x2="554.50" y2="481.50" stroke="#d42a2a" stroke-width="1.7" />
<line x1="545.80" y1="476.00" x2="541.45" y2="478.75" stroke="#5aa5d5" stroke-width="1.7" />
<line x1="541.45" y1="478.75" x2="537.10" y2="481.50" stroke="#d42a2a" stroke-width="1.7" />
<line x1="545.80" y1="476.00" x2="545.80" y2="471.90" stroke="#5aa5d5" stroke-width="1.7" />
<line x1="545.80" y1="471.90" x2="545.80" y2="467.80" stroke="#d42a2a" stroke-width="1.7" />
<line x1="545.80" y1="476.00" x2="550.15" y2="473.25" stroke="#5aa5d5" stroke-width="1.7" />
<line x1="550.15" y1="473.25" x2="554.50" y2="470.50" stroke="#d42a2a" stroke-width="1.7" />
<line x1="545.80" y1="476.00" x2="541.45" y2="473.25" stroke="#5aa5d5" stroke-width="1.7" />
<line x1="541.45" y1="473.25" x2="537.10" y2="470.50" stroke="#d42a2a" stroke-width="1.7" />
<line x1="482.60" y1="490.40" x2="482.60" y2="494.50" stroke="#5aa5d5" stroke-width="1.7" />
<line x1="482.60" y1="494.50" x2="482.60" y2="498.60" stroke="#d42a2a" stroke-width="1.7" />
<line x1="482.60" y1="490.40" x2="486.95" y2="493.15" stroke="#5aa5d5" stroke-width="1.7" />
<line x1="486.95" y1="493.15" x2="491.30" y2="495.90" stroke="#d42a2a" stroke-width="1.7" />
<line x1="482.60" y1="490.40" x2="478.25" y2="493.15" stroke="#5aa5d5" stroke-width="1.7" />
<line x1="478.25" y1="493.15" x2="473.90" y2="495.90" stroke="#d42a2a" stroke-width="1.7" />
<line x1="482.60" y1="490.40" x2="482.60" y2="486.30" stroke="#5aa5d5" stroke-width="1.7" />
<line x1="482.60" y1="486.30" x2="482.60" y2="482.20" stroke="#d42a2a" stroke-width="1.7" />
<line x1="482.60" y1="490.40" x2="486.95" y2="487.65" stroke="#5aa5d5" stroke-width="1.7" />
<line x1="486.95" y1="487.65" x2="491.30" y2="484.90" stroke="#d42a2a" stroke-width="1.7" />
<line x1="482.60" y1="490.40" x2="478.25" y2="487.65" stroke="#5aa5d5" stroke-width="1.7" />
<line x1="478.25" y1="487.65" x2="473.90" y2="484.90" stroke="#d42a2a" stroke-width="1.7" />
<line x1="500.70" y1="490.40" x2="500.70" y2="494.50" stroke="#5aa5d5" stroke-width="1.7" />
<line x1="500.70" y1="494.50" x2="500.70" y2="498.60" stroke="#d42a2a" stroke-width="1.7" />
<line x1="500.70" y1="490.40" x2="505.05" y2="493.15" stroke="#5aa5d5" stroke-width="1.7" />
<line x1="505.05" y1="493.15" x2="509.40" y2="495.90" stroke="#d42a2a" stroke-width="1.7" />
<line x1="500.70" y1="490.40" x2="496.35" y2="493.15" stroke="#5aa5d5" stroke-width="1.7" />
<line x1="496.35" y1="493.15" x2="492.00" y2="495.90" stroke="#d42a2a" stroke-width="1.7" />
<line x1="500.70" y1="490.40" x2="500.70" y2="486.30" stroke="#5aa5d5" stroke-width="1.7" />
<line x1="500.70" y1="486.30" x2="500.70" y2="482.20" stroke="#d42a2a" stroke-width="1.7" />
<line x1="500.70" y1="490.40" x2="505.05" y2="487.65" stroke="#5aa5d5" stroke-width="1.7" />
<line x1="505.05" y1="487.65" x2="509.40" y2="484.90" stroke="#d42a2a" stroke-width="1.7" />
<line x1="500.70" y1="490.40" x2="496.35" y2="487.65" stroke="#5aa5d5" stroke-width="1.7" />
<line x1="496.35" y1="487.65" x2="492.00" y2="484.90" stroke="#d42a2a" stroke-width="1.7" />
<line x1="518.80" y1="490.40" x2="518.80" y2="494.50" stroke="#5aa5d5" stroke-width="1.7" />
<line x1="518.80" y1="494.50" x2="518.80" y2="498.60" stroke="#d42a2a" stroke-width="1.7" />
<line x1="518.80" y1="490.40" x2="523.15" y2="493.15" stroke="#5aa5d5" stroke-width="1.7" />
<line x1="523.15" y1="493.15" x2="527.50" y2="495.90" stroke="#d42a2a" stroke-width="1.7" />
<line x1="518.80" y1="490.40" x2="514.45" y2="493.15" stroke="#5aa5d5" stroke-width="1.7" />
<line x1="514.45" y1="493.15" x2="510.10" y2="495.90" stroke="#d42a2a" stroke-width="1.7" />
<line x1="518.80" y1="490.40" x2="518.80" y2="486.30" stroke="#5aa5d5" stroke-width="1.7" />
<line x1="518.80" y1="486.30" x2="518.80" y2="482.20" stroke="#d42a2a" stroke-width="1.7" />
<line x1="518.80" y1="490.40" x2="523.15" y2="487.65" stroke="#5aa5d5" stroke-width="1.7" />
<line x1="523.15" y1="487.65" x2="527.50" y2="484.90" stroke="#d42a2a" stroke-width="1.7" />
<line x1="518.80" y1="490.40" x2="514.45" y2="487.65" stroke="#5aa5d5" stroke-width="1.7" />
<line x1="514.45" y1="487.65" x2="510.10" y2="484.90" stroke="#d42a2a" stroke-width="1.7" />
<line x1="536.90" y1="490.40" x2="536.90" y2="494.50" stroke="#5aa5d5" stroke-width="1.7" />
<line x1="536.90" y1="494.50" x2="536.90" y2="498.60" stroke="#d42a2a" stroke-width="1.7" />
<line x1="536.90" y1="490.40" x2="541.25" y2="493.15" stroke="#5aa5d5" stroke-width="1.7" />
<line x1="541.25" y1="493.15" x2="545.60" y2="495.90" stroke="#d42a2a" stroke-width="1.7" />
<line x1="536.90" y1="490.40" x2="532.55" y2="493.15" stroke="#5aa5d5" stroke-width="1.7" />
<line x1="532.55" y1="493.15" x2="528.20" y2="495.90" stroke="#d42a2a" stroke-width="1.7" />
<line x1="536.90" y1="490.40" x2="536.90" y2="486.30" stroke="#5aa5d5" stroke-width="1.7" />
<line x1="536.90" y1="486.30" x2="536.90" y2="482.20" stroke="#d42a2a" stroke-width="1.7" />
<line x1="536.90" y1="490.40" x2="541.25" y2="487.65" stroke="#5aa5d5" stroke-width="1.7" />
<line x1="541.25" y1="487.65" x2="545.60" y2="484.90" stroke="#d42a2a" stroke-width="1.7" />
<line x1="536.90" y1="490.40" x2="532.55" y2="487.65" stroke="#5aa5d5" stroke-width="1.7" />
<line x1="532.55" y1="487.65" x2="528.20" y2="484.90" stroke="#d42a2a" stroke-width="1.7" />
<line x1="473.40" y1="504.40" x2="473.40" y2="500.30" stroke="#5aa5d5" stroke-width="1.7" />
<line x1="473.40" y1="500.30" x2="473.40" y2="496.20" stroke="#d42a2a" stroke-width="1.7" />
<line x1="473.40" y1="504.40" x2="477.75" y2="501.65" stroke="#5aa5d5" stroke-width="1.7" />
<line x1="477.75" y1="501.65" x2="482.10" y2="498.90" stroke="#d42a2a" stroke-width="1.7" />
<line x1="473.40" y1="504.40" x2="469.05" y2="501.65" stroke="#5aa5d5" stroke-width="1.7" />
<line x1="469.05" y1="501.65" x2="464.70" y2="498.90" stroke="#d42a2a" stroke-width="1.7" />
<line x1="491.50" y1="504.40" x2="491.50" y2="500.30" stroke="#5aa5d5" stroke-width="1.7" />
<line x1="491.50" y1="500.30" x2="491.50" y2="496.20" stroke="#d42a2a" stroke-width="1.7" />
<line x1="491.50" y1="504.40" x2="495.85" y2="501.65" stroke="#5aa5d5" stroke-width="1.7" />
<line x1="495.85" y1="501.65" x2="500.20" y2="498.90" stroke="#d42a2a" stroke-width="1.7" />
<line x1="491.50" y1="504.40" x2="487.15" y2="501.65" stroke="#5aa5d5" stroke-width="1.7" />
<line x1="487.15" y1="501.65" x2="482.80" y2="498.90" stroke="#d42a2a" stroke-width="1.7" />
<line x1="509.60" y1="504.40" x2="509.60" y2="500.30" stroke="#5aa5d5" stroke-width="1.7" />
<line x1="509.60" y1="500.30" x2="509.60" y2="496.20" stroke="#d42a2a" stroke-width="1.7" />
<line x1="509.60" y1="504.40" x2="513.95" y2="501.65" stroke="#5aa5d5" stroke-width="1.7" />
<line x1="513.95" y1="501.65" x2="518.30" y2="498.90" stroke="#d42a2a" stroke-width="1.7" />
<line x1="509.60" y1="504.40" x2="505.25" y2="501.65" stroke="#5aa5d5" stroke-width="1.7" />
<line x1="505.25" y1="501.65" x2="500.90" y2="498.90" stroke="#d42a2a" stroke-width="1.7" />
<line x1="527.70" y1="504.40" x2="527.70" y2="500.30" stroke="#5aa5d5" stroke-width="1.7" />
<line x1="527.70" y1="500.30" x2="527.70" y2="496.20" stroke="#d42a2a" stroke-width="1.7" />
<line x1="527.70" y1="504.40" x2="532.05" y2="501.65" stroke="#5aa5d5" stroke-width="1.7" />
<line x1="532.05" y1="501.65" x2="536.40" y2="498.90" stroke="#d42a2a" stroke-width="1.7" />
<line x1="527.70" y1="504.40" x2="523.35" y2="501.65" stroke="#5aa5d5" stroke-width="1.7" />
<line x1="523.35" y1="501.65" x2="519.00" y2="498.90" stroke="#d42a2a" stroke-width="1.7" />
<line x1="545.80" y1="504.40" x2="545.80" y2="500.30" stroke="#5aa5d5" stroke-width="1.7" />
<line x1="545.80" y1="500.30" x2="545.80" y2="496.20" stroke="#d42a2a" stroke-width="1.7" />
<line x1="545.80" y1="504.40" x2="550.15" y2="501.65" stroke="#5aa5d5" stroke-width="1.7" />
<line x1="550.15" y1="501.65" x2="554.50" y2="498.90" stroke="#d42a2a" stroke-width="1.7" />
<line x1="545.80" y1="504.40" x2="541.45" y2="501.65" stroke="#5aa5d5" stroke-width="1.7" />
<line x1="541.45" y1="501.65" x2="537.10" y2="498.90" stroke="#d42a2a" stroke-width="1.7" />
<line x1="473.40" y1="451.30" x2="473.40" y2="455.00" stroke="#2bb052" stroke-width="1.3" />
<line x1="491.50" y1="451.30" x2="491.50" y2="455.00" stroke="#2bb052" stroke-width="1.3" />
<line x1="509.60" y1="451.30" x2="509.60" y2="455.00" stroke="#2bb052" stroke-width="1.3" />
<line x1="527.70" y1="451.30" x2="527.70" y2="455.00" stroke="#2bb052" stroke-width="1.3" />
<line x1="545.80" y1="451.30" x2="545.80" y2="455.00" stroke="#2bb052" stroke-width="1.3" />
<circle cx="482.8" cy="470.5" r="2.2" fill="url(#gO)"/>
<circle cx="491.3" cy="467.3" r="2.2" fill="url(#gO)"/>
<circle cx="473.9" cy="467.3" r="2.2" fill="url(#gO)"/>
<circle cx="491.3" cy="456.3" r="2.2" fill="url(#gO)"/>
<circle cx="473.9" cy="456.3" r="2.2" fill="url(#gO)"/>
<circle cx="500.9" cy="470.5" r="2.2" fill="url(#gO)"/>
<circle cx="509.4" cy="467.3" r="2.2" fill="url(#gO)"/>
<circle cx="492.0" cy="467.3" r="2.2" fill="url(#gO)"/>
<circle cx="509.4" cy="456.3" r="2.2" fill="url(#gO)"/>
<circle cx="492.0" cy="456.3" r="2.2" fill="url(#gO)"/>
<circle cx="519.0" cy="470.5" r="2.2" fill="url(#gO)"/>
<circle cx="528.2" cy="467.3" r="2.2" fill="url(#gO)"/>
<circle cx="510.1" cy="467.3" r="2.2" fill="url(#gO)"/>
<circle cx="528.2" cy="456.3" r="2.2" fill="url(#gO)"/>
<circle cx="510.1" cy="456.3" r="2.2" fill="url(#gO)"/>
<circle cx="537.1" cy="470.5" r="2.2" fill="url(#gO)"/>
<circle cx="545.6" cy="467.3" r="2.2" fill="url(#gO)"/>
<circle cx="545.6" cy="456.3" r="2.2" fill="url(#gO)"/>
<circle cx="473.4" cy="484.2" r="2.2" fill="url(#gO)"/>
<circle cx="482.1" cy="481.5" r="2.2" fill="url(#gO)"/>
<circle cx="464.7" cy="481.5" r="2.2" fill="url(#gO)"/>
<circle cx="473.4" cy="467.8" r="2.2" fill="url(#gO)"/>
<circle cx="482.1" cy="470.5" r="2.2" fill="url(#gO)"/>
<circle cx="464.7" cy="470.5" r="2.2" fill="url(#gO)"/>
<circle cx="491.5" cy="484.2" r="2.2" fill="url(#gO)"/>
<circle cx="500.2" cy="481.5" r="2.2" fill="url(#gO)"/>
<circle cx="482.6" cy="482.2" r="2.2" fill="url(#gO)"/>
<circle cx="491.5" cy="467.8" r="2.2" fill="url(#gO)"/>
<circle cx="500.2" cy="470.5" r="2.2" fill="url(#gO)"/>
<circle cx="509.6" cy="484.2" r="2.2" fill="url(#gO)"/>
<circle cx="518.3" cy="481.5" r="2.2" fill="url(#gO)"/>
<circle cx="500.7" cy="482.2" r="2.2" fill="url(#gO)"/>
<circle cx="509.6" cy="467.8" r="2.2" fill="url(#gO)"/>
<circle cx="518.3" cy="470.5" r="2.2" fill="url(#gO)"/>
<circle cx="527.7" cy="484.2" r="2.2" fill="url(#gO)"/>
<circle cx="536.4" cy="481.5" r="2.2" fill="url(#gO)"/>
<circle cx="518.8" cy="482.2" r="2.2" fill="url(#gO)"/>
<circle cx="527.7" cy="467.8" r="2.2" fill="url(#gO)"/>
<circle cx="536.4" cy="470.5" r="2.2" fill="url(#gO)"/>
<circle cx="545.8" cy="484.2" r="2.2" fill="url(#gO)"/>
<circle cx="554.5" cy="481.5" r="2.2" fill="url(#gO)"/>
<circle cx="536.9" cy="482.2" r="2.2" fill="url(#gO)"/>
<circle cx="545.8" cy="467.8" r="2.2" fill="url(#gO)"/>
<circle cx="554.5" cy="470.5" r="2.2" fill="url(#gO)"/>
<circle cx="482.8" cy="498.9" r="2.2" fill="url(#gO)"/>
<circle cx="491.3" cy="495.9" r="2.2" fill="url(#gO)"/>
<circle cx="473.9" cy="495.9" r="2.2" fill="url(#gO)"/>
<circle cx="491.3" cy="484.9" r="2.2" fill="url(#gO)"/>
<circle cx="473.9" cy="484.9" r="2.2" fill="url(#gO)"/>
<circle cx="500.9" cy="498.9" r="2.2" fill="url(#gO)"/>
<circle cx="509.4" cy="495.9" r="2.2" fill="url(#gO)"/>
<circle cx="491.5" cy="496.2" r="2.2" fill="url(#gO)"/>
<circle cx="509.4" cy="484.9" r="2.2" fill="url(#gO)"/>
<circle cx="492.0" cy="484.9" r="2.2" fill="url(#gO)"/>
<circle cx="519.0" cy="498.9" r="2.2" fill="url(#gO)"/>
<circle cx="527.7" cy="496.2" r="2.2" fill="url(#gO)"/>
<circle cx="509.6" cy="496.2" r="2.2" fill="url(#gO)"/>
<circle cx="528.2" cy="484.9" r="2.2" fill="url(#gO)"/>
<circle cx="510.1" cy="484.9" r="2.2" fill="url(#gO)"/>
<circle cx="537.1" cy="498.9" r="2.2" fill="url(#gO)"/>
<circle cx="545.8" cy="496.2" r="2.2" fill="url(#gO)"/>
<circle cx="545.6" cy="484.9" r="2.2" fill="url(#gO)"/>
<circle cx="473.4" cy="496.2" r="2.2" fill="url(#gO)"/>
<circle cx="482.1" cy="498.9" r="2.2" fill="url(#gO)"/>
<circle cx="464.7" cy="498.9" r="2.2" fill="url(#gO)"/>
<circle cx="500.2" cy="498.9" r="2.2" fill="url(#gO)"/>
<circle cx="518.3" cy="498.9" r="2.2" fill="url(#gO)"/>
<circle cx="536.4" cy="498.9" r="2.2" fill="url(#gO)"/>
<circle cx="554.5" cy="498.9" r="2.2" fill="url(#gO)"/>
<circle cx="482.9" cy="453.3" r="1.4" fill="#fff" stroke="#9a9a9a" stroke-width="0.7"/>
<circle cx="501.0" cy="453.3" r="1.4" fill="#fff" stroke="#9a9a9a" stroke-width="0.7"/>
<circle cx="519.1" cy="453.3" r="1.4" fill="#fff" stroke="#9a9a9a" stroke-width="0.7"/>
<circle cx="537.2" cy="453.3" r="1.4" fill="#fff" stroke="#9a9a9a" stroke-width="0.7"/>
<circle cx="482.6" cy="461.8" r="3.4" fill="url(#gTi)"/>
<circle cx="500.7" cy="461.8" r="3.4" fill="url(#gTi)"/>
<circle cx="518.8" cy="461.8" r="3.4" fill="url(#gTi)"/>
<circle cx="536.9" cy="461.8" r="3.4" fill="url(#gTi)"/>
<circle cx="473.4" cy="476.0" r="3.4" fill="url(#gTi)"/>
<circle cx="491.5" cy="476.0" r="3.4" fill="url(#gTi)"/>
<circle cx="509.6" cy="476.0" r="3.4" fill="url(#gTi)"/>
<circle cx="527.7" cy="476.0" r="3.4" fill="url(#gTi)"/>
<circle cx="545.8" cy="476.0" r="3.4" fill="url(#gTi)"/>
<circle cx="482.6" cy="490.4" r="3.4" fill="url(#gTi)"/>
<circle cx="500.7" cy="490.4" r="3.4" fill="url(#gTi)"/>
<circle cx="518.8" cy="490.4" r="3.4" fill="url(#gTi)"/>
<circle cx="536.9" cy="490.4" r="3.4" fill="url(#gTi)"/>
<circle cx="473.4" cy="504.4" r="3.4" fill="url(#gTi)"/>
<circle cx="491.5" cy="504.4" r="3.4" fill="url(#gTi)"/>
<circle cx="509.6" cy="504.4" r="3.4" fill="url(#gTi)"/>
<circle cx="527.7" cy="504.4" r="3.4" fill="url(#gTi)"/>
<circle cx="545.8" cy="504.4" r="3.4" fill="url(#gTi)"/>
<circle cx="473.5" cy="414.8" r="2.4" fill="#fff" stroke="#878787" stroke-width="1.5"/>
<circle cx="484.1" cy="414.8" r="2.4" fill="#fff" stroke="#878787" stroke-width="1.5"/>
<circle cx="491.7" cy="414.8" r="2.4" fill="#fff" stroke="#878787" stroke-width="1.5"/>
<circle cx="502.1" cy="414.8" r="2.4" fill="#fff" stroke="#878787" stroke-width="1.5"/>
<circle cx="509.7" cy="414.8" r="2.4" fill="#fff" stroke="#878787" stroke-width="1.5"/>
<circle cx="520.3" cy="414.8" r="2.4" fill="#fff" stroke="#878787" stroke-width="1.5"/>
<circle cx="527.9" cy="414.8" r="2.4" fill="#fff" stroke="#878787" stroke-width="1.5"/>
<circle cx="538.6" cy="414.8" r="2.4" fill="#fff" stroke="#878787" stroke-width="1.5"/>
<circle cx="546.2" cy="414.8" r="2.4" fill="#fff" stroke="#878787" stroke-width="1.5"/>
<circle cx="473.5" cy="425.1" r="2.4" fill="#fff" stroke="#878787" stroke-width="1.5"/>
<circle cx="484.1" cy="425.1" r="2.4" fill="#fff" stroke="#878787" stroke-width="1.5"/>
<circle cx="491.7" cy="425.1" r="2.4" fill="#fff" stroke="#878787" stroke-width="1.5"/>
<circle cx="502.1" cy="425.1" r="2.4" fill="#fff" stroke="#878787" stroke-width="1.5"/>
<circle cx="509.7" cy="425.1" r="2.4" fill="#fff" stroke="#878787" stroke-width="1.5"/>
<circle cx="520.3" cy="425.1" r="2.4" fill="#fff" stroke="#878787" stroke-width="1.5"/>
<circle cx="527.9" cy="425.1" r="2.4" fill="#fff" stroke="#878787" stroke-width="1.5"/>
<circle cx="538.6" cy="425.1" r="2.4" fill="#fff" stroke="#878787" stroke-width="1.5"/>
<circle cx="546.2" cy="425.1" r="2.4" fill="#fff" stroke="#878787" stroke-width="1.5"/>
<circle cx="473.5" cy="435.7" r="2.4" fill="#fff" stroke="#878787" stroke-width="1.5"/>
<circle cx="484.1" cy="435.7" r="2.4" fill="#fff" stroke="#878787" stroke-width="1.5"/>
<circle cx="491.7" cy="435.7" r="2.4" fill="#fff" stroke="#878787" stroke-width="1.5"/>
<circle cx="502.1" cy="435.7" r="2.4" fill="#fff" stroke="#878787" stroke-width="1.5"/>
<circle cx="509.7" cy="435.7" r="2.4" fill="#fff" stroke="#878787" stroke-width="1.5"/>
<circle cx="520.3" cy="435.7" r="2.4" fill="#fff" stroke="#878787" stroke-width="1.5"/>
<circle cx="527.9" cy="435.7" r="2.4" fill="#fff" stroke="#878787" stroke-width="1.5"/>
<circle cx="538.6" cy="435.7" r="2.4" fill="#fff" stroke="#878787" stroke-width="1.5"/>
<circle cx="546.2" cy="435.7" r="2.4" fill="#fff" stroke="#878787" stroke-width="1.5"/>
<circle cx="473.5" cy="446.5" r="2.4" fill="#fff" stroke="#878787" stroke-width="1.5"/>
<circle cx="484.1" cy="446.5" r="2.4" fill="#fff" stroke="#878787" stroke-width="1.5"/>
<circle cx="491.7" cy="446.5" r="2.4" fill="#fff" stroke="#878787" stroke-width="1.5"/>
<circle cx="502.1" cy="446.5" r="2.4" fill="#fff" stroke="#878787" stroke-width="1.5"/>
<circle cx="509.7" cy="446.5" r="2.4" fill="#fff" stroke="#878787" stroke-width="1.5"/>
<circle cx="520.3" cy="446.5" r="2.4" fill="#fff" stroke="#878787" stroke-width="1.5"/>
<circle cx="527.9" cy="446.5" r="2.4" fill="#fff" stroke="#878787" stroke-width="1.5"/>
<circle cx="538.6" cy="446.5" r="2.4" fill="#fff" stroke="#878787" stroke-width="1.5"/>
<circle cx="546.2" cy="446.5" r="2.4" fill="#fff" stroke="#878787" stroke-width="1.5"/>
<line x1="468" y1="451.1" x2="553.5" y2="451.1" stroke="#111" stroke-width="1.3" stroke-dasharray="3.2 2.4"/>
<line x1="561.4" y1="411.5" x2="578" y2="411.5" stroke="#111" stroke-width="1.3" stroke-dasharray="3.2 2.4"/>
<text x="580.5" y="414.1" font-size="8.3" text-anchor="start" fill="#222" >interface</text>
<circle cx="571.6" cy="420.0" r="2.9" fill="url(#gO)"/>
<text x="580.5" y="423.0" font-size="8.3" text-anchor="start" fill="#222" >O</text>
<circle cx="571.6" cy="429.7" r="3.1" fill="url(#gTi)"/>
<text x="580.5" y="432.5" font-size="8.3" text-anchor="start" fill="#222" >Ti</text>
<circle cx="571.6" cy="440.1" r="2.5" fill="#fff" stroke="#878787" stroke-width="1.5"/>
<text x="580.5" y="443.3" font-size="8.3" text-anchor="start" fill="#222" >Ni</text>
<circle cx="558.3" cy="451.5" r="1.9" fill="#fff" stroke="#9a9a9a" stroke-width="0.7"/>
<text x="563.0" y="453.6" font-size="8.2" text-anchor="start" fill="#222" >oxygen vacancy</text>
<rect x="54.70" y="606.20" width="165.10" height="132.40" fill="none" stroke="#111" stroke-width="1.0" />
<line x1="54.70" y1="730.90" x2="57.70" y2="730.90" stroke="#111" stroke-width="0.9" />
<text x="52.8" y="733.9" font-size="8.6" text-anchor="end" fill="#222" >0.0</text>
<line x1="54.70" y1="723.11" x2="56.40" y2="723.11" stroke="#111" stroke-width="0.9" />
<line x1="54.70" y1="715.32" x2="57.70" y2="715.32" stroke="#111" stroke-width="0.9" />
<text x="52.8" y="718.3" font-size="8.6" text-anchor="end" fill="#222" >0.1</text>
<line x1="54.70" y1="707.53" x2="56.40" y2="707.53" stroke="#111" stroke-width="0.9" />
<line x1="54.70" y1="699.74" x2="57.70" y2="699.74" stroke="#111" stroke-width="0.9" />
<text x="52.8" y="702.7" font-size="8.6" text-anchor="end" fill="#222" >0.2</text>
<line x1="54.70" y1="691.95" x2="56.40" y2="691.95" stroke="#111" stroke-width="0.9" />
<line x1="54.70" y1="684.16" x2="57.70" y2="684.16" stroke="#111" stroke-width="0.9" />
<text x="52.8" y="687.2" font-size="8.6" text-anchor="end" fill="#222" >0.3</text>
<line x1="54.70" y1="676.37" x2="56.40" y2="676.37" stroke="#111" stroke-width="0.9" />
<line x1="54.70" y1="668.58" x2="57.70" y2="668.58" stroke="#111" stroke-width="0.9" />
<text x="52.8" y="671.6" font-size="8.6" text-anchor="end" fill="#222" >0.4</text>
<line x1="54.70" y1="660.79" x2="56.40" y2="660.79" stroke="#111" stroke-width="0.9" />
<line x1="54.70" y1="653.00" x2="57.70" y2="653.00" stroke="#111" stroke-width="0.9" />
<text x="52.8" y="656.0" font-size="8.6" text-anchor="end" fill="#222" >0.5</text>
<line x1="54.70" y1="645.21" x2="56.40" y2="645.21" stroke="#111" stroke-width="0.9" />
<line x1="54.70" y1="637.42" x2="57.70" y2="637.42" stroke="#111" stroke-width="0.9" />
<text x="52.8" y="640.4" font-size="8.6" text-anchor="end" fill="#222" >0.6</text>
<line x1="54.70" y1="629.63" x2="56.40" y2="629.63" stroke="#111" stroke-width="0.9" />
<line x1="54.70" y1="621.84" x2="57.70" y2="621.84" stroke="#111" stroke-width="0.9" />
<text x="52.8" y="624.8" font-size="8.6" text-anchor="end" fill="#222" >0.7</text>
<line x1="54.70" y1="614.05" x2="56.40" y2="614.05" stroke="#111" stroke-width="0.9" />
<line x1="54.70" y1="606.26" x2="57.70" y2="606.26" stroke="#111" stroke-width="0.9" />
<text x="52.8" y="609.3" font-size="8.6" text-anchor="end" fill="#222" >0.8</text>
<line x1="66.30" y1="738.60" x2="66.30" y2="735.60" stroke="#111" stroke-width="0.9" />
<line x1="78.09" y1="738.60" x2="78.09" y2="736.90" stroke="#111" stroke-width="0.9" />
<text x="66.3" y="748.6" font-size="8.6" text-anchor="middle" fill="#222" >0</text>
<line x1="89.88" y1="738.60" x2="89.88" y2="735.60" stroke="#111" stroke-width="0.9" />
<line x1="101.67" y1="738.60" x2="101.67" y2="736.90" stroke="#111" stroke-width="0.9" />
<text x="89.9" y="748.6" font-size="8.6" text-anchor="middle" fill="#222" >1</text>
<line x1="113.46" y1="738.60" x2="113.46" y2="735.60" stroke="#111" stroke-width="0.9" />
<line x1="125.25" y1="738.60" x2="125.25" y2="736.90" stroke="#111" stroke-width="0.9" />
<text x="113.5" y="748.6" font-size="8.6" text-anchor="middle" fill="#222" >2</text>
<line x1="137.04" y1="738.60" x2="137.04" y2="735.60" stroke="#111" stroke-width="0.9" />
<line x1="148.83" y1="738.60" x2="148.83" y2="736.90" stroke="#111" stroke-width="0.9" />
<text x="137.0" y="748.6" font-size="8.6" text-anchor="middle" fill="#222" >3</text>
<line x1="160.62" y1="738.60" x2="160.62" y2="735.60" stroke="#111" stroke-width="0.9" />
<line x1="172.41" y1="738.60" x2="172.41" y2="736.90" stroke="#111" stroke-width="0.9" />
<text x="160.6" y="748.6" font-size="8.6" text-anchor="middle" fill="#222" >4</text>
<line x1="184.20" y1="738.60" x2="184.20" y2="735.60" stroke="#111" stroke-width="0.9" />
<line x1="195.99" y1="738.60" x2="195.99" y2="736.90" stroke="#111" stroke-width="0.9" />
<text x="184.2" y="748.6" font-size="8.6" text-anchor="middle" fill="#222" >5</text>
<line x1="207.78" y1="738.60" x2="207.78" y2="735.60" stroke="#111" stroke-width="0.9" />
<text x="207.8" y="748.6" font-size="8.6" text-anchor="middle" fill="#222" >6</text>
<text x="137.1" y="758.4" font-size="8.9" text-anchor="middle" fill="#222" >Sliding distances (Å)</text>
<text x="0.0" y="0.0" font-size="8.6" text-anchor="middle" fill="#222" transform="translate(38.3,668.6) rotate(-90)">Sliding energy barriers (eV/atom)</text>
<text x="16.6" y="616.5" font-size="27" text-anchor="start" fill="#111" >g</text>
<path d="M66.3,703.6 71.0,702.9 75.7,708.3 80.4,718.4 85.2,720.3 89.9,723.1 94.6,722.3 99.3,721.9 104.0,713.8 108.7,723.6 113.5,723.9 118.2,722.3 122.9,723.1 127.6,721.9 132.3,713.8 137.0,711.4 141.8,713.0 146.5,713.8 151.2,726.2 155.9,727.8 160.6,730.1 165.3,730.9 170.1,725.4 174.8,718.7 179.5,713.0 184.2,702.1 188.9,699.7 193.6,699.0 198.3,695.8 203.1,695.1 207.8,698.2" stroke="#eaa3c4" stroke-width="1.0" fill="none" stroke-linejoin="round" />
<circle cx="66.3" cy="703.6" r="2.3" fill="#eaa3c4"/>
<circle cx="65.7" cy="703.0" r="1.03" fill="#fbe4ef" opacity="0.85"/>
<circle cx="71.0" cy="702.9" r="2.3" fill="#eaa3c4"/>
<circle cx="70.4" cy="702.2" r="1.03" fill="#fbe4ef" opacity="0.85"/>
<circle cx="75.7" cy="708.3" r="2.3" fill="#eaa3c4"/>
<circle cx="75.2" cy="707.7" r="1.03" fill="#fbe4ef" opacity="0.85"/>
<circle cx="80.4" cy="718.4" r="2.3" fill="#eaa3c4"/>
<circle cx="79.9" cy="717.8" r="1.03" fill="#fbe4ef" opacity="0.85"/>
<circle cx="85.2" cy="720.3" r="2.3" fill="#eaa3c4"/>
<circle cx="84.6" cy="719.7" r="1.03" fill="#fbe4ef" opacity="0.85"/>
<circle cx="89.9" cy="723.1" r="2.3" fill="#eaa3c4"/>
<circle cx="89.3" cy="722.5" r="1.03" fill="#fbe4ef" opacity="0.85"/>
<circle cx="94.6" cy="722.3" r="2.3" fill="#eaa3c4"/>
<circle cx="94.0" cy="721.7" r="1.03" fill="#fbe4ef" opacity="0.85"/>
<circle cx="99.3" cy="721.9" r="2.3" fill="#eaa3c4"/>
<circle cx="98.7" cy="721.2" r="1.03" fill="#fbe4ef" opacity="0.85"/>
<circle cx="104.0" cy="713.8" r="2.3" fill="#eaa3c4"/>
<circle cx="103.5" cy="713.1" r="1.03" fill="#fbe4ef" opacity="0.85"/>
<circle cx="108.7" cy="723.6" r="2.3" fill="#eaa3c4"/>
<circle cx="108.2" cy="722.9" r="1.03" fill="#fbe4ef" opacity="0.85"/>
<circle cx="113.5" cy="723.9" r="2.3" fill="#eaa3c4"/>
<circle cx="112.9" cy="723.2" r="1.03" fill="#fbe4ef" opacity="0.85"/>
<circle cx="118.2" cy="722.3" r="2.3" fill="#eaa3c4"/>
<circle cx="117.6" cy="721.7" r="1.03" fill="#fbe4ef" opacity="0.85"/>
<circle cx="122.9" cy="723.1" r="2.3" fill="#eaa3c4"/>
<circle cx="122.3" cy="722.5" r="1.03" fill="#fbe4ef" opacity="0.85"/>
<circle cx="127.6" cy="721.9" r="2.3" fill="#eaa3c4"/>
<circle cx="127.0" cy="721.2" r="1.03" fill="#fbe4ef" opacity="0.85"/>
<circle cx="132.3" cy="713.8" r="2.3" fill="#eaa3c4"/>
<circle cx="131.7" cy="713.1" r="1.03" fill="#fbe4ef" opacity="0.85"/>
<circle cx="137.0" cy="711.4" r="2.3" fill="#eaa3c4"/>
<circle cx="136.5" cy="710.8" r="1.03" fill="#fbe4ef" opacity="0.85"/>
<circle cx="141.8" cy="713.0" r="2.3" fill="#eaa3c4"/>
<circle cx="141.2" cy="712.3" r="1.03" fill="#fbe4ef" opacity="0.85"/>
<circle cx="146.5" cy="713.8" r="2.3" fill="#eaa3c4"/>
<circle cx="145.9" cy="713.1" r="1.03" fill="#fbe4ef" opacity="0.85"/>
<circle cx="151.2" cy="726.2" r="2.3" fill="#eaa3c4"/>
<circle cx="150.6" cy="725.6" r="1.03" fill="#fbe4ef" opacity="0.85"/>
<circle cx="155.9" cy="727.8" r="2.3" fill="#eaa3c4"/>
<circle cx="155.3" cy="727.1" r="1.03" fill="#fbe4ef" opacity="0.85"/>
<circle cx="160.6" cy="730.1" r="2.3" fill="#eaa3c4"/>
<circle cx="160.0" cy="729.5" r="1.03" fill="#fbe4ef" opacity="0.85"/>
<circle cx="165.3" cy="730.9" r="2.3" fill="#eaa3c4"/>
<circle cx="164.8" cy="730.3" r="1.03" fill="#fbe4ef" opacity="0.85"/>
<circle cx="170.1" cy="725.4" r="2.3" fill="#eaa3c4"/>
<circle cx="169.5" cy="724.8" r="1.03" fill="#fbe4ef" opacity="0.85"/>
<circle cx="174.8" cy="718.7" r="2.3" fill="#eaa3c4"/>
<circle cx="174.2" cy="718.1" r="1.03" fill="#fbe4ef" opacity="0.85"/>
<circle cx="179.5" cy="713.0" r="2.3" fill="#eaa3c4"/>
<circle cx="178.9" cy="712.3" r="1.03" fill="#fbe4ef" opacity="0.85"/>
<circle cx="184.2" cy="702.1" r="2.3" fill="#eaa3c4"/>
<circle cx="183.6" cy="701.4" r="1.03" fill="#fbe4ef" opacity="0.85"/>
<circle cx="188.9" cy="699.7" r="2.3" fill="#eaa3c4"/>
<circle cx="188.3" cy="699.1" r="1.03" fill="#fbe4ef" opacity="0.85"/>
<circle cx="193.6" cy="699.0" r="2.3" fill="#eaa3c4"/>
<circle cx="193.1" cy="698.3" r="1.03" fill="#fbe4ef" opacity="0.85"/>
<circle cx="198.3" cy="695.8" r="2.3" fill="#eaa3c4"/>
<circle cx="197.8" cy="695.2" r="1.03" fill="#fbe4ef" opacity="0.85"/>
<circle cx="203.1" cy="695.1" r="2.3" fill="#eaa3c4"/>
<circle cx="202.5" cy="694.4" r="1.03" fill="#fbe4ef" opacity="0.85"/>
<circle cx="207.8" cy="698.2" r="2.3" fill="#eaa3c4"/>
<circle cx="207.2" cy="697.5" r="1.03" fill="#fbe4ef" opacity="0.85"/>
<path d="M66.3,688.1 71.0,670.3 75.7,657.7 80.4,648.3 85.2,641.3 89.9,639.0 94.6,639.8 99.3,646.8 104.0,662.3 108.7,685.7 113.5,714.5 118.2,730.9 122.9,720.8 127.6,712.2 132.3,702.1 137.0,685.7 141.8,668.6 146.5,656.1 151.2,647.5 155.9,641.3 160.6,639.0 165.3,639.8 170.1,648.3 174.8,663.9 179.5,688.8 184.2,716.9 188.9,730.9 193.6,720.0 198.3,712.2 203.1,700.5 207.8,682.6" stroke="#26a8d8" stroke-width="1.0" fill="none" stroke-linejoin="round" />
<circle cx="66.3" cy="688.1" r="2.5" fill="#26a8d8"/>
<circle cx="65.7" cy="687.4" r="1.12" fill="#bfeaff" opacity="0.85"/>
<circle cx="71.0" cy="670.3" r="2.5" fill="#26a8d8"/>
<circle cx="70.4" cy="669.6" r="1.12" fill="#bfeaff" opacity="0.85"/>
<circle cx="75.7" cy="657.7" r="2.5" fill="#26a8d8"/>
<circle cx="75.1" cy="657.0" r="1.12" fill="#bfeaff" opacity="0.85"/>
<circle cx="80.4" cy="648.3" r="2.5" fill="#26a8d8"/>
<circle cx="79.8" cy="647.6" r="1.12" fill="#bfeaff" opacity="0.85"/>
<circle cx="85.2" cy="641.3" r="2.5" fill="#26a8d8"/>
<circle cx="84.5" cy="640.6" r="1.12" fill="#bfeaff" opacity="0.85"/>
<circle cx="89.9" cy="639.0" r="2.5" fill="#26a8d8"/>
<circle cx="89.3" cy="638.3" r="1.12" fill="#bfeaff" opacity="0.85"/>
<circle cx="94.6" cy="639.8" r="2.5" fill="#26a8d8"/>
<circle cx="94.0" cy="639.1" r="1.12" fill="#bfeaff" opacity="0.85"/>
<circle cx="99.3" cy="646.8" r="2.5" fill="#26a8d8"/>
<circle cx="98.7" cy="646.1" r="1.12" fill="#bfeaff" opacity="0.85"/>
<circle cx="104.0" cy="662.3" r="2.5" fill="#26a8d8"/>
<circle cx="103.4" cy="661.6" r="1.12" fill="#bfeaff" opacity="0.85"/>
<circle cx="108.7" cy="685.7" r="2.5" fill="#26a8d8"/>
<circle cx="108.1" cy="685.0" r="1.12" fill="#bfeaff" opacity="0.85"/>
<circle cx="113.5" cy="714.5" r="2.5" fill="#26a8d8"/>
<circle cx="112.8" cy="713.8" r="1.12" fill="#bfeaff" opacity="0.85"/>
<circle cx="118.2" cy="730.9" r="2.5" fill="#26a8d8"/>
<circle cx="117.6" cy="730.2" r="1.12" fill="#bfeaff" opacity="0.85"/>
<circle cx="122.9" cy="720.8" r="2.5" fill="#26a8d8"/>
<circle cx="122.3" cy="720.1" r="1.12" fill="#bfeaff" opacity="0.85"/>
<circle cx="127.6" cy="712.2" r="2.5" fill="#26a8d8"/>
<circle cx="127.0" cy="711.5" r="1.12" fill="#bfeaff" opacity="0.85"/>
<circle cx="132.3" cy="702.1" r="2.5" fill="#26a8d8"/>
<circle cx="131.7" cy="701.4" r="1.12" fill="#bfeaff" opacity="0.85"/>
<circle cx="137.0" cy="685.7" r="2.5" fill="#26a8d8"/>
<circle cx="136.4" cy="685.0" r="1.12" fill="#bfeaff" opacity="0.85"/>
<circle cx="141.8" cy="668.6" r="2.5" fill="#26a8d8"/>
<circle cx="141.1" cy="667.9" r="1.12" fill="#bfeaff" opacity="0.85"/>
<circle cx="146.5" cy="656.1" r="2.5" fill="#26a8d8"/>
<circle cx="145.8" cy="655.4" r="1.12" fill="#bfeaff" opacity="0.85"/>
<circle cx="151.2" cy="647.5" r="2.5" fill="#26a8d8"/>
<circle cx="150.6" cy="646.8" r="1.12" fill="#bfeaff" opacity="0.85"/>
<circle cx="155.9" cy="641.3" r="2.5" fill="#26a8d8"/>
<circle cx="155.3" cy="640.6" r="1.12" fill="#bfeaff" opacity="0.85"/>
<circle cx="160.6" cy="639.0" r="2.5" fill="#26a8d8"/>
<circle cx="160.0" cy="638.3" r="1.12" fill="#bfeaff" opacity="0.85"/>
<circle cx="165.3" cy="639.8" r="2.5" fill="#26a8d8"/>
<circle cx="164.7" cy="639.1" r="1.12" fill="#bfeaff" opacity="0.85"/>
<circle cx="170.1" cy="648.3" r="2.5" fill="#26a8d8"/>
<circle cx="169.4" cy="647.6" r="1.12" fill="#bfeaff" opacity="0.85"/>
<circle cx="174.8" cy="663.9" r="2.5" fill="#26a8d8"/>
<circle cx="174.1" cy="663.2" r="1.12" fill="#bfeaff" opacity="0.85"/>
<circle cx="179.5" cy="688.8" r="2.5" fill="#26a8d8"/>
<circle cx="178.9" cy="688.1" r="1.12" fill="#bfeaff" opacity="0.85"/>
<circle cx="184.2" cy="716.9" r="2.5" fill="#26a8d8"/>
<circle cx="183.6" cy="716.2" r="1.12" fill="#bfeaff" opacity="0.85"/>
<circle cx="188.9" cy="730.9" r="2.5" fill="#26a8d8"/>
<circle cx="188.3" cy="730.2" r="1.12" fill="#bfeaff" opacity="0.85"/>
<circle cx="193.6" cy="720.0" r="2.5" fill="#26a8d8"/>
<circle cx="193.0" cy="719.3" r="1.12" fill="#bfeaff" opacity="0.85"/>
<circle cx="198.3" cy="712.2" r="2.5" fill="#26a8d8"/>
<circle cx="197.7" cy="711.5" r="1.12" fill="#bfeaff" opacity="0.85"/>
<circle cx="203.1" cy="700.5" r="2.5" fill="#26a8d8"/>
<circle cx="202.4" cy="699.8" r="1.12" fill="#bfeaff" opacity="0.85"/>
<circle cx="207.8" cy="682.6" r="2.5" fill="#26a8d8"/>
<circle cx="207.2" cy="681.9" r="1.12" fill="#bfeaff" opacity="0.85"/>
<line x1="170.50" y1="616.20" x2="188.80" y2="616.20" stroke="#26a8d8" stroke-width="1.0" />
<circle cx="179.6" cy="616.2" r="2.5" fill="#26a8d8"/>
<circle cx="179.0" cy="615.5" r="1.12" fill="#bfeaff" opacity="0.85"/>
<text x="191.4" y="619.3" font-size="8.4" text-anchor="start" fill="#222" ><tspan>TiO</tspan><tspan dy="2.3" font-size="6.3">2</tspan></text>
<line x1="170.50" y1="627.20" x2="188.80" y2="627.20" stroke="#eaa3c4" stroke-width="1.0" />
<circle cx="179.6" cy="627.2" r="2.3" fill="#eaa3c4"/>
<circle cx="179.0" cy="626.6" r="1.03" fill="#fbe4ef" opacity="0.85"/>
<text x="191.4" y="630.3" font-size="8.4" text-anchor="start" fill="#222" ><tspan>Ti</tspan><tspan dy="2.3" font-size="6.3">4</tspan><tspan dy="-2.3">O</tspan><tspan dy="2.3" font-size="6.3">7</tspan></text>
<rect x="258.60" y="606.70" width="166.00" height="134.00" fill="none" stroke="#111" stroke-width="1.0" />
<line x1="258.60" y1="732.80" x2="261.60" y2="732.80" stroke="#111" stroke-width="0.9" />
<text x="256.7" y="735.8" font-size="8.6" text-anchor="end" fill="#222" >0.0</text>
<line x1="258.60" y1="724.93" x2="260.30" y2="724.93" stroke="#111" stroke-width="0.9" />
<line x1="258.60" y1="717.06" x2="261.60" y2="717.06" stroke="#111" stroke-width="0.9" />
<text x="256.7" y="720.1" font-size="8.6" text-anchor="end" fill="#222" >0.1</text>
<line x1="258.60" y1="709.19" x2="260.30" y2="709.19" stroke="#111" stroke-width="0.9" />
<line x1="258.60" y1="701.32" x2="261.60" y2="701.32" stroke="#111" stroke-width="0.9" />
<text x="256.7" y="704.3" font-size="8.6" text-anchor="end" fill="#222" >0.2</text>
<line x1="258.60" y1="693.45" x2="260.30" y2="693.45" stroke="#111" stroke-width="0.9" />
<line x1="258.60" y1="685.58" x2="261.60" y2="685.58" stroke="#111" stroke-width="0.9" />
<text x="256.7" y="688.6" font-size="8.6" text-anchor="end" fill="#222" >0.3</text>
<line x1="258.60" y1="677.71" x2="260.30" y2="677.71" stroke="#111" stroke-width="0.9" />
<line x1="258.60" y1="669.84" x2="261.60" y2="669.84" stroke="#111" stroke-width="0.9" />
<text x="256.7" y="672.8" font-size="8.6" text-anchor="end" fill="#222" >0.4</text>
<line x1="258.60" y1="661.97" x2="260.30" y2="661.97" stroke="#111" stroke-width="0.9" />
<line x1="258.60" y1="654.10" x2="261.60" y2="654.10" stroke="#111" stroke-width="0.9" />
<text x="256.7" y="657.1" font-size="8.6" text-anchor="end" fill="#222" >0.5</text>
<line x1="258.60" y1="646.23" x2="260.30" y2="646.23" stroke="#111" stroke-width="0.9" />
<line x1="258.60" y1="638.36" x2="261.60" y2="638.36" stroke="#111" stroke-width="0.9" />
<text x="256.7" y="641.4" font-size="8.6" text-anchor="end" fill="#222" >0.6</text>
<line x1="258.60" y1="630.49" x2="260.30" y2="630.49" stroke="#111" stroke-width="0.9" />
<line x1="258.60" y1="622.62" x2="261.60" y2="622.62" stroke="#111" stroke-width="0.9" />
<text x="256.7" y="625.6" font-size="8.6" text-anchor="end" fill="#222" >0.7</text>
<line x1="258.60" y1="614.75" x2="260.30" y2="614.75" stroke="#111" stroke-width="0.9" />
<line x1="258.60" y1="606.88" x2="261.60" y2="606.88" stroke="#111" stroke-width="0.9" />
<text x="256.7" y="609.9" font-size="8.6" text-anchor="end" fill="#222" >0.8</text>
<line x1="270.20" y1="740.70" x2="270.20" y2="737.70" stroke="#111" stroke-width="0.9" />
<line x1="282.07" y1="740.70" x2="282.07" y2="739.00" stroke="#111" stroke-width="0.9" />
<text x="270.2" y="751.1" font-size="8.6" text-anchor="middle" fill="#222" >0</text>
<line x1="293.95" y1="740.70" x2="293.95" y2="737.70" stroke="#111" stroke-width="0.9" />
<line x1="305.82" y1="740.70" x2="305.82" y2="739.00" stroke="#111" stroke-width="0.9" />
<text x="293.9" y="751.1" font-size="8.6" text-anchor="middle" fill="#222" >1</text>
<line x1="317.70" y1="740.70" x2="317.70" y2="737.70" stroke="#111" stroke-width="0.9" />
<line x1="329.57" y1="740.70" x2="329.57" y2="739.00" stroke="#111" stroke-width="0.9" />
<text x="317.7" y="751.1" font-size="8.6" text-anchor="middle" fill="#222" >2</text>
<line x1="341.45" y1="740.70" x2="341.45" y2="737.70" stroke="#111" stroke-width="0.9" />
<line x1="353.32" y1="740.70" x2="353.32" y2="739.00" stroke="#111" stroke-width="0.9" />
<text x="341.4" y="751.1" font-size="8.6" text-anchor="middle" fill="#222" >3</text>
<line x1="365.20" y1="740.70" x2="365.20" y2="737.70" stroke="#111" stroke-width="0.9" />
<line x1="377.07" y1="740.70" x2="377.07" y2="739.00" stroke="#111" stroke-width="0.9" />
<text x="365.2" y="751.1" font-size="8.6" text-anchor="middle" fill="#222" >4</text>
<line x1="388.95" y1="740.70" x2="388.95" y2="737.70" stroke="#111" stroke-width="0.9" />
<line x1="400.82" y1="740.70" x2="400.82" y2="739.00" stroke="#111" stroke-width="0.9" />
<text x="388.9" y="751.1" font-size="8.6" text-anchor="middle" fill="#222" >5</text>
<line x1="412.70" y1="740.70" x2="412.70" y2="737.70" stroke="#111" stroke-width="0.9" />
<text x="412.7" y="751.1" font-size="8.6" text-anchor="middle" fill="#222" >6</text>
<text x="336.4" y="758.5" font-size="8.95" text-anchor="middle" fill="#222" >Sliding distances (Å)</text>
<text x="0.0" y="0.0" font-size="8.6" text-anchor="middle" fill="#222" transform="translate(243.2,671.3) rotate(-90)">Sliding energy barriers (eV/atom)</text>
<text x="220.5" y="614.8" font-size="27" text-anchor="start" fill="#111" >h</text>
<path d="M270.2,709.5 274.9,710.0 279.7,710.0 284.4,710.0 289.2,710.4 293.9,713.9 298.7,717.1 303.4,713.9 308.2,713.1 312.9,712.7 317.7,712.7 322.4,712.7 327.2,713.1 331.9,714.4 336.7,730.1 341.4,728.4 346.2,727.0 350.9,730.4 355.7,730.9 360.4,711.2 365.2,707.9 369.9,732.8 374.7,732.8 379.4,720.5 384.2,728.4 388.9,711.2 393.7,711.2 398.4,711.2 403.2,711.2 408.0,722.3 412.7,722.3" stroke="#b8dc9c" stroke-width="1.0" fill="none" stroke-linejoin="round" />
<circle cx="270.2" cy="709.5" r="2.1" fill="#b8dc9c"/>
<circle cx="269.7" cy="708.9" r="0.95" fill="#eaf7e0" opacity="0.85"/>
<circle cx="274.9" cy="710.0" r="2.1" fill="#b8dc9c"/>
<circle cx="274.4" cy="709.4" r="0.95" fill="#eaf7e0" opacity="0.85"/>
<circle cx="279.7" cy="710.0" r="2.1" fill="#b8dc9c"/>
<circle cx="279.2" cy="709.4" r="0.95" fill="#eaf7e0" opacity="0.85"/>
<circle cx="284.4" cy="710.0" r="2.1" fill="#b8dc9c"/>
<circle cx="283.9" cy="709.4" r="0.95" fill="#eaf7e0" opacity="0.85"/>
<circle cx="289.2" cy="710.4" r="2.1" fill="#b8dc9c"/>
<circle cx="288.7" cy="709.9" r="0.95" fill="#eaf7e0" opacity="0.85"/>
<circle cx="293.9" cy="713.9" r="2.1" fill="#b8dc9c"/>
<circle cx="293.4" cy="713.3" r="0.95" fill="#eaf7e0" opacity="0.85"/>
<circle cx="298.7" cy="717.1" r="2.1" fill="#b8dc9c"/>
<circle cx="298.2" cy="716.5" r="0.95" fill="#eaf7e0" opacity="0.85"/>
<circle cx="303.4" cy="713.9" r="2.1" fill="#b8dc9c"/>
<circle cx="302.9" cy="713.3" r="0.95" fill="#eaf7e0" opacity="0.85"/>
<circle cx="308.2" cy="713.1" r="2.1" fill="#b8dc9c"/>
<circle cx="307.7" cy="712.5" r="0.95" fill="#eaf7e0" opacity="0.85"/>
<circle cx="312.9" cy="712.7" r="2.1" fill="#b8dc9c"/>
<circle cx="312.4" cy="712.1" r="0.95" fill="#eaf7e0" opacity="0.85"/>
<circle cx="317.7" cy="712.7" r="2.1" fill="#b8dc9c"/>
<circle cx="317.2" cy="712.1" r="0.95" fill="#eaf7e0" opacity="0.85"/>
<circle cx="322.4" cy="712.7" r="2.1" fill="#b8dc9c"/>
<circle cx="321.9" cy="712.1" r="0.95" fill="#eaf7e0" opacity="0.85"/>
<circle cx="327.2" cy="713.1" r="2.1" fill="#b8dc9c"/>
<circle cx="326.7" cy="712.5" r="0.95" fill="#eaf7e0" opacity="0.85"/>
<circle cx="331.9" cy="714.4" r="2.1" fill="#b8dc9c"/>
<circle cx="331.4" cy="713.8" r="0.95" fill="#eaf7e0" opacity="0.85"/>
<circle cx="336.7" cy="730.1" r="2.1" fill="#b8dc9c"/>
<circle cx="336.2" cy="729.5" r="0.95" fill="#eaf7e0" opacity="0.85"/>
<circle cx="341.4" cy="728.4" r="2.1" fill="#b8dc9c"/>
<circle cx="340.9" cy="727.8" r="0.95" fill="#eaf7e0" opacity="0.85"/>
<circle cx="346.2" cy="727.0" r="2.1" fill="#b8dc9c"/>
<circle cx="345.7" cy="726.4" r="0.95" fill="#eaf7e0" opacity="0.85"/>
<circle cx="350.9" cy="730.4" r="2.1" fill="#b8dc9c"/>
<circle cx="350.4" cy="729.9" r="0.95" fill="#eaf7e0" opacity="0.85"/>
<circle cx="355.7" cy="730.9" r="2.1" fill="#b8dc9c"/>
<circle cx="355.2" cy="730.3" r="0.95" fill="#eaf7e0" opacity="0.85"/>
<circle cx="360.4" cy="711.2" r="2.1" fill="#b8dc9c"/>
<circle cx="359.9" cy="710.6" r="0.95" fill="#eaf7e0" opacity="0.85"/>
<circle cx="365.2" cy="707.9" r="2.1" fill="#b8dc9c"/>
<circle cx="364.7" cy="707.3" r="0.95" fill="#eaf7e0" opacity="0.85"/>
<circle cx="369.9" cy="732.8" r="2.1" fill="#b8dc9c"/>
<circle cx="369.4" cy="732.2" r="0.95" fill="#eaf7e0" opacity="0.85"/>
<circle cx="374.7" cy="732.8" r="2.1" fill="#b8dc9c"/>
<circle cx="374.2" cy="732.2" r="0.95" fill="#eaf7e0" opacity="0.85"/>
<circle cx="379.4" cy="720.5" r="2.1" fill="#b8dc9c"/>
<circle cx="378.9" cy="719.9" r="0.95" fill="#eaf7e0" opacity="0.85"/>
<circle cx="384.2" cy="728.4" r="2.1" fill="#b8dc9c"/>
<circle cx="383.7" cy="727.8" r="0.95" fill="#eaf7e0" opacity="0.85"/>
<circle cx="388.9" cy="711.2" r="2.1" fill="#b8dc9c"/>
<circle cx="388.4" cy="710.6" r="0.95" fill="#eaf7e0" opacity="0.85"/>
<circle cx="393.7" cy="711.2" r="2.1" fill="#b8dc9c"/>
<circle cx="393.2" cy="710.6" r="0.95" fill="#eaf7e0" opacity="0.85"/>
<circle cx="398.4" cy="711.2" r="2.1" fill="#b8dc9c"/>
<circle cx="397.9" cy="710.6" r="0.95" fill="#eaf7e0" opacity="0.85"/>
<circle cx="403.2" cy="711.2" r="2.1" fill="#b8dc9c"/>
<circle cx="402.7" cy="710.6" r="0.95" fill="#eaf7e0" opacity="0.85"/>
<circle cx="408.0" cy="722.3" r="2.1" fill="#b8dc9c"/>
<circle cx="407.4" cy="721.7" r="0.95" fill="#eaf7e0" opacity="0.85"/>
<circle cx="412.7" cy="722.3" r="2.1" fill="#b8dc9c"/>
<circle cx="412.2" cy="721.7" r="0.95" fill="#eaf7e0" opacity="0.85"/>
<path d="M270.2,727.0 274.9,728.4 279.7,728.4 284.4,729.7 289.2,729.2 293.9,729.2 298.7,730.4 303.4,732.3 308.2,730.4 312.9,729.7 317.7,728.4 322.4,728.4 327.2,728.4 331.9,729.2 336.7,730.1 341.4,731.5 346.2,732.3 350.9,728.9 355.7,730.1 360.4,729.7 365.2,728.4 369.9,727.6 374.7,727.0 379.4,725.7 384.2,723.7 388.9,723.7 393.7,724.5 398.4,725.2 403.2,726.5 408.0,727.6 412.7,729.2" stroke="#d2436a" stroke-width="1.0" fill="none" stroke-linejoin="round" />
<circle cx="270.2" cy="727.0" r="2.1" fill="#d2436a"/>
<circle cx="269.7" cy="726.4" r="0.95" fill="#f6c0cf" opacity="0.85"/>
<circle cx="274.9" cy="728.4" r="2.1" fill="#d2436a"/>
<circle cx="274.4" cy="727.8" r="0.95" fill="#f6c0cf" opacity="0.85"/>
<circle cx="279.7" cy="728.4" r="2.1" fill="#d2436a"/>
<circle cx="279.2" cy="727.8" r="0.95" fill="#f6c0cf" opacity="0.85"/>
<circle cx="284.4" cy="729.7" r="2.1" fill="#d2436a"/>
<circle cx="283.9" cy="729.1" r="0.95" fill="#f6c0cf" opacity="0.85"/>
<circle cx="289.2" cy="729.2" r="2.1" fill="#d2436a"/>
<circle cx="288.7" cy="728.6" r="0.95" fill="#f6c0cf" opacity="0.85"/>
<circle cx="293.9" cy="729.2" r="2.1" fill="#d2436a"/>
<circle cx="293.4" cy="728.6" r="0.95" fill="#f6c0cf" opacity="0.85"/>
<circle cx="298.7" cy="730.4" r="2.1" fill="#d2436a"/>
<circle cx="298.2" cy="729.9" r="0.95" fill="#f6c0cf" opacity="0.85"/>
<circle cx="303.4" cy="732.3" r="2.1" fill="#d2436a"/>
<circle cx="302.9" cy="731.7" r="0.95" fill="#f6c0cf" opacity="0.85"/>
<circle cx="308.2" cy="730.4" r="2.1" fill="#d2436a"/>
<circle cx="307.7" cy="729.9" r="0.95" fill="#f6c0cf" opacity="0.85"/>
<circle cx="312.9" cy="729.7" r="2.1" fill="#d2436a"/>
<circle cx="312.4" cy="729.1" r="0.95" fill="#f6c0cf" opacity="0.85"/>
<circle cx="317.7" cy="728.4" r="2.1" fill="#d2436a"/>
<circle cx="317.2" cy="727.8" r="0.95" fill="#f6c0cf" opacity="0.85"/>
<circle cx="322.4" cy="728.4" r="2.1" fill="#d2436a"/>
<circle cx="321.9" cy="727.8" r="0.95" fill="#f6c0cf" opacity="0.85"/>
<circle cx="327.2" cy="728.4" r="2.1" fill="#d2436a"/>
<circle cx="326.7" cy="727.8" r="0.95" fill="#f6c0cf" opacity="0.85"/>
<circle cx="331.9" cy="729.2" r="2.1" fill="#d2436a"/>
<circle cx="331.4" cy="728.6" r="0.95" fill="#f6c0cf" opacity="0.85"/>
<circle cx="336.7" cy="730.1" r="2.1" fill="#d2436a"/>
<circle cx="336.2" cy="729.5" r="0.95" fill="#f6c0cf" opacity="0.85"/>
<circle cx="341.4" cy="731.5" r="2.1" fill="#d2436a"/>
<circle cx="340.9" cy="731.0" r="0.95" fill="#f6c0cf" opacity="0.85"/>
<circle cx="346.2" cy="732.3" r="2.1" fill="#d2436a"/>
<circle cx="345.7" cy="731.7" r="0.95" fill="#f6c0cf" opacity="0.85"/>
<circle cx="350.9" cy="728.9" r="2.1" fill="#d2436a"/>
<circle cx="350.4" cy="728.3" r="0.95" fill="#f6c0cf" opacity="0.85"/>
<circle cx="355.7" cy="730.1" r="2.1" fill="#d2436a"/>
<circle cx="355.2" cy="729.5" r="0.95" fill="#f6c0cf" opacity="0.85"/>
<circle cx="360.4" cy="729.7" r="2.1" fill="#d2436a"/>
<circle cx="359.9" cy="729.1" r="0.95" fill="#f6c0cf" opacity="0.85"/>
<circle cx="365.2" cy="728.4" r="2.1" fill="#d2436a"/>
<circle cx="364.7" cy="727.8" r="0.95" fill="#f6c0cf" opacity="0.85"/>
<circle cx="369.9" cy="727.6" r="2.1" fill="#d2436a"/>
<circle cx="369.4" cy="727.0" r="0.95" fill="#f6c0cf" opacity="0.85"/>
<circle cx="374.7" cy="727.0" r="2.1" fill="#d2436a"/>
<circle cx="374.2" cy="726.4" r="0.95" fill="#f6c0cf" opacity="0.85"/>
<circle cx="379.4" cy="725.7" r="2.1" fill="#d2436a"/>
<circle cx="378.9" cy="725.1" r="0.95" fill="#f6c0cf" opacity="0.85"/>
<circle cx="384.2" cy="723.7" r="2.1" fill="#d2436a"/>
<circle cx="383.7" cy="723.1" r="0.95" fill="#f6c0cf" opacity="0.85"/>
<circle cx="388.9" cy="723.7" r="2.1" fill="#d2436a"/>
<circle cx="388.4" cy="723.1" r="0.95" fill="#f6c0cf" opacity="0.85"/>
<circle cx="393.7" cy="724.5" r="2.1" fill="#d2436a"/>
<circle cx="393.2" cy="723.9" r="0.95" fill="#f6c0cf" opacity="0.85"/>
<circle cx="398.4" cy="725.2" r="2.1" fill="#d2436a"/>
<circle cx="397.9" cy="724.7" r="0.95" fill="#f6c0cf" opacity="0.85"/>
<circle cx="403.2" cy="726.5" r="2.1" fill="#d2436a"/>
<circle cx="402.7" cy="725.9" r="0.95" fill="#f6c0cf" opacity="0.85"/>
<circle cx="408.0" cy="727.6" r="2.1" fill="#d2436a"/>
<circle cx="407.4" cy="727.0" r="0.95" fill="#f6c0cf" opacity="0.85"/>
<circle cx="412.7" cy="729.2" r="2.1" fill="#d2436a"/>
<circle cx="412.2" cy="728.6" r="0.95" fill="#f6c0cf" opacity="0.85"/>
<path d="M270.2,707.9 274.9,723.7 279.7,726.2 284.4,729.7 289.2,729.7 293.9,732.3 298.7,728.4 303.4,726.2 308.2,722.3 312.9,724.9 317.7,727.8 322.4,727.8 327.2,728.4 331.9,728.9 336.7,729.2 341.4,727.6 346.2,726.2 350.9,727.8 355.7,727.0 360.4,726.2 365.2,725.2 369.9,722.6 374.7,721.8 379.4,719.1 384.2,716.6 388.9,711.2 393.7,706.0 398.4,704.8 403.2,702.1 408.0,699.4 412.7,707.9" stroke="#f0962e" stroke-width="1.0" fill="none" stroke-linejoin="round" />
<circle cx="270.2" cy="707.9" r="2.1" fill="#f0962e"/>
<circle cx="269.7" cy="707.3" r="0.95" fill="#ffd9a8" opacity="0.85"/>
<circle cx="274.9" cy="723.7" r="2.1" fill="#f0962e"/>
<circle cx="274.4" cy="723.1" r="0.95" fill="#ffd9a8" opacity="0.85"/>
<circle cx="279.7" cy="726.2" r="2.1" fill="#f0962e"/>
<circle cx="279.2" cy="725.6" r="0.95" fill="#ffd9a8" opacity="0.85"/>
<circle cx="284.4" cy="729.7" r="2.1" fill="#f0962e"/>
<circle cx="283.9" cy="729.1" r="0.95" fill="#ffd9a8" opacity="0.85"/>
<circle cx="289.2" cy="729.7" r="2.1" fill="#f0962e"/>
<circle cx="288.7" cy="729.1" r="0.95" fill="#ffd9a8" opacity="0.85"/>
<circle cx="293.9" cy="732.3" r="2.1" fill="#f0962e"/>
<circle cx="293.4" cy="731.7" r="0.95" fill="#ffd9a8" opacity="0.85"/>
<circle cx="298.7" cy="728.4" r="2.1" fill="#f0962e"/>
<circle cx="298.2" cy="727.8" r="0.95" fill="#ffd9a8" opacity="0.85"/>
<circle cx="303.4" cy="726.2" r="2.1" fill="#f0962e"/>
<circle cx="302.9" cy="725.6" r="0.95" fill="#ffd9a8" opacity="0.85"/>
<circle cx="308.2" cy="722.3" r="2.1" fill="#f0962e"/>
<circle cx="307.7" cy="721.7" r="0.95" fill="#ffd9a8" opacity="0.85"/>
<circle cx="312.9" cy="724.9" r="2.1" fill="#f0962e"/>
<circle cx="312.4" cy="724.3" r="0.95" fill="#ffd9a8" opacity="0.85"/>
<circle cx="317.7" cy="727.8" r="2.1" fill="#f0962e"/>
<circle cx="317.2" cy="727.2" r="0.95" fill="#ffd9a8" opacity="0.85"/>
<circle cx="322.4" cy="727.8" r="2.1" fill="#f0962e"/>
<circle cx="321.9" cy="727.2" r="0.95" fill="#ffd9a8" opacity="0.85"/>
<circle cx="327.2" cy="728.4" r="2.1" fill="#f0962e"/>
<circle cx="326.7" cy="727.8" r="0.95" fill="#ffd9a8" opacity="0.85"/>
<circle cx="331.9" cy="728.9" r="2.1" fill="#f0962e"/>
<circle cx="331.4" cy="728.3" r="0.95" fill="#ffd9a8" opacity="0.85"/>
<circle cx="336.7" cy="729.2" r="2.1" fill="#f0962e"/>
<circle cx="336.2" cy="728.6" r="0.95" fill="#ffd9a8" opacity="0.85"/>
<circle cx="341.4" cy="727.6" r="2.1" fill="#f0962e"/>
<circle cx="340.9" cy="727.0" r="0.95" fill="#ffd9a8" opacity="0.85"/>
<circle cx="346.2" cy="726.2" r="2.1" fill="#f0962e"/>
<circle cx="345.7" cy="725.6" r="0.95" fill="#ffd9a8" opacity="0.85"/>
<circle cx="350.9" cy="727.8" r="2.1" fill="#f0962e"/>
<circle cx="350.4" cy="727.2" r="0.95" fill="#ffd9a8" opacity="0.85"/>
<circle cx="355.7" cy="727.0" r="2.1" fill="#f0962e"/>
<circle cx="355.2" cy="726.4" r="0.95" fill="#ffd9a8" opacity="0.85"/>
<circle cx="360.4" cy="726.2" r="2.1" fill="#f0962e"/>
<circle cx="359.9" cy="725.6" r="0.95" fill="#ffd9a8" opacity="0.85"/>
<circle cx="365.2" cy="725.2" r="2.1" fill="#f0962e"/>
<circle cx="364.7" cy="724.7" r="0.95" fill="#ffd9a8" opacity="0.85"/>
<circle cx="369.9" cy="722.6" r="2.1" fill="#f0962e"/>
<circle cx="369.4" cy="722.0" r="0.95" fill="#ffd9a8" opacity="0.85"/>
<circle cx="374.7" cy="721.8" r="2.1" fill="#f0962e"/>
<circle cx="374.2" cy="721.2" r="0.95" fill="#ffd9a8" opacity="0.85"/>
<circle cx="379.4" cy="719.1" r="2.1" fill="#f0962e"/>
<circle cx="378.9" cy="718.5" r="0.95" fill="#ffd9a8" opacity="0.85"/>
<circle cx="384.2" cy="716.6" r="2.1" fill="#f0962e"/>
<circle cx="383.7" cy="716.0" r="0.95" fill="#ffd9a8" opacity="0.85"/>
<circle cx="388.9" cy="711.2" r="2.1" fill="#f0962e"/>
<circle cx="388.4" cy="710.6" r="0.95" fill="#ffd9a8" opacity="0.85"/>
<circle cx="393.7" cy="706.0" r="2.1" fill="#f0962e"/>
<circle cx="393.2" cy="705.5" r="0.95" fill="#ffd9a8" opacity="0.85"/>
<circle cx="398.4" cy="704.8" r="2.1" fill="#f0962e"/>
<circle cx="397.9" cy="704.2" r="0.95" fill="#ffd9a8" opacity="0.85"/>
<circle cx="403.2" cy="702.1" r="2.1" fill="#f0962e"/>
<circle cx="402.7" cy="701.5" r="0.95" fill="#ffd9a8" opacity="0.85"/>
<circle cx="408.0" cy="699.4" r="2.1" fill="#f0962e"/>
<circle cx="407.4" cy="698.8" r="0.95" fill="#ffd9a8" opacity="0.85"/>
<circle cx="412.7" cy="707.9" r="2.1" fill="#f0962e"/>
<circle cx="412.2" cy="707.3" r="0.95" fill="#ffd9a8" opacity="0.85"/>
<path d="M270.2,660.9 274.9,662.1 279.7,648.3 284.4,648.3 289.2,648.9 293.9,675.3 298.7,671.4 303.4,675.7 308.2,677.2 312.9,673.0 317.7,674.2 322.4,674.2 327.2,674.2 331.9,674.2 336.7,675.8 341.4,617.1 346.2,628.9 350.9,733.0 355.7,654.6 360.4,654.6 365.2,646.4 369.9,644.0 374.7,644.0 379.4,640.7 384.2,659.0 388.9,662.0 393.7,660.4 398.4,660.4 403.2,661.2 408.0,664.0 412.7,639.3" stroke="#2fae4e" stroke-width="1.0" fill="none" stroke-linejoin="round" />
<circle cx="270.2" cy="660.9" r="2.5" fill="#2fae4e"/>
<circle cx="269.6" cy="660.2" r="1.12" fill="#b8efc4" opacity="0.85"/>
<circle cx="274.9" cy="662.1" r="2.5" fill="#2fae4e"/>
<circle cx="274.3" cy="661.4" r="1.12" fill="#b8efc4" opacity="0.85"/>
<circle cx="279.7" cy="648.3" r="2.5" fill="#2fae4e"/>
<circle cx="279.1" cy="647.6" r="1.12" fill="#b8efc4" opacity="0.85"/>
<circle cx="284.4" cy="648.3" r="2.5" fill="#2fae4e"/>
<circle cx="283.8" cy="647.6" r="1.12" fill="#b8efc4" opacity="0.85"/>
<circle cx="289.2" cy="648.9" r="2.5" fill="#2fae4e"/>
<circle cx="288.6" cy="648.2" r="1.12" fill="#b8efc4" opacity="0.85"/>
<circle cx="293.9" cy="675.3" r="2.5" fill="#2fae4e"/>
<circle cx="293.3" cy="674.6" r="1.12" fill="#b8efc4" opacity="0.85"/>
<circle cx="298.7" cy="671.4" r="2.5" fill="#2fae4e"/>
<circle cx="298.1" cy="670.7" r="1.12" fill="#b8efc4" opacity="0.85"/>
<circle cx="303.4" cy="675.7" r="2.5" fill="#2fae4e"/>
<circle cx="302.8" cy="675.0" r="1.12" fill="#b8efc4" opacity="0.85"/>
<circle cx="308.2" cy="677.2" r="2.5" fill="#2fae4e"/>
<circle cx="307.6" cy="676.5" r="1.12" fill="#b8efc4" opacity="0.85"/>
<circle cx="312.9" cy="673.0" r="2.5" fill="#2fae4e"/>
<circle cx="312.3" cy="672.3" r="1.12" fill="#b8efc4" opacity="0.85"/>
<circle cx="317.7" cy="674.2" r="2.5" fill="#2fae4e"/>
<circle cx="317.1" cy="673.5" r="1.12" fill="#b8efc4" opacity="0.85"/>
<circle cx="322.4" cy="674.2" r="2.5" fill="#2fae4e"/>
<circle cx="321.8" cy="673.5" r="1.12" fill="#b8efc4" opacity="0.85"/>
<circle cx="327.2" cy="674.2" r="2.5" fill="#2fae4e"/>
<circle cx="326.6" cy="673.5" r="1.12" fill="#b8efc4" opacity="0.85"/>
<circle cx="331.9" cy="674.2" r="2.5" fill="#2fae4e"/>
<circle cx="331.3" cy="673.5" r="1.12" fill="#b8efc4" opacity="0.85"/>
<circle cx="336.7" cy="675.8" r="2.5" fill="#2fae4e"/>
<circle cx="336.1" cy="675.1" r="1.12" fill="#b8efc4" opacity="0.85"/>
<circle cx="341.4" cy="617.1" r="2.5" fill="#2fae4e"/>
<circle cx="340.8" cy="616.4" r="1.12" fill="#b8efc4" opacity="0.85"/>
<circle cx="346.2" cy="628.9" r="2.5" fill="#2fae4e"/>
<circle cx="345.6" cy="628.2" r="1.12" fill="#b8efc4" opacity="0.85"/>
<circle cx="350.9" cy="733.0" r="2.5" fill="#2fae4e"/>
<circle cx="350.3" cy="732.3" r="1.12" fill="#b8efc4" opacity="0.85"/>
<circle cx="355.7" cy="654.6" r="2.5" fill="#2fae4e"/>
<circle cx="355.1" cy="653.9" r="1.12" fill="#b8efc4" opacity="0.85"/>
<circle cx="360.4" cy="654.6" r="2.5" fill="#2fae4e"/>
<circle cx="359.8" cy="653.9" r="1.12" fill="#b8efc4" opacity="0.85"/>
<circle cx="365.2" cy="646.4" r="2.5" fill="#2fae4e"/>
<circle cx="364.6" cy="645.7" r="1.12" fill="#b8efc4" opacity="0.85"/>
<circle cx="369.9" cy="644.0" r="2.5" fill="#2fae4e"/>
<circle cx="369.3" cy="643.3" r="1.12" fill="#b8efc4" opacity="0.85"/>
<circle cx="374.7" cy="644.0" r="2.5" fill="#2fae4e"/>
<circle cx="374.1" cy="643.3" r="1.12" fill="#b8efc4" opacity="0.85"/>
<circle cx="379.4" cy="640.7" r="2.5" fill="#2fae4e"/>
<circle cx="378.8" cy="640.0" r="1.12" fill="#b8efc4" opacity="0.85"/>
<circle cx="384.2" cy="659.0" r="2.5" fill="#2fae4e"/>
<circle cx="383.6" cy="658.3" r="1.12" fill="#b8efc4" opacity="0.85"/>
<circle cx="388.9" cy="662.0" r="2.5" fill="#2fae4e"/>
<circle cx="388.3" cy="661.3" r="1.12" fill="#b8efc4" opacity="0.85"/>
<circle cx="393.7" cy="660.4" r="2.5" fill="#2fae4e"/>
<circle cx="393.1" cy="659.7" r="1.12" fill="#b8efc4" opacity="0.85"/>
<circle cx="398.4" cy="660.4" r="2.5" fill="#2fae4e"/>
<circle cx="397.8" cy="659.7" r="1.12" fill="#b8efc4" opacity="0.85"/>
<circle cx="403.2" cy="661.2" r="2.5" fill="#2fae4e"/>
<circle cx="402.6" cy="660.5" r="1.12" fill="#b8efc4" opacity="0.85"/>
<circle cx="408.0" cy="664.0" r="2.5" fill="#2fae4e"/>
<circle cx="407.3" cy="663.3" r="1.12" fill="#b8efc4" opacity="0.85"/>
<circle cx="412.7" cy="639.3" r="2.5" fill="#2fae4e"/>
<circle cx="412.1" cy="638.6" r="1.12" fill="#b8efc4" opacity="0.85"/>
<line x1="293.00" y1="612.60" x2="310.00" y2="612.60" stroke="#d2436a" stroke-width="1.0" />
<circle cx="301.6" cy="612.6" r="2.1" fill="#d2436a"/>
<circle cx="301.1" cy="612.0" r="0.95" fill="#f6c0cf" opacity="0.85"/>
<text x="312.6" y="615.7" font-size="8.6" text-anchor="start" fill="#222" >V_O<tspan dy="2.3" font-size="6.3">1</tspan></text>
<line x1="293.00" y1="625.40" x2="310.00" y2="625.40" stroke="#b8dc9c" stroke-width="1.0" />
<circle cx="301.6" cy="625.4" r="2.1" fill="#b8dc9c"/>
<circle cx="301.1" cy="624.8" r="0.95" fill="#eaf7e0" opacity="0.85"/>
<text x="312.6" y="628.5" font-size="8.6" text-anchor="start" fill="#222" >V_O<tspan dy="2.3" font-size="6.3">2</tspan></text>
<line x1="293.00" y1="637.50" x2="310.00" y2="637.50" stroke="#2fae4e" stroke-width="1.0" />
<circle cx="301.6" cy="637.5" r="2.5" fill="#2fae4e"/>
<circle cx="301.0" cy="636.8" r="1.12" fill="#b8efc4" opacity="0.85"/>
<text x="312.6" y="640.6" font-size="8.6" text-anchor="start" fill="#222" >V_O<tspan dy="2.3" font-size="6.3">3</tspan></text>
<line x1="293.00" y1="648.50" x2="310.00" y2="648.50" stroke="#f0962e" stroke-width="1.0" />
<circle cx="301.6" cy="648.5" r="2.1" fill="#f0962e"/>
<circle cx="301.1" cy="647.9" r="0.95" fill="#ffd9a8" opacity="0.85"/>
<text x="312.6" y="651.6" font-size="8.6" text-anchor="start" fill="#222" >V_O<tspan dy="2.3" font-size="6.3">4</tspan></text>
<rect x="459.00" y="606.10" width="169.60" height="136.10" fill="none" stroke="#111" stroke-width="1.0" />
<line x1="459.00" y1="742.20" x2="462.00" y2="742.20" stroke="#111" stroke-width="0.9" />
<text x="457.1" y="745.2" font-size="8.6" text-anchor="end" fill="#222" >0.0</text>
<line x1="459.00" y1="728.59" x2="460.70" y2="728.59" stroke="#111" stroke-width="0.9" />
<line x1="459.00" y1="714.98" x2="462.00" y2="714.98" stroke="#111" stroke-width="0.9" />
<text x="457.1" y="718.0" font-size="8.6" text-anchor="end" fill="#222" >0.1</text>
<line x1="459.00" y1="701.37" x2="460.70" y2="701.37" stroke="#111" stroke-width="0.9" />
<line x1="459.00" y1="687.76" x2="462.00" y2="687.76" stroke="#111" stroke-width="0.9" />
<text x="457.1" y="690.8" font-size="8.6" text-anchor="end" fill="#222" >0.2</text>
<line x1="459.00" y1="674.15" x2="460.70" y2="674.15" stroke="#111" stroke-width="0.9" />
<line x1="459.00" y1="660.54" x2="462.00" y2="660.54" stroke="#111" stroke-width="0.9" />
<text x="457.1" y="663.5" font-size="8.6" text-anchor="end" fill="#222" >0.3</text>
<line x1="459.00" y1="646.93" x2="460.70" y2="646.93" stroke="#111" stroke-width="0.9" />
<line x1="459.00" y1="633.32" x2="462.00" y2="633.32" stroke="#111" stroke-width="0.9" />
<text x="457.1" y="636.3" font-size="8.6" text-anchor="end" fill="#222" >0.4</text>
<line x1="459.00" y1="619.71" x2="460.70" y2="619.71" stroke="#111" stroke-width="0.9" />
<line x1="459.00" y1="606.10" x2="462.00" y2="606.10" stroke="#111" stroke-width="0.9" />
<text x="457.1" y="609.1" font-size="8.6" text-anchor="end" fill="#222" >0.5</text>
<rect x="476.20" y="649.65" width="14.60" height="92.55" fill="#1ea6de" stroke="none" stroke-width="1" />
<text x="483.5" y="647.1" font-size="8.5" text-anchor="middle" fill="#222" >0.34</text>
<line x1="483.50" y1="742.20" x2="483.50" y2="739.20" stroke="#111" stroke-width="0.9" />
<text x="483.8" y="752.9" font-size="8.6" text-anchor="middle" fill="#222" ><tspan>TiO</tspan><tspan dy="2.8" font-size="5.8">2</tspan></text>
<rect x="500.30" y="714.98" width="14.60" height="27.22" fill="#e9a3c6" stroke="none" stroke-width="1" />
<text x="507.6" y="712.4" font-size="8.5" text-anchor="middle" fill="#222" >0.10</text>
<line x1="507.60" y1="742.20" x2="507.60" y2="739.20" stroke="#111" stroke-width="0.9" />
<text x="507.9" y="752.9" font-size="8.6" text-anchor="middle" fill="#222" ><tspan>Ti</tspan><tspan dy="2.8" font-size="5.8">4</tspan><tspan dy="-2.8">O</tspan><tspan dy="2.8" font-size="5.8">7</tspan></text>
<rect x="524.40" y="734.85" width="14.60" height="7.35" fill="#d2384f" stroke="none" stroke-width="1" />
<text x="531.7" y="732.3" font-size="8.5" text-anchor="middle" fill="#222" >0.027</text>
<line x1="531.70" y1="742.20" x2="531.70" y2="739.20" stroke="#111" stroke-width="0.9" />
<text x="532.0" y="752.9" font-size="8.6" text-anchor="middle" fill="#222" >V_O<tspan dy="2.8" font-size="5.8">1</tspan></text>
<rect x="548.60" y="715.80" width="14.60" height="26.40" fill="#b6d9a0" stroke="none" stroke-width="1" />
<text x="555.9" y="713.2" font-size="8.5" text-anchor="middle" fill="#222" >0.097</text>
<line x1="555.90" y1="742.20" x2="555.90" y2="739.20" stroke="#111" stroke-width="0.9" />
<text x="556.2" y="752.9" font-size="8.6" text-anchor="middle" fill="#222" >V_O<tspan dy="2.8" font-size="5.8">2</tspan></text>
<rect x="572.90" y="616.99" width="14.60" height="125.21" fill="#33b04f" stroke="none" stroke-width="1" />
<text x="580.2" y="614.4" font-size="8.5" text-anchor="middle" fill="#222" >0.46</text>
<line x1="580.20" y1="742.20" x2="580.20" y2="739.20" stroke="#111" stroke-width="0.9" />
<text x="580.5" y="752.9" font-size="8.6" text-anchor="middle" fill="#222" >V_O<tspan dy="2.8" font-size="5.8">3</tspan></text>
<rect x="596.90" y="722.60" width="14.60" height="19.60" fill="#f0922f" stroke="none" stroke-width="1" />
<text x="604.2" y="720.0" font-size="8.5" text-anchor="middle" fill="#222" >0.072</text>
<line x1="604.20" y1="742.20" x2="604.20" y2="739.20" stroke="#111" stroke-width="0.9" />
<text x="604.5" y="752.9" font-size="8.6" text-anchor="middle" fill="#222" >V_O<tspan dy="2.8" font-size="5.8">4</tspan></text>
<text x="0.0" y="0.0" font-size="8.6" text-anchor="middle" fill="#222" transform="translate(440.6,672.7) rotate(-90)">Sliding energy barriers (eV/atom)</text>
<text x="429.6" y="614.3" font-size="25.5" text-anchor="start" font-weight="bold" fill="#111" >i</text>
</svg></body></html>
